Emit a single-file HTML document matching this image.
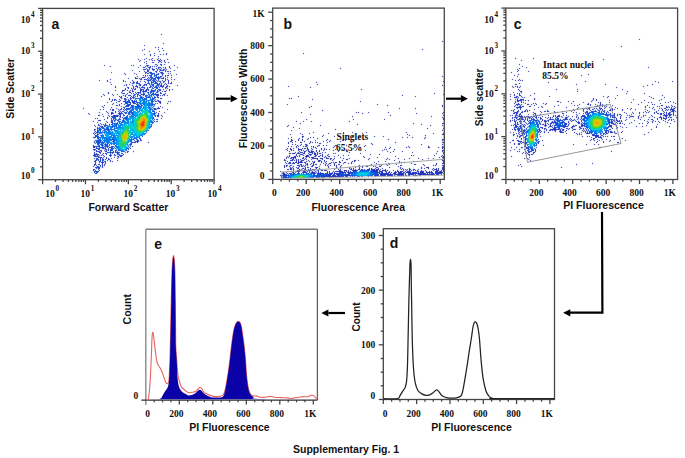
<!DOCTYPE html><html><head><meta charset="utf-8"><style>html,body{margin:0;padding:0;background:#fff;overflow:hidden}svg{display:block}</style></head><body>
<svg width="685" height="458" viewBox="0 0 685 458">
<rect width="685" height="458" fill="#fff"/>
<defs><filter id="bl" filterUnits="userSpaceOnUse" x="0" y="0" width="685" height="458"><feConvolveMatrix order="3" kernelMatrix="0 1 0 1 12 1 0 1 0" divisor="16" edgeMode="none"/></filter></defs>
<g filter="url(#bl)"><path fill="#1c2ab1" d="M161 34h1v1h-1zM163 43h1v1h-1zM144 45h1v1h-1zM155 47h1v1h-1zM158 47h1v1h-1zM162 48h1v1h-1zM144 49h1v1h-1zM158 49h1v1h-1zM142 50h1v1h-1zM163 50h1v1h-1zM149 51h1v1h-1zM159 51h1v1h-1zM154 53h1v1h-1zM166 53h1v1h-1zM144 54h1v1h-1zM150 54h1v1h-1zM160 54h1v1h-1zM163 54h1v1h-1zM166 54h1v1h-1zM150 55h1v1h-1zM154 55h1v1h-1zM158 56h1v1h-1zM146 58h1v1h-1zM152 58h1v1h-1zM158 58h1v1h-1zM138 59h1v1h-1zM144 59h1v1h-1zM149 59h1v1h-1zM151 59h1v1h-1zM157 59h1v1h-1zM160 59h1v1h-1zM167 59h1v1h-1zM140 60h1v1h-1zM152 60h1v1h-1zM154 60h1v1h-1zM161 60h1v1h-1zM164 60h1v1h-1zM139 61h1v1h-1zM146 61h1v1h-1zM164 61h1v1h-1zM144 62h1v1h-1zM158 62h1v1h-1zM161 62h1v1h-1zM165 62h1v1h-1zM168 62h1v1h-1zM146 63h1v1h-1zM164 64h1v1h-1zM104 65h1v1h-1zM131 65h1v1h-1zM133 65h1v1h-1zM140 65h1v1h-1zM157 65h1v1h-1zM174 65h1v1h-1zM110 66h1v1h-1zM145 66h1v1h-1zM150 66h1v1h-1zM152 66h1v1h-1zM154 66h1v1h-1zM156 66h1v1h-1zM169 66h1v1h-1zM138 67h1v1h-1zM143 67h1v1h-1zM144 67h1v1h-1zM169 67h1v1h-1zM177 67h1v1h-1zM146 68h1v1h-1zM152 68h1v1h-1zM156 68h1v1h-1zM170 68h1v1h-1zM143 69h1v1h-1zM154 69h1v1h-1zM166 69h1v1h-1zM132 70h1v1h-1zM174 70h1v1h-1zM139 71h1v1h-1zM144 71h1v1h-1zM165 71h1v1h-1zM167 71h1v1h-1zM168 71h1v1h-1zM170 71h1v1h-1zM111 72h1v1h-1zM124 73h1v1h-1zM134 73h1v1h-1zM168 73h1v1h-1zM170 73h1v1h-1zM125 74h1v1h-1zM136 74h1v1h-1zM176 74h1v1h-1zM143 75h1v1h-1zM145 75h1v1h-1zM147 75h1v1h-1zM165 75h1v1h-1zM167 75h1v1h-1zM168 75h1v1h-1zM171 75h1v1h-1zM137 76h1v1h-1zM165 76h1v1h-1zM135 77h1v1h-1zM142 77h1v1h-1zM167 77h1v1h-1zM171 77h1v1h-1zM128 78h1v1h-1zM135 78h1v1h-1zM137 78h1v1h-1zM139 78h1v1h-1zM110 79h1v1h-1zM140 79h1v1h-1zM141 79h1v1h-1zM167 79h1v1h-1zM171 79h1v1h-1zM174 79h1v1h-1zM99 80h1v1h-1zM107 80h1v1h-1zM123 80h1v1h-1zM132 80h1v1h-1zM162 80h1v1h-1zM168 80h1v1h-1zM107 81h1v1h-1zM123 81h1v1h-1zM125 81h1v1h-1zM137 81h1v1h-1zM140 81h1v1h-1zM144 81h1v1h-1zM168 81h1v1h-1zM110 82h1v1h-1zM130 82h1v1h-1zM163 82h1v1h-1zM168 82h1v1h-1zM171 82h1v1h-1zM165 83h1v1h-1zM168 83h1v1h-1zM170 83h1v1h-1zM171 83h1v1h-1zM111 84h1v1h-1zM126 84h1v1h-1zM129 84h1v1h-1zM164 84h1v1h-1zM124 85h1v1h-1zM126 85h1v1h-1zM177 85h1v1h-1zM115 86h1v1h-1zM169 86h1v1h-1zM115 87h1v1h-1zM127 87h1v1h-1zM128 87h1v1h-1zM139 87h1v1h-1zM147 87h1v1h-1zM125 88h1v1h-1zM128 88h1v1h-1zM131 88h1v1h-1zM167 88h1v1h-1zM125 89h1v1h-1zM135 89h1v1h-1zM163 89h1v1h-1zM169 89h1v1h-1zM172 89h1v1h-1zM115 90h1v1h-1zM124 90h1v1h-1zM127 90h1v1h-1zM130 90h1v1h-1zM166 90h1v1h-1zM169 90h1v1h-1zM129 91h1v1h-1zM162 91h1v1h-1zM164 91h1v1h-1zM165 91h1v1h-1zM108 92h1v1h-1zM135 92h1v1h-1zM160 92h1v1h-1zM108 93h1v1h-1zM127 93h1v1h-1zM161 93h1v1h-1zM165 93h1v1h-1zM103 94h1v1h-1zM112 94h1v1h-1zM117 94h1v1h-1zM126 94h1v1h-1zM104 95h1v1h-1zM113 95h1v1h-1zM123 95h1v1h-1zM125 95h1v1h-1zM128 95h1v1h-1zM160 95h1v1h-1zM162 95h1v1h-1zM167 95h1v1h-1zM101 96h1v1h-1zM119 96h1v1h-1zM127 97h1v1h-1zM158 97h1v1h-1zM109 98h1v1h-1zM160 98h1v1h-1zM161 98h1v1h-1zM109 99h1v1h-1zM115 99h1v1h-1zM119 99h1v1h-1zM114 100h1v1h-1zM116 100h1v1h-1zM120 100h1v1h-1zM111 101h1v1h-1zM118 101h1v1h-1zM119 101h1v1h-1zM123 101h1v1h-1zM168 101h1v1h-1zM170 101h1v1h-1zM107 102h1v1h-1zM116 102h1v1h-1zM113 103h1v1h-1zM121 103h1v1h-1zM155 103h1v1h-1zM157 103h1v1h-1zM160 103h1v1h-1zM167 103h1v1h-1zM112 104h1v1h-1zM119 104h1v1h-1zM124 104h1v1h-1zM104 105h1v1h-1zM116 105h1v1h-1zM117 105h1v1h-1zM119 105h1v1h-1zM102 106h1v1h-1zM121 106h1v1h-1zM160 106h1v1h-1zM103 107h1v1h-1zM111 107h1v1h-1zM158 107h1v1h-1zM162 107h1v1h-1zM83 108h1v1h-1zM116 108h1v1h-1zM159 108h1v1h-1zM100 109h1v1h-1zM103 109h1v1h-1zM110 109h1v1h-1zM118 109h1v1h-1zM167 109h1v1h-1zM106 111h1v1h-1zM118 111h1v1h-1zM159 111h1v1h-1zM99 112h1v1h-1zM107 112h1v1h-1zM115 112h1v1h-1zM156 112h1v1h-1zM164 112h1v1h-1zM88 113h1v1h-1zM108 113h1v1h-1zM158 113h1v1h-1zM89 114h1v1h-1zM102 114h1v1h-1zM98 115h1v1h-1zM99 115h1v1h-1zM108 115h1v1h-1zM161 115h1v1h-1zM103 116h1v1h-1zM109 116h1v1h-1zM162 116h1v1h-1zM107 117h1v1h-1zM95 118h1v1h-1zM97 118h1v1h-1zM107 118h1v1h-1zM161 118h1v1h-1zM104 119h1v1h-1zM98 120h1v1h-1zM99 120h1v1h-1zM100 120h1v1h-1zM93 121h1v1h-1zM106 121h1v1h-1zM156 121h1v1h-1zM157 121h1v1h-1zM97 122h1v1h-1zM100 123h1v1h-1zM101 124h1v1h-1zM103 124h1v1h-1zM94 125h1v1h-1zM95 126h1v1h-1zM94 129h1v1h-1zM93 133h1v1h-1zM93 137h1v1h-1zM141 140h1v1h-1zM148 142h1v1h-1zM93 145h1v1h-1zM132 146h1v1h-1zM130 148h1v1h-1zM133 151h1v1h-1zM94 152h1v1h-1zM106 154h1v1h-1zM123 154h1v1h-1zM106 157h1v1h-1zM114 157h1v1h-1zM94 158h1v1h-1zM106 158h1v1h-1zM108 158h1v1h-1zM111 158h1v1h-1zM117 158h1v1h-1zM107 160h1v1h-1zM110 160h1v1h-1zM117 160h1v1h-1zM110 161h1v1h-1zM112 161h1v1h-1zM104 165h1v1h-1zM93 166h1v1h-1zM99 170h1v1h-1z"/>
<path fill="#1a30c3" d="M158 60h1v1h-1zM159 60h1v1h-1zM159 61h1v1h-1zM160 61h1v1h-1zM152 62h1v1h-1zM153 62h1v1h-1zM155 64h1v1h-1zM156 64h1v1h-1zM160 64h1v1h-1zM161 64h1v1h-1zM146 65h1v1h-1zM147 65h1v1h-1zM148 65h1v1h-1zM161 65h1v1h-1zM147 66h1v1h-1zM148 67h1v1h-1zM149 67h1v1h-1zM150 67h1v1h-1zM158 67h1v1h-1zM159 67h1v1h-1zM160 67h1v1h-1zM163 67h1v1h-1zM165 67h1v1h-1zM149 68h1v1h-1zM158 68h1v1h-1zM161 68h1v1h-1zM165 68h1v1h-1zM144 69h1v1h-1zM145 69h1v1h-1zM147 69h1v1h-1zM149 69h1v1h-1zM152 69h1v1h-1zM153 69h1v1h-1zM157 69h1v1h-1zM163 69h1v1h-1zM164 69h1v1h-1zM147 70h1v1h-1zM148 70h1v1h-1zM153 70h1v1h-1zM157 70h1v1h-1zM160 70h1v1h-1zM161 70h1v1h-1zM162 70h1v1h-1zM163 70h1v1h-1zM165 70h1v1h-1zM147 71h1v1h-1zM148 71h1v1h-1zM155 71h1v1h-1zM156 71h1v1h-1zM159 71h1v1h-1zM145 72h1v1h-1zM146 72h1v1h-1zM149 72h1v1h-1zM150 72h1v1h-1zM151 72h1v1h-1zM156 72h1v1h-1zM160 72h1v1h-1zM161 72h1v1h-1zM162 72h1v1h-1zM145 73h1v1h-1zM147 73h1v1h-1zM148 73h1v1h-1zM158 73h1v1h-1zM161 73h1v1h-1zM163 73h1v1h-1zM156 74h1v1h-1zM157 74h1v1h-1zM158 74h1v1h-1zM162 74h1v1h-1zM149 75h1v1h-1zM162 75h1v1h-1zM145 76h1v1h-1zM154 76h1v1h-1zM160 76h1v1h-1zM161 76h1v1h-1zM143 77h1v1h-1zM144 77h1v1h-1zM148 77h1v1h-1zM150 77h1v1h-1zM152 77h1v1h-1zM163 77h1v1h-1zM136 78h1v1h-1zM141 78h1v1h-1zM147 78h1v1h-1zM149 78h1v1h-1zM161 78h1v1h-1zM162 78h1v1h-1zM163 78h1v1h-1zM165 78h1v1h-1zM144 79h1v1h-1zM145 79h1v1h-1zM146 79h1v1h-1zM148 79h1v1h-1zM150 79h1v1h-1zM151 79h1v1h-1zM158 79h1v1h-1zM165 79h1v1h-1zM147 80h1v1h-1zM149 80h1v1h-1zM150 80h1v1h-1zM156 80h1v1h-1zM158 80h1v1h-1zM165 80h1v1h-1zM133 81h1v1h-1zM151 81h1v1h-1zM157 81h1v1h-1zM159 81h1v1h-1zM160 81h1v1h-1zM163 81h1v1h-1zM164 81h1v1h-1zM133 82h1v1h-1zM134 82h1v1h-1zM136 82h1v1h-1zM137 82h1v1h-1zM145 82h1v1h-1zM151 82h1v1h-1zM156 82h1v1h-1zM160 82h1v1h-1zM132 83h1v1h-1zM133 83h1v1h-1zM136 83h1v1h-1zM137 83h1v1h-1zM154 83h1v1h-1zM155 83h1v1h-1zM157 83h1v1h-1zM159 83h1v1h-1zM161 83h1v1h-1zM140 84h1v1h-1zM144 84h1v1h-1zM145 84h1v1h-1zM146 84h1v1h-1zM153 84h1v1h-1zM159 84h1v1h-1zM161 84h1v1h-1zM166 84h1v1h-1zM132 85h1v1h-1zM136 85h1v1h-1zM139 85h1v1h-1zM140 85h1v1h-1zM143 85h1v1h-1zM144 85h1v1h-1zM146 85h1v1h-1zM153 85h1v1h-1zM160 85h1v1h-1zM161 85h1v1h-1zM163 85h1v1h-1zM167 85h1v1h-1zM133 86h1v1h-1zM135 86h1v1h-1zM136 86h1v1h-1zM137 86h1v1h-1zM142 86h1v1h-1zM150 86h1v1h-1zM158 86h1v1h-1zM160 86h1v1h-1zM161 86h1v1h-1zM162 86h1v1h-1zM163 86h1v1h-1zM166 86h1v1h-1zM167 86h1v1h-1zM133 87h1v1h-1zM137 87h1v1h-1zM141 87h1v1h-1zM143 87h1v1h-1zM144 87h1v1h-1zM149 87h1v1h-1zM150 87h1v1h-1zM157 87h1v1h-1zM159 87h1v1h-1zM162 87h1v1h-1zM165 87h1v1h-1zM166 87h1v1h-1zM133 88h1v1h-1zM135 88h1v1h-1zM140 88h1v1h-1zM144 88h1v1h-1zM147 88h1v1h-1zM157 88h1v1h-1zM165 88h1v1h-1zM132 89h1v1h-1zM134 89h1v1h-1zM140 89h1v1h-1zM142 89h1v1h-1zM143 89h1v1h-1zM146 89h1v1h-1zM147 89h1v1h-1zM148 89h1v1h-1zM151 89h1v1h-1zM158 89h1v1h-1zM159 89h1v1h-1zM160 89h1v1h-1zM122 90h1v1h-1zM123 90h1v1h-1zM132 90h1v1h-1zM140 90h1v1h-1zM143 90h1v1h-1zM145 90h1v1h-1zM146 90h1v1h-1zM148 90h1v1h-1zM151 90h1v1h-1zM157 90h1v1h-1zM159 90h1v1h-1zM160 90h1v1h-1zM122 91h1v1h-1zM132 91h1v1h-1zM133 91h1v1h-1zM140 91h1v1h-1zM142 91h1v1h-1zM144 91h1v1h-1zM145 91h1v1h-1zM146 91h1v1h-1zM150 91h1v1h-1zM157 91h1v1h-1zM158 91h1v1h-1zM121 92h1v1h-1zM129 92h1v1h-1zM130 92h1v1h-1zM137 92h1v1h-1zM138 92h1v1h-1zM140 92h1v1h-1zM147 92h1v1h-1zM148 92h1v1h-1zM157 92h1v1h-1zM122 93h1v1h-1zM123 93h1v1h-1zM124 93h1v1h-1zM131 93h1v1h-1zM133 93h1v1h-1zM136 93h1v1h-1zM140 93h1v1h-1zM144 93h1v1h-1zM155 93h1v1h-1zM160 93h1v1h-1zM141 94h1v1h-1zM142 94h1v1h-1zM155 94h1v1h-1zM156 94h1v1h-1zM157 94h1v1h-1zM158 94h1v1h-1zM163 94h1v1h-1zM164 94h1v1h-1zM129 95h1v1h-1zM130 95h1v1h-1zM137 95h1v1h-1zM139 95h1v1h-1zM140 95h1v1h-1zM143 95h1v1h-1zM156 95h1v1h-1zM157 95h1v1h-1zM158 95h1v1h-1zM164 95h1v1h-1zM121 96h1v1h-1zM125 96h1v1h-1zM131 96h1v1h-1zM137 96h1v1h-1zM157 96h1v1h-1zM120 97h1v1h-1zM121 97h1v1h-1zM130 97h1v1h-1zM132 97h1v1h-1zM133 97h1v1h-1zM152 97h1v1h-1zM155 97h1v1h-1zM157 97h1v1h-1zM121 98h1v1h-1zM124 98h1v1h-1zM130 98h1v1h-1zM131 98h1v1h-1zM133 98h1v1h-1zM112 99h1v1h-1zM114 99h1v1h-1zM124 99h1v1h-1zM126 99h1v1h-1zM128 99h1v1h-1zM130 99h1v1h-1zM155 99h1v1h-1zM112 100h1v1h-1zM125 100h1v1h-1zM131 100h1v1h-1zM132 100h1v1h-1zM134 100h1v1h-1zM154 100h1v1h-1zM157 100h1v1h-1zM158 100h1v1h-1zM124 101h1v1h-1zM132 101h1v1h-1zM133 101h1v1h-1zM153 101h1v1h-1zM155 101h1v1h-1zM156 101h1v1h-1zM158 101h1v1h-1zM159 101h1v1h-1zM160 101h1v1h-1zM130 102h1v1h-1zM132 102h1v1h-1zM133 102h1v1h-1zM159 102h1v1h-1zM160 102h1v1h-1zM125 103h1v1h-1zM130 103h1v1h-1zM133 103h1v1h-1zM134 103h1v1h-1zM135 103h1v1h-1zM129 104h1v1h-1zM130 104h1v1h-1zM154 104h1v1h-1zM129 105h1v1h-1zM131 105h1v1h-1zM154 105h1v1h-1zM125 106h1v1h-1zM128 106h1v1h-1zM123 107h1v1h-1zM124 107h1v1h-1zM121 108h1v1h-1zM154 108h1v1h-1zM155 108h1v1h-1zM157 108h1v1h-1zM158 108h1v1h-1zM112 109h1v1h-1zM113 109h1v1h-1zM120 109h1v1h-1zM121 109h1v1h-1zM123 109h1v1h-1zM129 109h1v1h-1zM154 109h1v1h-1zM155 109h1v1h-1zM156 109h1v1h-1zM112 110h1v1h-1zM113 110h1v1h-1zM119 110h1v1h-1zM124 110h1v1h-1zM115 111h1v1h-1zM120 111h1v1h-1zM122 111h1v1h-1zM123 111h1v1h-1zM127 111h1v1h-1zM129 111h1v1h-1zM154 111h1v1h-1zM111 112h1v1h-1zM112 112h1v1h-1zM119 112h1v1h-1zM121 112h1v1h-1zM124 112h1v1h-1zM111 113h1v1h-1zM112 113h1v1h-1zM113 113h1v1h-1zM118 113h1v1h-1zM119 113h1v1h-1zM120 113h1v1h-1zM121 113h1v1h-1zM122 113h1v1h-1zM155 113h1v1h-1zM111 114h1v1h-1zM119 114h1v1h-1zM120 114h1v1h-1zM123 114h1v1h-1zM158 114h1v1h-1zM113 115h1v1h-1zM114 115h1v1h-1zM115 115h1v1h-1zM116 115h1v1h-1zM117 115h1v1h-1zM118 115h1v1h-1zM120 115h1v1h-1zM123 115h1v1h-1zM124 115h1v1h-1zM155 115h1v1h-1zM157 115h1v1h-1zM158 115h1v1h-1zM111 116h1v1h-1zM112 116h1v1h-1zM116 116h1v1h-1zM117 116h1v1h-1zM120 116h1v1h-1zM155 116h1v1h-1zM157 116h1v1h-1zM158 116h1v1h-1zM112 117h1v1h-1zM120 117h1v1h-1zM122 117h1v1h-1zM111 118h1v1h-1zM119 118h1v1h-1zM113 119h1v1h-1zM120 119h1v1h-1zM154 119h1v1h-1zM156 119h1v1h-1zM157 119h1v1h-1zM114 120h1v1h-1zM111 121h1v1h-1zM114 121h1v1h-1zM154 121h1v1h-1zM107 122h1v1h-1zM111 122h1v1h-1zM112 122h1v1h-1zM105 123h1v1h-1zM98 124h1v1h-1zM105 124h1v1h-1zM109 124h1v1h-1zM111 124h1v1h-1zM98 125h1v1h-1zM99 125h1v1h-1zM104 125h1v1h-1zM100 126h1v1h-1zM101 126h1v1h-1zM102 126h1v1h-1zM104 126h1v1h-1zM151 126h1v1h-1zM97 127h1v1h-1zM99 127h1v1h-1zM103 127h1v1h-1zM95 129h1v1h-1zM94 130h1v1h-1zM95 131h1v1h-1zM94 132h1v1h-1zM96 132h1v1h-1zM95 133h1v1h-1zM97 133h1v1h-1zM94 134h1v1h-1zM97 134h1v1h-1zM98 134h1v1h-1zM95 135h1v1h-1zM95 136h1v1h-1zM94 137h1v1h-1zM95 137h1v1h-1zM140 138h1v1h-1zM133 139h1v1h-1zM137 139h1v1h-1zM140 139h1v1h-1zM134 140h1v1h-1zM137 140h1v1h-1zM138 140h1v1h-1zM140 140h1v1h-1zM94 141h1v1h-1zM135 141h1v1h-1zM136 141h1v1h-1zM137 141h1v1h-1zM138 141h1v1h-1zM94 142h1v1h-1zM132 142h1v1h-1zM133 142h1v1h-1zM134 142h1v1h-1zM135 142h1v1h-1zM137 142h1v1h-1zM95 143h1v1h-1zM109 145h1v1h-1zM93 146h1v1h-1zM94 146h1v1h-1zM95 146h1v1h-1zM102 146h1v1h-1zM93 147h1v1h-1zM94 147h1v1h-1zM100 147h1v1h-1zM101 147h1v1h-1zM102 147h1v1h-1zM103 147h1v1h-1zM109 147h1v1h-1zM110 147h1v1h-1zM129 147h1v1h-1zM96 148h1v1h-1zM102 148h1v1h-1zM103 148h1v1h-1zM104 148h1v1h-1zM108 148h1v1h-1zM113 148h1v1h-1zM115 148h1v1h-1zM93 149h1v1h-1zM94 149h1v1h-1zM95 149h1v1h-1zM98 149h1v1h-1zM99 149h1v1h-1zM105 149h1v1h-1zM106 149h1v1h-1zM108 149h1v1h-1zM128 149h1v1h-1zM94 150h1v1h-1zM96 150h1v1h-1zM100 150h1v1h-1zM101 150h1v1h-1zM104 150h1v1h-1zM106 150h1v1h-1zM108 150h1v1h-1zM115 150h1v1h-1zM96 151h1v1h-1zM97 151h1v1h-1zM98 151h1v1h-1zM99 151h1v1h-1zM101 151h1v1h-1zM105 151h1v1h-1zM106 151h1v1h-1zM113 151h1v1h-1zM115 151h1v1h-1zM127 151h1v1h-1zM128 151h1v1h-1zM99 152h1v1h-1zM100 152h1v1h-1zM107 152h1v1h-1zM108 152h1v1h-1zM112 152h1v1h-1zM113 152h1v1h-1zM115 152h1v1h-1zM116 152h1v1h-1zM119 152h1v1h-1zM125 152h1v1h-1zM127 152h1v1h-1zM94 153h1v1h-1zM96 153h1v1h-1zM100 153h1v1h-1zM103 153h1v1h-1zM105 153h1v1h-1zM106 153h1v1h-1zM112 153h1v1h-1zM117 153h1v1h-1zM121 153h1v1h-1zM122 153h1v1h-1zM94 154h1v1h-1zM96 154h1v1h-1zM97 154h1v1h-1zM98 154h1v1h-1zM102 154h1v1h-1zM110 154h1v1h-1zM114 154h1v1h-1zM117 154h1v1h-1zM93 155h1v1h-1zM97 155h1v1h-1zM99 155h1v1h-1zM101 155h1v1h-1zM103 155h1v1h-1zM109 155h1v1h-1zM110 155h1v1h-1zM111 155h1v1h-1zM114 155h1v1h-1zM115 155h1v1h-1zM121 155h1v1h-1zM122 155h1v1h-1zM94 156h1v1h-1zM96 156h1v1h-1zM97 156h1v1h-1zM98 156h1v1h-1zM104 156h1v1h-1zM110 156h1v1h-1zM117 156h1v1h-1zM118 156h1v1h-1zM120 156h1v1h-1zM121 156h1v1h-1zM98 157h1v1h-1zM99 157h1v1h-1zM100 157h1v1h-1zM101 157h1v1h-1zM103 157h1v1h-1zM118 157h1v1h-1zM96 158h1v1h-1zM97 158h1v1h-1zM100 158h1v1h-1zM102 158h1v1h-1zM98 159h1v1h-1zM100 159h1v1h-1zM102 159h1v1h-1zM103 159h1v1h-1zM105 159h1v1h-1zM108 159h1v1h-1zM109 159h1v1h-1zM95 160h1v1h-1zM98 160h1v1h-1zM100 160h1v1h-1zM94 161h1v1h-1zM95 161h1v1h-1zM99 161h1v1h-1zM100 161h1v1h-1zM95 162h1v1h-1zM99 162h1v1h-1zM101 162h1v1h-1zM102 162h1v1h-1zM103 162h1v1h-1zM105 162h1v1h-1zM95 163h1v1h-1zM102 163h1v1h-1zM105 163h1v1h-1zM94 164h1v1h-1zM95 164h1v1h-1zM98 164h1v1h-1zM99 164h1v1h-1zM102 164h1v1h-1zM104 164h1v1h-1zM94 165h1v1h-1zM96 165h1v1h-1zM100 165h1v1h-1zM102 165h1v1h-1zM100 166h1v1h-1zM102 166h1v1h-1zM95 167h1v1h-1zM96 167h1v1h-1zM99 167h1v1h-1zM102 167h1v1h-1zM96 168h1v1h-1zM98 168h1v1h-1zM99 168h1v1h-1zM93 169h1v1h-1zM94 169h1v1h-1zM98 169h1v1h-1zM93 170h1v1h-1zM95 170h1v1h-1zM97 171h1v1h-1zM98 171h1v1h-1zM94 172h1v1h-1zM95 173h1v1h-1z"/>
<path fill="#1052d8" d="M159 69h1v1h-1zM160 69h1v1h-1zM150 73h1v1h-1zM151 73h1v1h-1zM152 73h1v1h-1zM153 73h1v1h-1zM154 73h1v1h-1zM162 73h1v1h-1zM151 74h1v1h-1zM152 74h1v1h-1zM154 74h1v1h-1zM150 75h1v1h-1zM151 75h1v1h-1zM154 75h1v1h-1zM155 75h1v1h-1zM156 75h1v1h-1zM150 76h1v1h-1zM151 76h1v1h-1zM156 76h1v1h-1zM158 76h1v1h-1zM151 77h1v1h-1zM155 77h1v1h-1zM156 77h1v1h-1zM157 77h1v1h-1zM158 77h1v1h-1zM159 77h1v1h-1zM160 77h1v1h-1zM151 78h1v1h-1zM152 78h1v1h-1zM153 78h1v1h-1zM154 78h1v1h-1zM155 78h1v1h-1zM157 78h1v1h-1zM158 78h1v1h-1zM159 78h1v1h-1zM153 79h1v1h-1zM154 79h1v1h-1zM155 79h1v1h-1zM148 80h1v1h-1zM152 80h1v1h-1zM153 80h1v1h-1zM154 80h1v1h-1zM148 81h1v1h-1zM153 81h1v1h-1zM154 81h1v1h-1zM155 81h1v1h-1zM148 82h1v1h-1zM152 82h1v1h-1zM153 82h1v1h-1zM155 82h1v1h-1zM138 83h1v1h-1zM139 83h1v1h-1zM147 83h1v1h-1zM148 83h1v1h-1zM149 83h1v1h-1zM151 83h1v1h-1zM156 83h1v1h-1zM139 84h1v1h-1zM149 84h1v1h-1zM151 84h1v1h-1zM152 84h1v1h-1zM157 84h1v1h-1zM158 84h1v1h-1zM150 85h1v1h-1zM152 85h1v1h-1zM156 85h1v1h-1zM157 85h1v1h-1zM158 85h1v1h-1zM151 86h1v1h-1zM153 86h1v1h-1zM155 86h1v1h-1zM156 86h1v1h-1zM142 87h1v1h-1zM152 87h1v1h-1zM154 87h1v1h-1zM155 87h1v1h-1zM156 87h1v1h-1zM152 88h1v1h-1zM153 88h1v1h-1zM156 88h1v1h-1zM141 89h1v1h-1zM155 89h1v1h-1zM141 90h1v1h-1zM152 90h1v1h-1zM153 90h1v1h-1zM154 90h1v1h-1zM155 90h1v1h-1zM143 91h1v1h-1zM151 91h1v1h-1zM152 91h1v1h-1zM153 91h1v1h-1zM154 91h1v1h-1zM139 92h1v1h-1zM143 92h1v1h-1zM150 92h1v1h-1zM151 92h1v1h-1zM153 92h1v1h-1zM156 92h1v1h-1zM138 93h1v1h-1zM143 93h1v1h-1zM148 93h1v1h-1zM150 93h1v1h-1zM152 93h1v1h-1zM153 93h1v1h-1zM134 94h1v1h-1zM135 94h1v1h-1zM137 94h1v1h-1zM138 94h1v1h-1zM143 94h1v1h-1zM144 94h1v1h-1zM148 94h1v1h-1zM151 94h1v1h-1zM152 94h1v1h-1zM153 94h1v1h-1zM154 94h1v1h-1zM133 95h1v1h-1zM134 95h1v1h-1zM145 95h1v1h-1zM146 95h1v1h-1zM147 95h1v1h-1zM151 95h1v1h-1zM153 95h1v1h-1zM133 96h1v1h-1zM135 96h1v1h-1zM140 96h1v1h-1zM141 96h1v1h-1zM145 96h1v1h-1zM146 96h1v1h-1zM148 96h1v1h-1zM149 96h1v1h-1zM151 96h1v1h-1zM154 96h1v1h-1zM134 97h1v1h-1zM140 97h1v1h-1zM141 97h1v1h-1zM142 97h1v1h-1zM143 97h1v1h-1zM146 97h1v1h-1zM147 97h1v1h-1zM148 97h1v1h-1zM149 97h1v1h-1zM150 97h1v1h-1zM154 97h1v1h-1zM125 98h1v1h-1zM135 98h1v1h-1zM136 98h1v1h-1zM137 98h1v1h-1zM138 98h1v1h-1zM141 98h1v1h-1zM142 98h1v1h-1zM144 98h1v1h-1zM145 98h1v1h-1zM146 98h1v1h-1zM150 98h1v1h-1zM152 98h1v1h-1zM153 98h1v1h-1zM154 98h1v1h-1zM125 99h1v1h-1zM135 99h1v1h-1zM143 99h1v1h-1zM144 99h1v1h-1zM145 99h1v1h-1zM146 99h1v1h-1zM152 99h1v1h-1zM153 99h1v1h-1zM128 100h1v1h-1zM129 100h1v1h-1zM136 100h1v1h-1zM152 100h1v1h-1zM125 101h1v1h-1zM126 101h1v1h-1zM127 101h1v1h-1zM128 101h1v1h-1zM129 101h1v1h-1zM134 101h1v1h-1zM135 101h1v1h-1zM136 101h1v1h-1zM151 101h1v1h-1zM152 101h1v1h-1zM125 102h1v1h-1zM126 102h1v1h-1zM127 102h1v1h-1zM128 102h1v1h-1zM129 102h1v1h-1zM134 102h1v1h-1zM136 102h1v1h-1zM137 102h1v1h-1zM138 102h1v1h-1zM139 102h1v1h-1zM149 102h1v1h-1zM151 102h1v1h-1zM152 102h1v1h-1zM126 103h1v1h-1zM127 103h1v1h-1zM137 103h1v1h-1zM139 103h1v1h-1zM152 103h1v1h-1zM127 104h1v1h-1zM128 104h1v1h-1zM136 104h1v1h-1zM137 104h1v1h-1zM138 104h1v1h-1zM140 104h1v1h-1zM143 104h1v1h-1zM152 104h1v1h-1zM153 104h1v1h-1zM126 105h1v1h-1zM127 105h1v1h-1zM128 105h1v1h-1zM132 105h1v1h-1zM133 105h1v1h-1zM137 105h1v1h-1zM138 105h1v1h-1zM139 105h1v1h-1zM141 105h1v1h-1zM142 105h1v1h-1zM152 105h1v1h-1zM126 106h1v1h-1zM127 106h1v1h-1zM131 106h1v1h-1zM132 106h1v1h-1zM135 106h1v1h-1zM136 106h1v1h-1zM137 106h1v1h-1zM138 106h1v1h-1zM139 106h1v1h-1zM140 106h1v1h-1zM141 106h1v1h-1zM151 106h1v1h-1zM153 106h1v1h-1zM130 107h1v1h-1zM131 107h1v1h-1zM132 107h1v1h-1zM136 107h1v1h-1zM137 107h1v1h-1zM141 107h1v1h-1zM150 107h1v1h-1zM152 107h1v1h-1zM124 108h1v1h-1zM126 108h1v1h-1zM127 108h1v1h-1zM128 108h1v1h-1zM129 108h1v1h-1zM130 108h1v1h-1zM132 108h1v1h-1zM153 108h1v1h-1zM125 109h1v1h-1zM126 109h1v1h-1zM127 109h1v1h-1zM128 109h1v1h-1zM131 109h1v1h-1zM126 110h1v1h-1zM130 110h1v1h-1zM131 110h1v1h-1zM153 110h1v1h-1zM130 111h1v1h-1zM131 111h1v1h-1zM152 111h1v1h-1zM153 111h1v1h-1zM125 112h1v1h-1zM126 112h1v1h-1zM128 112h1v1h-1zM129 112h1v1h-1zM130 112h1v1h-1zM131 112h1v1h-1zM132 112h1v1h-1zM154 112h1v1h-1zM125 113h1v1h-1zM126 113h1v1h-1zM128 113h1v1h-1zM129 113h1v1h-1zM131 113h1v1h-1zM132 113h1v1h-1zM153 113h1v1h-1zM154 113h1v1h-1zM128 114h1v1h-1zM129 114h1v1h-1zM130 114h1v1h-1zM132 114h1v1h-1zM154 114h1v1h-1zM127 115h1v1h-1zM131 115h1v1h-1zM154 115h1v1h-1zM113 116h1v1h-1zM114 116h1v1h-1zM115 116h1v1h-1zM119 116h1v1h-1zM126 116h1v1h-1zM127 116h1v1h-1zM113 117h1v1h-1zM114 117h1v1h-1zM115 117h1v1h-1zM124 117h1v1h-1zM125 117h1v1h-1zM126 117h1v1h-1zM127 117h1v1h-1zM153 117h1v1h-1zM113 118h1v1h-1zM114 118h1v1h-1zM115 118h1v1h-1zM123 118h1v1h-1zM124 118h1v1h-1zM125 118h1v1h-1zM126 118h1v1h-1zM153 118h1v1h-1zM111 119h1v1h-1zM115 119h1v1h-1zM116 119h1v1h-1zM118 119h1v1h-1zM119 119h1v1h-1zM123 119h1v1h-1zM125 119h1v1h-1zM126 119h1v1h-1zM152 119h1v1h-1zM111 120h1v1h-1zM112 120h1v1h-1zM115 120h1v1h-1zM117 120h1v1h-1zM118 120h1v1h-1zM122 120h1v1h-1zM123 120h1v1h-1zM153 120h1v1h-1zM112 121h1v1h-1zM118 121h1v1h-1zM119 121h1v1h-1zM120 121h1v1h-1zM122 121h1v1h-1zM117 122h1v1h-1zM119 122h1v1h-1zM121 122h1v1h-1zM122 122h1v1h-1zM152 122h1v1h-1zM153 122h1v1h-1zM112 123h1v1h-1zM113 123h1v1h-1zM114 123h1v1h-1zM115 123h1v1h-1zM116 123h1v1h-1zM117 123h1v1h-1zM119 123h1v1h-1zM152 123h1v1h-1zM112 124h1v1h-1zM116 124h1v1h-1zM151 124h1v1h-1zM105 125h1v1h-1zM106 125h1v1h-1zM107 125h1v1h-1zM109 125h1v1h-1zM112 125h1v1h-1zM116 125h1v1h-1zM151 125h1v1h-1zM105 126h1v1h-1zM112 126h1v1h-1zM113 126h1v1h-1zM116 126h1v1h-1zM101 127h1v1h-1zM102 127h1v1h-1zM106 127h1v1h-1zM107 127h1v1h-1zM112 127h1v1h-1zM114 127h1v1h-1zM116 127h1v1h-1zM150 127h1v1h-1zM97 128h1v1h-1zM98 128h1v1h-1zM99 128h1v1h-1zM100 128h1v1h-1zM102 128h1v1h-1zM103 128h1v1h-1zM104 128h1v1h-1zM106 128h1v1h-1zM107 128h1v1h-1zM108 128h1v1h-1zM114 128h1v1h-1zM115 128h1v1h-1zM97 129h1v1h-1zM99 129h1v1h-1zM100 129h1v1h-1zM101 129h1v1h-1zM104 129h1v1h-1zM105 129h1v1h-1zM106 129h1v1h-1zM107 129h1v1h-1zM108 129h1v1h-1zM112 129h1v1h-1zM113 129h1v1h-1zM114 129h1v1h-1zM97 130h1v1h-1zM98 130h1v1h-1zM99 130h1v1h-1zM100 130h1v1h-1zM103 130h1v1h-1zM107 130h1v1h-1zM108 130h1v1h-1zM111 130h1v1h-1zM148 130h1v1h-1zM97 131h1v1h-1zM98 131h1v1h-1zM100 131h1v1h-1zM102 131h1v1h-1zM106 131h1v1h-1zM97 132h1v1h-1zM98 132h1v1h-1zM99 132h1v1h-1zM146 132h1v1h-1zM99 133h1v1h-1zM101 133h1v1h-1zM104 133h1v1h-1zM145 133h1v1h-1zM102 134h1v1h-1zM144 134h1v1h-1zM96 135h1v1h-1zM97 135h1v1h-1zM100 135h1v1h-1zM101 135h1v1h-1zM103 135h1v1h-1zM96 136h1v1h-1zM97 136h1v1h-1zM98 136h1v1h-1zM142 136h1v1h-1zM97 137h1v1h-1zM98 137h1v1h-1zM99 137h1v1h-1zM97 138h1v1h-1zM98 138h1v1h-1zM100 138h1v1h-1zM112 138h1v1h-1zM133 138h1v1h-1zM134 138h1v1h-1zM135 138h1v1h-1zM136 138h1v1h-1zM139 138h1v1h-1zM98 139h1v1h-1zM99 139h1v1h-1zM100 139h1v1h-1zM111 139h1v1h-1zM112 139h1v1h-1zM113 139h1v1h-1zM131 139h1v1h-1zM132 139h1v1h-1zM136 139h1v1h-1zM95 140h1v1h-1zM96 140h1v1h-1zM97 140h1v1h-1zM98 140h1v1h-1zM99 140h1v1h-1zM100 140h1v1h-1zM101 140h1v1h-1zM103 140h1v1h-1zM111 140h1v1h-1zM113 140h1v1h-1zM114 140h1v1h-1zM131 140h1v1h-1zM96 141h1v1h-1zM97 141h1v1h-1zM98 141h1v1h-1zM99 141h1v1h-1zM100 141h1v1h-1zM102 141h1v1h-1zM104 141h1v1h-1zM112 141h1v1h-1zM113 141h1v1h-1zM114 141h1v1h-1zM130 141h1v1h-1zM131 141h1v1h-1zM96 142h1v1h-1zM97 142h1v1h-1zM98 142h1v1h-1zM99 142h1v1h-1zM100 142h1v1h-1zM101 142h1v1h-1zM102 142h1v1h-1zM103 142h1v1h-1zM104 142h1v1h-1zM131 142h1v1h-1zM97 143h1v1h-1zM98 143h1v1h-1zM99 143h1v1h-1zM103 143h1v1h-1zM105 143h1v1h-1zM107 143h1v1h-1zM108 143h1v1h-1zM130 143h1v1h-1zM131 143h1v1h-1zM97 144h1v1h-1zM98 144h1v1h-1zM100 144h1v1h-1zM101 144h1v1h-1zM102 144h1v1h-1zM104 144h1v1h-1zM105 144h1v1h-1zM106 144h1v1h-1zM107 144h1v1h-1zM109 144h1v1h-1zM111 144h1v1h-1zM114 144h1v1h-1zM129 144h1v1h-1zM130 144h1v1h-1zM131 144h1v1h-1zM98 145h1v1h-1zM99 145h1v1h-1zM101 145h1v1h-1zM102 145h1v1h-1zM103 145h1v1h-1zM105 145h1v1h-1zM106 145h1v1h-1zM107 145h1v1h-1zM115 145h1v1h-1zM130 145h1v1h-1zM96 146h1v1h-1zM97 146h1v1h-1zM98 146h1v1h-1zM99 146h1v1h-1zM104 146h1v1h-1zM105 146h1v1h-1zM106 146h1v1h-1zM107 146h1v1h-1zM108 146h1v1h-1zM111 146h1v1h-1zM112 146h1v1h-1zM113 146h1v1h-1zM115 146h1v1h-1zM128 146h1v1h-1zM130 146h1v1h-1zM96 147h1v1h-1zM99 147h1v1h-1zM105 147h1v1h-1zM107 147h1v1h-1zM111 147h1v1h-1zM112 147h1v1h-1zM114 147h1v1h-1zM116 147h1v1h-1zM97 148h1v1h-1zM98 148h1v1h-1zM99 148h1v1h-1zM105 148h1v1h-1zM111 148h1v1h-1zM112 148h1v1h-1zM117 148h1v1h-1zM127 148h1v1h-1zM128 148h1v1h-1zM110 149h1v1h-1zM111 149h1v1h-1zM112 149h1v1h-1zM116 149h1v1h-1zM110 150h1v1h-1zM111 150h1v1h-1zM112 150h1v1h-1zM116 150h1v1h-1zM118 150h1v1h-1zM126 150h1v1h-1zM110 151h1v1h-1zM117 151h1v1h-1zM121 151h1v1h-1zM122 151h1v1h-1zM123 151h1v1h-1zM124 151h1v1h-1zM109 152h1v1h-1zM110 152h1v1h-1zM111 152h1v1h-1zM117 152h1v1h-1zM118 152h1v1h-1zM110 153h1v1h-1zM118 153h1v1h-1zM95 154h1v1h-1zM118 154h1v1h-1zM119 154h1v1h-1zM94 155h1v1h-1zM95 155h1v1h-1zM119 155h1v1h-1zM120 155h1v1h-1zM95 156h1v1h-1zM96 159h1v1h-1zM97 159h1v1h-1zM96 160h1v1h-1zM102 160h1v1h-1zM103 160h1v1h-1zM102 161h1v1h-1zM104 161h1v1h-1zM105 161h1v1h-1zM97 166h1v1h-1zM98 166h1v1h-1zM97 167h1v1h-1zM98 167h1v1h-1zM94 171h1v1h-1zM95 171h1v1h-1zM96 171h1v1h-1zM96 172h1v1h-1zM97 172h1v1h-1zM96 173h1v1h-1z"/>
<path fill="#0380ef" d="M149 94h1v1h-1zM149 95h1v1h-1zM150 95h1v1h-1zM139 98h1v1h-1zM140 98h1v1h-1zM139 99h1v1h-1zM140 99h1v1h-1zM142 99h1v1h-1zM150 99h1v1h-1zM151 99h1v1h-1zM139 100h1v1h-1zM141 100h1v1h-1zM142 100h1v1h-1zM143 100h1v1h-1zM144 100h1v1h-1zM146 100h1v1h-1zM147 100h1v1h-1zM148 100h1v1h-1zM149 100h1v1h-1zM150 100h1v1h-1zM151 100h1v1h-1zM140 101h1v1h-1zM143 101h1v1h-1zM144 101h1v1h-1zM145 101h1v1h-1zM146 101h1v1h-1zM148 101h1v1h-1zM140 102h1v1h-1zM142 102h1v1h-1zM143 102h1v1h-1zM144 102h1v1h-1zM145 102h1v1h-1zM146 102h1v1h-1zM148 102h1v1h-1zM140 103h1v1h-1zM141 103h1v1h-1zM142 103h1v1h-1zM143 103h1v1h-1zM144 103h1v1h-1zM147 103h1v1h-1zM148 103h1v1h-1zM149 103h1v1h-1zM150 103h1v1h-1zM151 103h1v1h-1zM141 104h1v1h-1zM144 104h1v1h-1zM147 104h1v1h-1zM148 104h1v1h-1zM149 104h1v1h-1zM150 104h1v1h-1zM151 104h1v1h-1zM144 105h1v1h-1zM147 105h1v1h-1zM148 105h1v1h-1zM149 105h1v1h-1zM150 105h1v1h-1zM151 105h1v1h-1zM133 106h1v1h-1zM134 106h1v1h-1zM143 106h1v1h-1zM148 106h1v1h-1zM149 106h1v1h-1zM133 107h1v1h-1zM135 107h1v1h-1zM138 107h1v1h-1zM139 107h1v1h-1zM140 107h1v1h-1zM143 107h1v1h-1zM147 107h1v1h-1zM148 107h1v1h-1zM149 107h1v1h-1zM133 108h1v1h-1zM134 108h1v1h-1zM135 108h1v1h-1zM136 108h1v1h-1zM137 108h1v1h-1zM138 108h1v1h-1zM139 108h1v1h-1zM140 108h1v1h-1zM142 108h1v1h-1zM143 108h1v1h-1zM148 108h1v1h-1zM149 108h1v1h-1zM150 108h1v1h-1zM151 108h1v1h-1zM132 109h1v1h-1zM133 109h1v1h-1zM135 109h1v1h-1zM136 109h1v1h-1zM137 109h1v1h-1zM139 109h1v1h-1zM149 109h1v1h-1zM150 109h1v1h-1zM151 109h1v1h-1zM152 109h1v1h-1zM132 110h1v1h-1zM133 110h1v1h-1zM136 110h1v1h-1zM137 110h1v1h-1zM139 110h1v1h-1zM150 110h1v1h-1zM152 110h1v1h-1zM133 111h1v1h-1zM139 111h1v1h-1zM150 111h1v1h-1zM133 112h1v1h-1zM138 112h1v1h-1zM140 112h1v1h-1zM151 112h1v1h-1zM133 113h1v1h-1zM152 113h1v1h-1zM133 114h1v1h-1zM152 114h1v1h-1zM153 114h1v1h-1zM132 115h1v1h-1zM133 115h1v1h-1zM134 115h1v1h-1zM135 115h1v1h-1zM152 115h1v1h-1zM129 116h1v1h-1zM130 116h1v1h-1zM131 116h1v1h-1zM132 116h1v1h-1zM133 116h1v1h-1zM135 116h1v1h-1zM152 116h1v1h-1zM132 117h1v1h-1zM133 117h1v1h-1zM152 117h1v1h-1zM127 118h1v1h-1zM128 118h1v1h-1zM152 118h1v1h-1zM127 119h1v1h-1zM128 119h1v1h-1zM132 119h1v1h-1zM124 120h1v1h-1zM126 120h1v1h-1zM127 120h1v1h-1zM128 120h1v1h-1zM132 120h1v1h-1zM151 120h1v1h-1zM123 121h1v1h-1zM124 121h1v1h-1zM125 121h1v1h-1zM127 121h1v1h-1zM128 121h1v1h-1zM132 121h1v1h-1zM150 121h1v1h-1zM151 121h1v1h-1zM152 121h1v1h-1zM123 122h1v1h-1zM124 122h1v1h-1zM125 122h1v1h-1zM126 122h1v1h-1zM127 122h1v1h-1zM128 122h1v1h-1zM150 122h1v1h-1zM151 122h1v1h-1zM120 123h1v1h-1zM121 123h1v1h-1zM124 123h1v1h-1zM127 123h1v1h-1zM128 123h1v1h-1zM149 123h1v1h-1zM114 124h1v1h-1zM115 124h1v1h-1zM117 124h1v1h-1zM118 124h1v1h-1zM120 124h1v1h-1zM121 124h1v1h-1zM122 124h1v1h-1zM150 124h1v1h-1zM113 125h1v1h-1zM114 125h1v1h-1zM115 125h1v1h-1zM118 125h1v1h-1zM119 125h1v1h-1zM120 125h1v1h-1zM121 125h1v1h-1zM107 126h1v1h-1zM108 126h1v1h-1zM109 126h1v1h-1zM110 126h1v1h-1zM111 126h1v1h-1zM114 126h1v1h-1zM115 126h1v1h-1zM118 126h1v1h-1zM119 126h1v1h-1zM120 126h1v1h-1zM150 126h1v1h-1zM108 127h1v1h-1zM110 127h1v1h-1zM111 127h1v1h-1zM117 127h1v1h-1zM118 127h1v1h-1zM119 127h1v1h-1zM120 127h1v1h-1zM121 127h1v1h-1zM149 127h1v1h-1zM110 128h1v1h-1zM111 128h1v1h-1zM116 128h1v1h-1zM117 128h1v1h-1zM149 128h1v1h-1zM109 129h1v1h-1zM110 129h1v1h-1zM111 129h1v1h-1zM104 130h1v1h-1zM105 130h1v1h-1zM109 130h1v1h-1zM114 130h1v1h-1zM115 130h1v1h-1zM116 130h1v1h-1zM147 130h1v1h-1zM104 131h1v1h-1zM105 131h1v1h-1zM108 131h1v1h-1zM109 131h1v1h-1zM110 131h1v1h-1zM112 131h1v1h-1zM146 131h1v1h-1zM100 132h1v1h-1zM101 132h1v1h-1zM102 132h1v1h-1zM103 132h1v1h-1zM104 132h1v1h-1zM105 132h1v1h-1zM106 132h1v1h-1zM107 132h1v1h-1zM108 132h1v1h-1zM109 132h1v1h-1zM110 132h1v1h-1zM111 132h1v1h-1zM112 132h1v1h-1zM100 133h1v1h-1zM106 133h1v1h-1zM107 133h1v1h-1zM108 133h1v1h-1zM109 133h1v1h-1zM110 133h1v1h-1zM117 133h1v1h-1zM118 133h1v1h-1zM132 133h1v1h-1zM143 133h1v1h-1zM144 133h1v1h-1zM105 134h1v1h-1zM109 134h1v1h-1zM110 134h1v1h-1zM111 134h1v1h-1zM114 134h1v1h-1zM118 134h1v1h-1zM131 134h1v1h-1zM132 134h1v1h-1zM143 134h1v1h-1zM102 135h1v1h-1zM105 135h1v1h-1zM111 135h1v1h-1zM112 135h1v1h-1zM113 135h1v1h-1zM114 135h1v1h-1zM115 135h1v1h-1zM116 135h1v1h-1zM117 135h1v1h-1zM140 135h1v1h-1zM141 135h1v1h-1zM142 135h1v1h-1zM101 136h1v1h-1zM102 136h1v1h-1zM103 136h1v1h-1zM109 136h1v1h-1zM110 136h1v1h-1zM111 136h1v1h-1zM113 136h1v1h-1zM114 136h1v1h-1zM115 136h1v1h-1zM131 136h1v1h-1zM132 136h1v1h-1zM133 136h1v1h-1zM134 136h1v1h-1zM136 136h1v1h-1zM139 136h1v1h-1zM100 137h1v1h-1zM101 137h1v1h-1zM102 137h1v1h-1zM103 137h1v1h-1zM104 137h1v1h-1zM105 137h1v1h-1zM106 137h1v1h-1zM107 137h1v1h-1zM109 137h1v1h-1zM110 137h1v1h-1zM111 137h1v1h-1zM112 137h1v1h-1zM113 137h1v1h-1zM114 137h1v1h-1zM115 137h1v1h-1zM131 137h1v1h-1zM132 137h1v1h-1zM134 137h1v1h-1zM135 137h1v1h-1zM136 137h1v1h-1zM137 137h1v1h-1zM139 137h1v1h-1zM102 138h1v1h-1zM103 138h1v1h-1zM104 138h1v1h-1zM105 138h1v1h-1zM106 138h1v1h-1zM107 138h1v1h-1zM108 138h1v1h-1zM109 138h1v1h-1zM110 138h1v1h-1zM113 138h1v1h-1zM114 138h1v1h-1zM115 138h1v1h-1zM131 138h1v1h-1zM102 139h1v1h-1zM104 139h1v1h-1zM105 139h1v1h-1zM106 139h1v1h-1zM107 139h1v1h-1zM108 139h1v1h-1zM109 139h1v1h-1zM110 139h1v1h-1zM114 139h1v1h-1zM115 139h1v1h-1zM116 139h1v1h-1zM130 139h1v1h-1zM104 140h1v1h-1zM105 140h1v1h-1zM106 140h1v1h-1zM107 140h1v1h-1zM108 140h1v1h-1zM109 140h1v1h-1zM110 140h1v1h-1zM115 140h1v1h-1zM116 140h1v1h-1zM130 140h1v1h-1zM105 141h1v1h-1zM106 141h1v1h-1zM107 141h1v1h-1zM108 141h1v1h-1zM109 141h1v1h-1zM116 141h1v1h-1zM129 141h1v1h-1zM106 142h1v1h-1zM107 142h1v1h-1zM108 142h1v1h-1zM109 142h1v1h-1zM110 142h1v1h-1zM111 142h1v1h-1zM113 142h1v1h-1zM114 142h1v1h-1zM115 142h1v1h-1zM128 142h1v1h-1zM101 143h1v1h-1zM102 143h1v1h-1zM110 143h1v1h-1zM111 143h1v1h-1zM112 143h1v1h-1zM113 143h1v1h-1zM114 143h1v1h-1zM115 143h1v1h-1zM116 143h1v1h-1zM113 144h1v1h-1zM116 144h1v1h-1zM117 144h1v1h-1zM127 144h1v1h-1zM116 145h1v1h-1zM127 145h1v1h-1zM128 145h1v1h-1zM116 146h1v1h-1zM117 146h1v1h-1zM118 146h1v1h-1zM117 147h1v1h-1zM118 147h1v1h-1zM127 147h1v1h-1zM118 148h1v1h-1zM126 148h1v1h-1zM118 149h1v1h-1zM119 149h1v1h-1zM126 149h1v1h-1zM119 150h1v1h-1zM120 150h1v1h-1zM121 150h1v1h-1zM122 150h1v1h-1zM123 150h1v1h-1zM125 150h1v1h-1z"/>
<path fill="#00abea" d="M140 100h1v1h-1zM141 101h1v1h-1zM145 103h1v1h-1zM146 103h1v1h-1zM145 104h1v1h-1zM146 104h1v1h-1zM145 105h1v1h-1zM146 105h1v1h-1zM144 106h1v1h-1zM145 106h1v1h-1zM146 106h1v1h-1zM144 107h1v1h-1zM145 107h1v1h-1zM146 107h1v1h-1zM144 108h1v1h-1zM145 108h1v1h-1zM146 108h1v1h-1zM140 109h1v1h-1zM141 109h1v1h-1zM142 109h1v1h-1zM144 109h1v1h-1zM145 109h1v1h-1zM146 109h1v1h-1zM147 109h1v1h-1zM140 110h1v1h-1zM141 110h1v1h-1zM148 110h1v1h-1zM149 110h1v1h-1zM134 111h1v1h-1zM135 111h1v1h-1zM137 111h1v1h-1zM138 111h1v1h-1zM141 111h1v1h-1zM148 111h1v1h-1zM149 111h1v1h-1zM134 112h1v1h-1zM135 112h1v1h-1zM136 112h1v1h-1zM137 112h1v1h-1zM149 112h1v1h-1zM150 112h1v1h-1zM134 113h1v1h-1zM135 113h1v1h-1zM136 113h1v1h-1zM137 113h1v1h-1zM139 113h1v1h-1zM140 113h1v1h-1zM149 113h1v1h-1zM150 113h1v1h-1zM151 113h1v1h-1zM134 114h1v1h-1zM135 114h1v1h-1zM136 114h1v1h-1zM137 114h1v1h-1zM138 114h1v1h-1zM150 114h1v1h-1zM151 114h1v1h-1zM136 115h1v1h-1zM150 115h1v1h-1zM151 115h1v1h-1zM136 116h1v1h-1zM150 116h1v1h-1zM151 116h1v1h-1zM129 117h1v1h-1zM130 117h1v1h-1zM131 117h1v1h-1zM134 117h1v1h-1zM135 117h1v1h-1zM150 117h1v1h-1zM151 117h1v1h-1zM129 118h1v1h-1zM130 118h1v1h-1zM131 118h1v1h-1zM132 118h1v1h-1zM133 118h1v1h-1zM150 118h1v1h-1zM151 118h1v1h-1zM129 119h1v1h-1zM130 119h1v1h-1zM133 119h1v1h-1zM150 119h1v1h-1zM130 120h1v1h-1zM133 120h1v1h-1zM150 120h1v1h-1zM130 121h1v1h-1zM131 121h1v1h-1zM133 121h1v1h-1zM149 121h1v1h-1zM129 122h1v1h-1zM130 122h1v1h-1zM131 122h1v1h-1zM132 122h1v1h-1zM133 122h1v1h-1zM149 122h1v1h-1zM125 123h1v1h-1zM126 123h1v1h-1zM130 123h1v1h-1zM132 123h1v1h-1zM133 123h1v1h-1zM123 124h1v1h-1zM124 124h1v1h-1zM125 124h1v1h-1zM126 124h1v1h-1zM128 124h1v1h-1zM129 124h1v1h-1zM130 124h1v1h-1zM133 124h1v1h-1zM134 124h1v1h-1zM149 124h1v1h-1zM122 125h1v1h-1zM133 125h1v1h-1zM134 125h1v1h-1zM149 125h1v1h-1zM122 126h1v1h-1zM148 126h1v1h-1zM149 126h1v1h-1zM122 127h1v1h-1zM123 127h1v1h-1zM148 127h1v1h-1zM118 128h1v1h-1zM119 128h1v1h-1zM120 128h1v1h-1zM121 128h1v1h-1zM122 128h1v1h-1zM123 128h1v1h-1zM148 128h1v1h-1zM117 129h1v1h-1zM118 129h1v1h-1zM119 129h1v1h-1zM120 129h1v1h-1zM121 129h1v1h-1zM122 129h1v1h-1zM123 129h1v1h-1zM130 129h1v1h-1zM131 129h1v1h-1zM132 129h1v1h-1zM133 129h1v1h-1zM147 129h1v1h-1zM117 130h1v1h-1zM118 130h1v1h-1zM120 130h1v1h-1zM122 130h1v1h-1zM130 130h1v1h-1zM131 130h1v1h-1zM132 130h1v1h-1zM133 130h1v1h-1zM146 130h1v1h-1zM114 131h1v1h-1zM115 131h1v1h-1zM116 131h1v1h-1zM117 131h1v1h-1zM118 131h1v1h-1zM119 131h1v1h-1zM120 131h1v1h-1zM121 131h1v1h-1zM130 131h1v1h-1zM132 131h1v1h-1zM133 131h1v1h-1zM144 131h1v1h-1zM145 131h1v1h-1zM113 132h1v1h-1zM115 132h1v1h-1zM116 132h1v1h-1zM117 132h1v1h-1zM118 132h1v1h-1zM119 132h1v1h-1zM131 132h1v1h-1zM132 132h1v1h-1zM133 132h1v1h-1zM143 132h1v1h-1zM111 133h1v1h-1zM112 133h1v1h-1zM113 133h1v1h-1zM114 133h1v1h-1zM115 133h1v1h-1zM116 133h1v1h-1zM119 133h1v1h-1zM131 133h1v1h-1zM134 133h1v1h-1zM135 133h1v1h-1zM142 133h1v1h-1zM106 134h1v1h-1zM107 134h1v1h-1zM108 134h1v1h-1zM112 134h1v1h-1zM113 134h1v1h-1zM116 134h1v1h-1zM119 134h1v1h-1zM133 134h1v1h-1zM134 134h1v1h-1zM135 134h1v1h-1zM136 134h1v1h-1zM140 134h1v1h-1zM141 134h1v1h-1zM142 134h1v1h-1zM106 135h1v1h-1zM107 135h1v1h-1zM108 135h1v1h-1zM118 135h1v1h-1zM130 135h1v1h-1zM133 135h1v1h-1zM134 135h1v1h-1zM135 135h1v1h-1zM136 135h1v1h-1zM139 135h1v1h-1zM106 136h1v1h-1zM107 136h1v1h-1zM108 136h1v1h-1zM117 136h1v1h-1zM118 136h1v1h-1zM130 136h1v1h-1zM137 136h1v1h-1zM138 136h1v1h-1zM108 137h1v1h-1zM116 137h1v1h-1zM117 137h1v1h-1zM118 137h1v1h-1zM130 137h1v1h-1zM138 137h1v1h-1zM116 138h1v1h-1zM117 138h1v1h-1zM118 138h1v1h-1zM129 138h1v1h-1zM117 139h1v1h-1zM118 139h1v1h-1zM129 139h1v1h-1zM117 140h1v1h-1zM118 140h1v1h-1zM128 140h1v1h-1zM129 140h1v1h-1zM117 141h1v1h-1zM118 141h1v1h-1zM119 141h1v1h-1zM128 141h1v1h-1zM116 142h1v1h-1zM117 142h1v1h-1zM118 142h1v1h-1zM127 142h1v1h-1zM117 143h1v1h-1zM118 143h1v1h-1zM127 143h1v1h-1zM118 144h1v1h-1zM126 144h1v1h-1zM118 145h1v1h-1zM119 146h1v1h-1zM126 146h1v1h-1zM119 147h1v1h-1zM126 147h1v1h-1zM119 148h1v1h-1zM120 148h1v1h-1zM125 148h1v1h-1zM120 149h1v1h-1zM121 149h1v1h-1zM122 149h1v1h-1zM123 149h1v1h-1zM124 149h1v1h-1zM125 149h1v1h-1z"/>
<path fill="#01d2d7" d="M142 110h1v1h-1zM143 110h1v1h-1zM144 110h1v1h-1zM145 110h1v1h-1zM146 110h1v1h-1zM147 110h1v1h-1zM142 111h1v1h-1zM143 111h1v1h-1zM144 111h1v1h-1zM145 111h1v1h-1zM147 111h1v1h-1zM142 112h1v1h-1zM143 112h1v1h-1zM144 112h1v1h-1zM147 112h1v1h-1zM148 112h1v1h-1zM141 113h1v1h-1zM142 113h1v1h-1zM147 113h1v1h-1zM139 114h1v1h-1zM140 114h1v1h-1zM148 114h1v1h-1zM137 115h1v1h-1zM138 115h1v1h-1zM148 115h1v1h-1zM149 115h1v1h-1zM137 116h1v1h-1zM148 116h1v1h-1zM149 116h1v1h-1zM137 117h1v1h-1zM148 117h1v1h-1zM149 117h1v1h-1zM134 118h1v1h-1zM135 118h1v1h-1zM136 118h1v1h-1zM137 118h1v1h-1zM149 118h1v1h-1zM134 119h1v1h-1zM135 119h1v1h-1zM149 119h1v1h-1zM134 120h1v1h-1zM149 120h1v1h-1zM134 121h1v1h-1zM134 122h1v1h-1zM148 122h1v1h-1zM131 123h1v1h-1zM134 123h1v1h-1zM135 123h1v1h-1zM148 123h1v1h-1zM131 124h1v1h-1zM132 124h1v1h-1zM135 124h1v1h-1zM148 124h1v1h-1zM123 125h1v1h-1zM124 125h1v1h-1zM125 125h1v1h-1zM126 125h1v1h-1zM127 125h1v1h-1zM128 125h1v1h-1zM129 125h1v1h-1zM130 125h1v1h-1zM131 125h1v1h-1zM132 125h1v1h-1zM135 125h1v1h-1zM147 125h1v1h-1zM148 125h1v1h-1zM123 126h1v1h-1zM124 126h1v1h-1zM127 126h1v1h-1zM128 126h1v1h-1zM129 126h1v1h-1zM131 126h1v1h-1zM132 126h1v1h-1zM133 126h1v1h-1zM134 126h1v1h-1zM147 126h1v1h-1zM124 127h1v1h-1zM130 127h1v1h-1zM131 127h1v1h-1zM132 127h1v1h-1zM133 127h1v1h-1zM134 127h1v1h-1zM147 127h1v1h-1zM124 128h1v1h-1zM129 128h1v1h-1zM130 128h1v1h-1zM131 128h1v1h-1zM132 128h1v1h-1zM133 128h1v1h-1zM134 128h1v1h-1zM147 128h1v1h-1zM124 129h1v1h-1zM134 129h1v1h-1zM135 129h1v1h-1zM146 129h1v1h-1zM123 130h1v1h-1zM129 130h1v1h-1zM134 130h1v1h-1zM135 130h1v1h-1zM136 130h1v1h-1zM145 130h1v1h-1zM122 131h1v1h-1zM129 131h1v1h-1zM134 131h1v1h-1zM135 131h1v1h-1zM136 131h1v1h-1zM137 131h1v1h-1zM143 131h1v1h-1zM120 132h1v1h-1zM121 132h1v1h-1zM122 132h1v1h-1zM130 132h1v1h-1zM134 132h1v1h-1zM135 132h1v1h-1zM136 132h1v1h-1zM137 132h1v1h-1zM138 132h1v1h-1zM139 132h1v1h-1zM141 132h1v1h-1zM142 132h1v1h-1zM120 133h1v1h-1zM130 133h1v1h-1zM136 133h1v1h-1zM137 133h1v1h-1zM138 133h1v1h-1zM139 133h1v1h-1zM140 133h1v1h-1zM141 133h1v1h-1zM130 134h1v1h-1zM137 134h1v1h-1zM138 134h1v1h-1zM139 134h1v1h-1zM119 135h1v1h-1zM129 135h1v1h-1zM137 135h1v1h-1zM138 135h1v1h-1zM119 136h1v1h-1zM129 136h1v1h-1zM119 137h1v1h-1zM129 137h1v1h-1zM119 138h1v1h-1zM119 139h1v1h-1zM120 139h1v1h-1zM128 139h1v1h-1zM119 140h1v1h-1zM120 140h1v1h-1zM127 140h1v1h-1zM120 141h1v1h-1zM127 141h1v1h-1zM119 142h1v1h-1zM119 143h1v1h-1zM126 143h1v1h-1zM119 144h1v1h-1zM119 145h1v1h-1zM125 145h1v1h-1zM124 146h1v1h-1zM125 146h1v1h-1zM120 147h1v1h-1zM121 147h1v1h-1zM123 147h1v1h-1zM124 147h1v1h-1zM125 147h1v1h-1zM121 148h1v1h-1zM122 148h1v1h-1zM124 148h1v1h-1z"/>
<path fill="#19cf7d" d="M146 111h1v1h-1zM145 112h1v1h-1zM146 112h1v1h-1zM144 113h1v1h-1zM145 113h1v1h-1zM146 113h1v1h-1zM141 114h1v1h-1zM142 114h1v1h-1zM146 114h1v1h-1zM147 114h1v1h-1zM139 115h1v1h-1zM140 115h1v1h-1zM147 115h1v1h-1zM138 116h1v1h-1zM139 116h1v1h-1zM147 116h1v1h-1zM138 117h1v1h-1zM139 117h1v1h-1zM147 117h1v1h-1zM138 118h1v1h-1zM148 118h1v1h-1zM136 119h1v1h-1zM137 119h1v1h-1zM148 119h1v1h-1zM135 120h1v1h-1zM148 120h1v1h-1zM135 121h1v1h-1zM148 121h1v1h-1zM135 122h1v1h-1zM136 123h1v1h-1zM147 123h1v1h-1zM136 124h1v1h-1zM147 124h1v1h-1zM136 125h1v1h-1zM125 126h1v1h-1zM126 126h1v1h-1zM130 126h1v1h-1zM135 126h1v1h-1zM136 126h1v1h-1zM125 127h1v1h-1zM126 127h1v1h-1zM127 127h1v1h-1zM128 127h1v1h-1zM129 127h1v1h-1zM135 127h1v1h-1zM146 127h1v1h-1zM125 128h1v1h-1zM126 128h1v1h-1zM127 128h1v1h-1zM128 128h1v1h-1zM135 128h1v1h-1zM136 128h1v1h-1zM146 128h1v1h-1zM125 129h1v1h-1zM127 129h1v1h-1zM128 129h1v1h-1zM136 129h1v1h-1zM124 130h1v1h-1zM128 130h1v1h-1zM137 130h1v1h-1zM144 130h1v1h-1zM123 131h1v1h-1zM128 131h1v1h-1zM138 131h1v1h-1zM139 131h1v1h-1zM142 131h1v1h-1zM123 132h1v1h-1zM129 132h1v1h-1zM140 132h1v1h-1zM121 133h1v1h-1zM122 133h1v1h-1zM129 133h1v1h-1zM120 134h1v1h-1zM120 135h1v1h-1zM120 136h1v1h-1zM120 137h1v1h-1zM120 138h1v1h-1zM128 138h1v1h-1zM121 139h1v1h-1zM127 139h1v1h-1zM121 140h1v1h-1zM121 141h1v1h-1zM126 141h1v1h-1zM120 142h1v1h-1zM126 142h1v1h-1zM120 143h1v1h-1zM121 143h1v1h-1zM123 143h1v1h-1zM120 144h1v1h-1zM121 144h1v1h-1zM122 144h1v1h-1zM123 144h1v1h-1zM124 144h1v1h-1zM125 144h1v1h-1zM120 145h1v1h-1zM121 145h1v1h-1zM122 145h1v1h-1zM123 145h1v1h-1zM124 145h1v1h-1zM120 146h1v1h-1zM121 146h1v1h-1zM122 146h1v1h-1zM123 146h1v1h-1zM122 147h1v1h-1z"/>
<path fill="#45d138" d="M143 114h1v1h-1zM144 114h1v1h-1zM145 114h1v1h-1zM141 115h1v1h-1zM142 115h1v1h-1zM145 115h1v1h-1zM146 115h1v1h-1zM140 116h1v1h-1zM141 116h1v1h-1zM146 116h1v1h-1zM140 117h1v1h-1zM146 117h1v1h-1zM139 118h1v1h-1zM147 118h1v1h-1zM138 119h1v1h-1zM139 119h1v1h-1zM136 120h1v1h-1zM137 120h1v1h-1zM138 120h1v1h-1zM136 121h1v1h-1zM147 121h1v1h-1zM136 122h1v1h-1zM137 122h1v1h-1zM147 122h1v1h-1zM137 123h1v1h-1zM137 124h1v1h-1zM146 124h1v1h-1zM137 125h1v1h-1zM138 125h1v1h-1zM146 125h1v1h-1zM137 126h1v1h-1zM138 126h1v1h-1zM146 126h1v1h-1zM136 127h1v1h-1zM137 127h1v1h-1zM137 128h1v1h-1zM145 128h1v1h-1zM126 129h1v1h-1zM137 129h1v1h-1zM145 129h1v1h-1zM125 130h1v1h-1zM126 130h1v1h-1zM127 130h1v1h-1zM138 130h1v1h-1zM139 130h1v1h-1zM143 130h1v1h-1zM124 131h1v1h-1zM127 131h1v1h-1zM140 131h1v1h-1zM141 131h1v1h-1zM128 132h1v1h-1zM123 133h1v1h-1zM128 133h1v1h-1zM121 134h1v1h-1zM122 134h1v1h-1zM128 134h1v1h-1zM121 135h1v1h-1zM128 135h1v1h-1zM121 136h1v1h-1zM128 136h1v1h-1zM121 137h1v1h-1zM128 137h1v1h-1zM121 138h1v1h-1zM127 138h1v1h-1zM122 140h1v1h-1zM122 141h1v1h-1zM125 141h1v1h-1zM121 142h1v1h-1zM122 142h1v1h-1zM123 142h1v1h-1zM124 142h1v1h-1zM125 142h1v1h-1zM122 143h1v1h-1zM124 143h1v1h-1zM125 143h1v1h-1z"/>
<path fill="#92db15" d="M143 115h1v1h-1zM144 115h1v1h-1zM142 116h1v1h-1zM143 116h1v1h-1zM144 116h1v1h-1zM145 116h1v1h-1zM141 117h1v1h-1zM145 117h1v1h-1zM140 118h1v1h-1zM146 118h1v1h-1zM140 119h1v1h-1zM147 119h1v1h-1zM139 120h1v1h-1zM147 120h1v1h-1zM137 121h1v1h-1zM138 121h1v1h-1zM138 122h1v1h-1zM146 122h1v1h-1zM138 123h1v1h-1zM146 123h1v1h-1zM138 124h1v1h-1zM139 126h1v1h-1zM138 127h1v1h-1zM145 127h1v1h-1zM138 128h1v1h-1zM138 129h1v1h-1zM143 129h1v1h-1zM144 129h1v1h-1zM140 130h1v1h-1zM141 130h1v1h-1zM142 130h1v1h-1zM125 131h1v1h-1zM126 131h1v1h-1zM124 132h1v1h-1zM125 132h1v1h-1zM126 132h1v1h-1zM127 132h1v1h-1zM124 133h1v1h-1zM125 133h1v1h-1zM127 133h1v1h-1zM123 134h1v1h-1zM127 134h1v1h-1zM122 135h1v1h-1zM122 137h1v1h-1zM127 137h1v1h-1zM122 138h1v1h-1zM122 139h1v1h-1zM126 139h1v1h-1zM123 140h1v1h-1zM124 140h1v1h-1zM125 140h1v1h-1zM123 141h1v1h-1zM124 141h1v1h-1z"/>
<path fill="#ced100" d="M142 117h1v1h-1zM143 117h1v1h-1zM144 117h1v1h-1zM141 118h1v1h-1zM145 118h1v1h-1zM141 119h1v1h-1zM146 119h1v1h-1zM140 120h1v1h-1zM146 120h1v1h-1zM139 121h1v1h-1zM146 121h1v1h-1zM139 122h1v1h-1zM145 124h1v1h-1zM139 125h1v1h-1zM145 125h1v1h-1zM145 126h1v1h-1zM139 127h1v1h-1zM139 128h1v1h-1zM143 128h1v1h-1zM144 128h1v1h-1zM139 129h1v1h-1zM142 129h1v1h-1zM126 133h1v1h-1zM124 134h1v1h-1zM125 134h1v1h-1zM126 134h1v1h-1zM123 135h1v1h-1zM126 135h1v1h-1zM127 135h1v1h-1zM122 136h1v1h-1zM126 136h1v1h-1zM127 136h1v1h-1zM126 137h1v1h-1zM123 138h1v1h-1zM126 138h1v1h-1zM123 139h1v1h-1zM124 139h1v1h-1zM125 139h1v1h-1z"/>
<path fill="#f5aa00" d="M142 118h1v1h-1zM143 118h1v1h-1zM144 118h1v1h-1zM142 119h1v1h-1zM145 119h1v1h-1zM141 120h1v1h-1zM142 120h1v1h-1zM145 120h1v1h-1zM140 121h1v1h-1zM141 121h1v1h-1zM145 121h1v1h-1zM140 122h1v1h-1zM145 122h1v1h-1zM139 123h1v1h-1zM145 123h1v1h-1zM139 124h1v1h-1zM140 126h1v1h-1zM144 126h1v1h-1zM140 127h1v1h-1zM143 127h1v1h-1zM144 127h1v1h-1zM140 128h1v1h-1zM142 128h1v1h-1zM140 129h1v1h-1zM141 129h1v1h-1zM124 135h1v1h-1zM125 135h1v1h-1zM123 136h1v1h-1zM124 136h1v1h-1zM125 136h1v1h-1zM123 137h1v1h-1zM124 137h1v1h-1zM125 137h1v1h-1zM124 138h1v1h-1zM125 138h1v1h-1z"/>
<path fill="#f87505" d="M143 119h1v1h-1zM144 119h1v1h-1zM143 120h1v1h-1zM144 120h1v1h-1zM142 121h1v1h-1zM144 121h1v1h-1zM141 122h1v1h-1zM144 122h1v1h-1zM140 123h1v1h-1zM144 123h1v1h-1zM140 124h1v1h-1zM144 124h1v1h-1zM140 125h1v1h-1zM144 125h1v1h-1zM141 126h1v1h-1zM142 126h1v1h-1zM143 126h1v1h-1zM141 127h1v1h-1zM142 127h1v1h-1zM141 128h1v1h-1z"/>
<path fill="#ef3b0c" d="M143 121h1v1h-1zM142 122h1v1h-1zM143 122h1v1h-1zM141 123h1v1h-1zM142 123h1v1h-1zM143 123h1v1h-1zM141 124h1v1h-1zM142 124h1v1h-1zM143 124h1v1h-1zM141 125h1v1h-1zM142 125h1v1h-1zM143 125h1v1h-1z"/>
<path fill="#1f239f" d="M442 41h1v1h-1zM422 49h1v1h-1zM303 53h1v1h-1zM340 68h1v1h-1zM442 76h1v1h-1zM443 81h1v1h-1zM316 82h1v1h-1zM317 84h1v1h-1zM442 85h1v1h-1zM288 86h1v1h-1zM310 87h1v1h-1zM361 89h1v1h-1zM434 93h1v1h-1zM443 94h1v1h-1zM402 95h1v1h-1zM298 96h1v1h-1zM415 96h1v1h-1zM289 98h1v1h-1zM291 98h1v1h-1zM312 99h1v1h-1zM360 101h1v1h-1zM287 104h1v1h-1zM377 104h1v1h-1zM387 105h1v1h-1zM442 105h1v1h-1zM311 106h1v1h-1zM442 106h1v1h-1zM309 107h1v1h-1zM399 108h1v1h-1zM415 108h1v1h-1zM322 110h1v1h-1zM301 112h1v1h-1zM356 112h1v1h-1zM358 112h1v1h-1zM368 112h1v1h-1zM388 112h1v1h-1zM443 112h1v1h-1zM362 113h1v1h-1zM416 113h1v1h-1zM442 113h1v1h-1zM310 114h1v1h-1zM390 115h1v1h-1zM443 115h1v1h-1zM352 116h1v1h-1zM431 116h1v1h-1zM442 117h1v1h-1zM443 118h1v1h-1zM306 119h1v1h-1zM353 119h1v1h-1zM384 119h1v1h-1zM443 119h1v1h-1zM296 121h1v1h-1zM303 121h1v1h-1zM311 121h1v1h-1zM349 121h1v1h-1zM300 123h1v1h-1zM413 123h1v1h-1zM442 123h1v1h-1zM443 123h1v1h-1zM357 124h1v1h-1zM421 124h1v1h-1zM288 125h1v1h-1zM320 125h1v1h-1zM430 125h1v1h-1zM442 125h1v1h-1zM287 126h1v1h-1zM293 127h1v1h-1zM299 128h1v1h-1zM427 128h1v1h-1zM443 128h1v1h-1zM335 129h1v1h-1zM291 130h1v1h-1zM442 130h1v1h-1zM313 132h1v1h-1zM343 132h1v1h-1zM352 132h1v1h-1zM366 132h1v1h-1zM406 132h1v1h-1zM300 133h1v1h-1zM309 133h1v1h-1zM328 133h1v1h-1zM362 133h1v1h-1zM433 133h1v1h-1zM443 133h1v1h-1zM290 134h1v1h-1zM302 134h1v1h-1zM407 134h1v1h-1zM442 134h1v1h-1zM443 134h1v1h-1zM323 135h1v1h-1zM409 135h1v1h-1zM425 135h1v1h-1zM302 136h1v1h-1zM303 136h1v1h-1zM322 136h1v1h-1zM334 136h1v1h-1zM352 136h1v1h-1zM359 136h1v1h-1zM374 136h1v1h-1zM383 136h1v1h-1zM291 137h1v1h-1zM302 137h1v1h-1zM310 137h1v1h-1zM313 137h1v1h-1zM402 137h1v1h-1zM407 137h1v1h-1zM412 137h1v1h-1zM425 137h1v1h-1zM288 138h1v1h-1zM299 138h1v1h-1zM308 138h1v1h-1zM317 138h1v1h-1zM424 138h1v1h-1zM298 139h1v1h-1zM302 139h1v1h-1zM307 139h1v1h-1zM327 139h1v1h-1zM349 139h1v1h-1zM363 139h1v1h-1zM388 139h1v1h-1zM442 139h1v1h-1zM443 139h1v1h-1zM298 140h1v1h-1zM302 140h1v1h-1zM315 140h1v1h-1zM326 140h1v1h-1zM330 140h1v1h-1zM342 140h1v1h-1zM343 140h1v1h-1zM345 140h1v1h-1zM295 141h1v1h-1zM304 141h1v1h-1zM310 141h1v1h-1zM323 141h1v1h-1zM329 141h1v1h-1zM340 141h1v1h-1zM288 142h1v1h-1zM300 142h1v1h-1zM301 142h1v1h-1zM310 142h1v1h-1zM312 142h1v1h-1zM315 142h1v1h-1zM317 142h1v1h-1zM327 142h1v1h-1zM351 142h1v1h-1zM395 142h1v1h-1zM288 143h1v1h-1zM309 143h1v1h-1zM319 143h1v1h-1zM320 143h1v1h-1zM371 143h1v1h-1zM292 144h1v1h-1zM295 144h1v1h-1zM301 144h1v1h-1zM372 144h1v1h-1zM421 144h1v1h-1zM442 144h1v1h-1zM297 145h1v1h-1zM300 145h1v1h-1zM318 145h1v1h-1zM319 145h1v1h-1zM323 145h1v1h-1zM326 145h1v1h-1zM335 145h1v1h-1zM336 145h1v1h-1zM346 145h1v1h-1zM365 145h1v1h-1zM288 146h1v1h-1zM291 146h1v1h-1zM296 146h1v1h-1zM298 146h1v1h-1zM303 146h1v1h-1zM311 146h1v1h-1zM313 146h1v1h-1zM317 146h1v1h-1zM334 146h1v1h-1zM348 146h1v1h-1zM364 146h1v1h-1zM408 146h1v1h-1zM428 146h1v1h-1zM442 146h1v1h-1zM296 147h1v1h-1zM313 147h1v1h-1zM315 147h1v1h-1zM333 147h1v1h-1zM359 147h1v1h-1zM360 147h1v1h-1zM385 147h1v1h-1zM390 147h1v1h-1zM406 147h1v1h-1zM409 147h1v1h-1zM428 147h1v1h-1zM429 147h1v1h-1zM438 147h1v1h-1zM442 147h1v1h-1zM443 147h1v1h-1zM287 148h1v1h-1zM290 148h1v1h-1zM293 148h1v1h-1zM302 148h1v1h-1zM304 148h1v1h-1zM311 148h1v1h-1zM316 148h1v1h-1zM321 148h1v1h-1zM324 148h1v1h-1zM353 148h1v1h-1zM389 148h1v1h-1zM442 148h1v1h-1zM286 149h1v1h-1zM312 149h1v1h-1zM321 149h1v1h-1zM324 149h1v1h-1zM326 149h1v1h-1zM329 149h1v1h-1zM335 149h1v1h-1zM342 149h1v1h-1zM358 149h1v1h-1zM384 149h1v1h-1zM386 149h1v1h-1zM394 149h1v1h-1zM287 150h1v1h-1zM293 150h1v1h-1zM316 150h1v1h-1zM319 150h1v1h-1zM323 150h1v1h-1zM333 150h1v1h-1zM365 150h1v1h-1zM382 150h1v1h-1zM289 151h1v1h-1zM319 151h1v1h-1zM338 151h1v1h-1zM346 151h1v1h-1zM347 151h1v1h-1zM387 151h1v1h-1zM393 151h1v1h-1zM402 151h1v1h-1zM437 151h1v1h-1zM295 152h1v1h-1zM322 152h1v1h-1zM325 152h1v1h-1zM349 152h1v1h-1zM390 152h1v1h-1zM412 152h1v1h-1zM289 153h1v1h-1zM290 153h1v1h-1zM292 153h1v1h-1zM293 153h1v1h-1zM294 153h1v1h-1zM319 153h1v1h-1zM320 153h1v1h-1zM333 153h1v1h-1zM335 153h1v1h-1zM360 153h1v1h-1zM436 153h1v1h-1zM322 154h1v1h-1zM328 154h1v1h-1zM370 154h1v1h-1zM379 154h1v1h-1zM289 155h1v1h-1zM320 155h1v1h-1zM322 155h1v1h-1zM327 155h1v1h-1zM338 155h1v1h-1zM343 155h1v1h-1zM348 155h1v1h-1zM411 155h1v1h-1zM413 155h1v1h-1zM434 155h1v1h-1zM287 156h1v1h-1zM299 156h1v1h-1zM319 156h1v1h-1zM322 156h1v1h-1zM325 156h1v1h-1zM334 156h1v1h-1zM363 156h1v1h-1zM395 156h1v1h-1zM286 157h1v1h-1zM288 157h1v1h-1zM309 157h1v1h-1zM324 157h1v1h-1zM340 157h1v1h-1zM364 157h1v1h-1zM377 157h1v1h-1zM439 157h1v1h-1zM286 158h1v1h-1zM320 158h1v1h-1zM331 158h1v1h-1zM334 158h1v1h-1zM343 158h1v1h-1zM349 158h1v1h-1zM369 158h1v1h-1zM387 158h1v1h-1zM398 158h1v1h-1zM409 158h1v1h-1zM418 158h1v1h-1zM428 158h1v1h-1zM433 158h1v1h-1zM284 159h1v1h-1zM306 159h1v1h-1zM330 159h1v1h-1zM333 159h1v1h-1zM346 159h1v1h-1zM347 159h1v1h-1zM368 159h1v1h-1zM386 159h1v1h-1zM389 159h1v1h-1zM404 159h1v1h-1zM422 159h1v1h-1zM284 160h1v1h-1zM285 160h1v1h-1zM308 160h1v1h-1zM332 160h1v1h-1zM342 160h1v1h-1zM354 160h1v1h-1zM355 160h1v1h-1zM358 160h1v1h-1zM394 160h1v1h-1zM287 161h1v1h-1zM306 161h1v1h-1zM309 161h1v1h-1zM312 161h1v1h-1zM314 161h1v1h-1zM318 161h1v1h-1zM326 161h1v1h-1zM339 161h1v1h-1zM352 161h1v1h-1zM354 161h1v1h-1zM378 161h1v1h-1zM385 161h1v1h-1zM399 161h1v1h-1zM413 161h1v1h-1zM285 162h1v1h-1zM321 162h1v1h-1zM331 162h1v1h-1zM333 162h1v1h-1zM335 162h1v1h-1zM336 162h1v1h-1zM339 162h1v1h-1zM340 162h1v1h-1zM344 162h1v1h-1zM345 162h1v1h-1zM351 162h1v1h-1zM374 162h1v1h-1zM399 162h1v1h-1zM401 162h1v1h-1zM404 162h1v1h-1zM286 163h1v1h-1zM323 163h1v1h-1zM326 163h1v1h-1zM329 163h1v1h-1zM330 163h1v1h-1zM334 163h1v1h-1zM343 163h1v1h-1zM348 163h1v1h-1zM351 163h1v1h-1zM376 163h1v1h-1zM388 163h1v1h-1zM411 163h1v1h-1zM436 163h1v1h-1zM310 164h1v1h-1zM315 164h1v1h-1zM316 164h1v1h-1zM320 164h1v1h-1zM325 164h1v1h-1zM328 164h1v1h-1zM334 164h1v1h-1zM338 164h1v1h-1zM339 164h1v1h-1zM371 164h1v1h-1zM379 164h1v1h-1zM386 164h1v1h-1zM389 164h1v1h-1zM396 164h1v1h-1zM414 164h1v1h-1zM415 164h1v1h-1zM423 164h1v1h-1zM436 164h1v1h-1zM284 165h1v1h-1zM286 165h1v1h-1zM287 165h1v1h-1zM325 165h1v1h-1zM327 165h1v1h-1zM330 165h1v1h-1zM334 165h1v1h-1zM336 165h1v1h-1zM341 165h1v1h-1zM359 165h1v1h-1zM370 165h1v1h-1zM381 165h1v1h-1zM387 165h1v1h-1zM400 165h1v1h-1zM401 165h1v1h-1zM424 165h1v1h-1zM433 165h1v1h-1zM435 165h1v1h-1zM284 166h1v1h-1zM286 166h1v1h-1zM293 166h1v1h-1zM319 166h1v1h-1zM328 166h1v1h-1zM336 166h1v1h-1zM358 166h1v1h-1zM362 166h1v1h-1zM366 166h1v1h-1zM367 166h1v1h-1zM373 166h1v1h-1zM375 166h1v1h-1zM379 166h1v1h-1zM380 166h1v1h-1zM398 166h1v1h-1zM284 167h1v1h-1zM308 167h1v1h-1zM315 167h1v1h-1zM316 167h1v1h-1zM317 167h1v1h-1zM328 167h1v1h-1zM336 167h1v1h-1zM349 167h1v1h-1zM355 167h1v1h-1zM362 167h1v1h-1zM389 167h1v1h-1zM421 167h1v1h-1zM426 167h1v1h-1zM427 167h1v1h-1zM428 167h1v1h-1zM319 168h1v1h-1zM349 168h1v1h-1zM382 168h1v1h-1zM421 168h1v1h-1zM424 168h1v1h-1zM428 168h1v1h-1zM433 168h1v1h-1zM438 168h1v1h-1zM287 169h1v1h-1zM288 169h1v1h-1zM320 169h1v1h-1zM334 169h1v1h-1zM413 169h1v1h-1zM414 169h1v1h-1zM432 169h1v1h-1zM322 170h1v1h-1zM324 170h1v1h-1zM393 170h1v1h-1zM280 171h1v1h-1z"/>
<path fill="#1c2ab1" d="M291 139h1v1h-1zM291 140h1v1h-1zM292 140h1v1h-1zM442 140h1v1h-1zM290 141h1v1h-1zM291 141h1v1h-1zM292 142h1v1h-1zM442 142h1v1h-1zM443 142h1v1h-1zM305 144h1v1h-1zM306 144h1v1h-1zM306 145h1v1h-1zM307 145h1v1h-1zM305 146h1v1h-1zM306 146h1v1h-1zM307 147h1v1h-1zM298 148h1v1h-1zM305 148h1v1h-1zM307 148h1v1h-1zM290 149h1v1h-1zM291 149h1v1h-1zM298 149h1v1h-1zM299 149h1v1h-1zM300 149h1v1h-1zM301 149h1v1h-1zM307 149h1v1h-1zM308 149h1v1h-1zM291 150h1v1h-1zM298 150h1v1h-1zM301 150h1v1h-1zM303 150h1v1h-1zM306 150h1v1h-1zM308 150h1v1h-1zM311 150h1v1h-1zM442 150h1v1h-1zM443 150h1v1h-1zM299 151h1v1h-1zM304 151h1v1h-1zM305 151h1v1h-1zM308 151h1v1h-1zM309 151h1v1h-1zM311 151h1v1h-1zM312 151h1v1h-1zM313 151h1v1h-1zM316 151h1v1h-1zM442 151h1v1h-1zM298 152h1v1h-1zM300 152h1v1h-1zM301 152h1v1h-1zM302 152h1v1h-1zM304 152h1v1h-1zM309 152h1v1h-1zM310 152h1v1h-1zM311 152h1v1h-1zM312 152h1v1h-1zM314 152h1v1h-1zM317 152h1v1h-1zM443 152h1v1h-1zM297 153h1v1h-1zM298 153h1v1h-1zM299 153h1v1h-1zM303 153h1v1h-1zM304 153h1v1h-1zM308 153h1v1h-1zM312 153h1v1h-1zM314 153h1v1h-1zM315 153h1v1h-1zM317 153h1v1h-1zM443 153h1v1h-1zM296 154h1v1h-1zM300 154h1v1h-1zM301 154h1v1h-1zM302 154h1v1h-1zM309 154h1v1h-1zM310 154h1v1h-1zM311 154h1v1h-1zM314 154h1v1h-1zM315 154h1v1h-1zM317 154h1v1h-1zM296 155h1v1h-1zM299 155h1v1h-1zM303 155h1v1h-1zM306 155h1v1h-1zM307 155h1v1h-1zM308 155h1v1h-1zM310 155h1v1h-1zM315 155h1v1h-1zM316 155h1v1h-1zM442 155h1v1h-1zM289 156h1v1h-1zM294 156h1v1h-1zM295 156h1v1h-1zM297 156h1v1h-1zM305 156h1v1h-1zM306 156h1v1h-1zM307 156h1v1h-1zM308 156h1v1h-1zM314 156h1v1h-1zM315 156h1v1h-1zM318 156h1v1h-1zM328 156h1v1h-1zM329 156h1v1h-1zM441 156h1v1h-1zM443 156h1v1h-1zM291 157h1v1h-1zM292 157h1v1h-1zM293 157h1v1h-1zM294 157h1v1h-1zM295 157h1v1h-1zM303 157h1v1h-1zM306 157h1v1h-1zM311 157h1v1h-1zM312 157h1v1h-1zM313 157h1v1h-1zM326 157h1v1h-1zM442 157h1v1h-1zM443 157h1v1h-1zM290 158h1v1h-1zM291 158h1v1h-1zM293 158h1v1h-1zM295 158h1v1h-1zM302 158h1v1h-1zM303 158h1v1h-1zM305 158h1v1h-1zM312 158h1v1h-1zM313 158h1v1h-1zM314 158h1v1h-1zM315 158h1v1h-1zM316 158h1v1h-1zM317 158h1v1h-1zM321 158h1v1h-1zM322 158h1v1h-1zM326 158h1v1h-1zM327 158h1v1h-1zM328 158h1v1h-1zM330 158h1v1h-1zM443 158h1v1h-1zM292 159h1v1h-1zM293 159h1v1h-1zM296 159h1v1h-1zM298 159h1v1h-1zM300 159h1v1h-1zM304 159h1v1h-1zM311 159h1v1h-1zM317 159h1v1h-1zM322 159h1v1h-1zM442 159h1v1h-1zM290 160h1v1h-1zM291 160h1v1h-1zM292 160h1v1h-1zM294 160h1v1h-1zM296 160h1v1h-1zM298 160h1v1h-1zM301 160h1v1h-1zM302 160h1v1h-1zM303 160h1v1h-1zM318 160h1v1h-1zM319 160h1v1h-1zM320 160h1v1h-1zM324 160h1v1h-1zM442 160h1v1h-1zM443 160h1v1h-1zM296 161h1v1h-1zM298 161h1v1h-1zM300 161h1v1h-1zM301 161h1v1h-1zM319 161h1v1h-1zM321 161h1v1h-1zM324 161h1v1h-1zM443 161h1v1h-1zM289 162h1v1h-1zM290 162h1v1h-1zM293 162h1v1h-1zM295 162h1v1h-1zM296 162h1v1h-1zM298 162h1v1h-1zM299 162h1v1h-1zM300 162h1v1h-1zM301 162h1v1h-1zM302 162h1v1h-1zM304 162h1v1h-1zM305 162h1v1h-1zM313 162h1v1h-1zM314 162h1v1h-1zM325 162h1v1h-1zM443 162h1v1h-1zM288 163h1v1h-1zM289 163h1v1h-1zM290 163h1v1h-1zM292 163h1v1h-1zM293 163h1v1h-1zM294 163h1v1h-1zM297 163h1v1h-1zM298 163h1v1h-1zM305 163h1v1h-1zM307 163h1v1h-1zM311 163h1v1h-1zM313 163h1v1h-1zM442 163h1v1h-1zM443 163h1v1h-1zM300 164h1v1h-1zM301 164h1v1h-1zM306 164h1v1h-1zM307 164h1v1h-1zM313 164h1v1h-1zM290 165h1v1h-1zM291 165h1v1h-1zM297 165h1v1h-1zM298 165h1v1h-1zM299 165h1v1h-1zM301 165h1v1h-1zM303 165h1v1h-1zM305 165h1v1h-1zM307 165h1v1h-1zM312 165h1v1h-1zM313 165h1v1h-1zM442 165h1v1h-1zM443 165h1v1h-1zM289 166h1v1h-1zM299 166h1v1h-1zM301 166h1v1h-1zM302 166h1v1h-1zM304 166h1v1h-1zM311 166h1v1h-1zM312 166h1v1h-1zM340 166h1v1h-1zM443 166h1v1h-1zM290 167h1v1h-1zM292 167h1v1h-1zM296 167h1v1h-1zM298 167h1v1h-1zM305 167h1v1h-1zM307 167h1v1h-1zM340 167h1v1h-1zM359 167h1v1h-1zM376 167h1v1h-1zM377 167h1v1h-1zM400 167h1v1h-1zM442 167h1v1h-1zM443 167h1v1h-1zM290 168h1v1h-1zM291 168h1v1h-1zM293 168h1v1h-1zM297 168h1v1h-1zM298 168h1v1h-1zM302 168h1v1h-1zM303 168h1v1h-1zM305 168h1v1h-1zM310 168h1v1h-1zM316 168h1v1h-1zM351 168h1v1h-1zM353 168h1v1h-1zM359 168h1v1h-1zM369 168h1v1h-1zM371 168h1v1h-1zM375 168h1v1h-1zM378 168h1v1h-1zM400 168h1v1h-1zM402 168h1v1h-1zM409 168h1v1h-1zM436 168h1v1h-1zM442 168h1v1h-1zM443 168h1v1h-1zM290 169h1v1h-1zM291 169h1v1h-1zM293 169h1v1h-1zM299 169h1v1h-1zM301 169h1v1h-1zM304 169h1v1h-1zM305 169h1v1h-1zM308 169h1v1h-1zM310 169h1v1h-1zM312 169h1v1h-1zM313 169h1v1h-1zM315 169h1v1h-1zM338 169h1v1h-1zM340 169h1v1h-1zM350 169h1v1h-1zM351 169h1v1h-1zM353 169h1v1h-1zM355 169h1v1h-1zM358 169h1v1h-1zM359 169h1v1h-1zM364 169h1v1h-1zM371 169h1v1h-1zM372 169h1v1h-1zM373 169h1v1h-1zM374 169h1v1h-1zM376 169h1v1h-1zM377 169h1v1h-1zM378 169h1v1h-1zM380 169h1v1h-1zM385 169h1v1h-1zM401 169h1v1h-1zM403 169h1v1h-1zM405 169h1v1h-1zM407 169h1v1h-1zM409 169h1v1h-1zM410 169h1v1h-1zM418 169h1v1h-1zM434 169h1v1h-1zM435 169h1v1h-1zM436 169h1v1h-1zM438 169h1v1h-1zM443 169h1v1h-1zM293 170h1v1h-1zM297 170h1v1h-1zM298 170h1v1h-1zM299 170h1v1h-1zM300 170h1v1h-1zM302 170h1v1h-1zM306 170h1v1h-1zM308 170h1v1h-1zM309 170h1v1h-1zM310 170h1v1h-1zM311 170h1v1h-1zM314 170h1v1h-1zM317 170h1v1h-1zM318 170h1v1h-1zM321 170h1v1h-1zM325 170h1v1h-1zM326 170h1v1h-1zM339 170h1v1h-1zM340 170h1v1h-1zM344 170h1v1h-1zM345 170h1v1h-1zM346 170h1v1h-1zM348 170h1v1h-1zM352 170h1v1h-1zM377 170h1v1h-1zM379 170h1v1h-1zM382 170h1v1h-1zM383 170h1v1h-1zM384 170h1v1h-1zM385 170h1v1h-1zM387 170h1v1h-1zM397 170h1v1h-1zM403 170h1v1h-1zM406 170h1v1h-1zM409 170h1v1h-1zM411 170h1v1h-1zM413 170h1v1h-1zM415 170h1v1h-1zM417 170h1v1h-1zM421 170h1v1h-1zM425 170h1v1h-1zM433 170h1v1h-1zM436 170h1v1h-1zM437 170h1v1h-1zM438 170h1v1h-1zM291 171h1v1h-1zM296 171h1v1h-1zM297 171h1v1h-1zM298 171h1v1h-1zM299 171h1v1h-1zM303 171h1v1h-1zM304 171h1v1h-1zM305 171h1v1h-1zM307 171h1v1h-1zM309 171h1v1h-1zM312 171h1v1h-1zM315 171h1v1h-1zM318 171h1v1h-1zM327 171h1v1h-1zM329 171h1v1h-1zM333 171h1v1h-1zM335 171h1v1h-1zM336 171h1v1h-1zM337 171h1v1h-1zM346 171h1v1h-1zM348 171h1v1h-1zM379 171h1v1h-1zM380 171h1v1h-1zM381 171h1v1h-1zM382 171h1v1h-1zM385 171h1v1h-1zM386 171h1v1h-1zM389 171h1v1h-1zM395 171h1v1h-1zM397 171h1v1h-1zM398 171h1v1h-1zM400 171h1v1h-1zM401 171h1v1h-1zM402 171h1v1h-1zM405 171h1v1h-1zM407 171h1v1h-1zM417 171h1v1h-1zM418 171h1v1h-1zM420 171h1v1h-1zM421 171h1v1h-1zM422 171h1v1h-1zM423 171h1v1h-1zM426 171h1v1h-1zM429 171h1v1h-1zM431 171h1v1h-1zM435 171h1v1h-1zM443 171h1v1h-1zM283 172h1v1h-1zM286 172h1v1h-1zM292 172h1v1h-1zM293 172h1v1h-1zM295 172h1v1h-1zM314 172h1v1h-1zM316 172h1v1h-1zM320 172h1v1h-1zM327 172h1v1h-1zM329 172h1v1h-1zM332 172h1v1h-1zM334 172h1v1h-1zM347 172h1v1h-1zM389 172h1v1h-1zM391 172h1v1h-1zM394 172h1v1h-1zM395 172h1v1h-1zM396 172h1v1h-1zM403 172h1v1h-1zM404 172h1v1h-1zM406 172h1v1h-1zM407 172h1v1h-1zM418 172h1v1h-1zM426 172h1v1h-1zM427 172h1v1h-1zM428 172h1v1h-1zM429 172h1v1h-1zM432 172h1v1h-1zM442 172h1v1h-1zM282 173h1v1h-1zM283 173h1v1h-1zM284 173h1v1h-1zM287 173h1v1h-1zM289 173h1v1h-1zM390 173h1v1h-1zM393 173h1v1h-1zM394 173h1v1h-1zM395 173h1v1h-1zM405 173h1v1h-1zM425 173h1v1h-1zM441 173h1v1h-1zM443 173h1v1h-1zM391 174h1v1h-1zM392 174h1v1h-1zM394 174h1v1h-1zM395 174h1v1h-1zM396 174h1v1h-1zM397 174h1v1h-1zM403 174h1v1h-1zM405 174h1v1h-1zM423 174h1v1h-1zM424 174h1v1h-1zM425 174h1v1h-1zM426 174h1v1h-1zM427 174h1v1h-1zM428 174h1v1h-1zM429 174h1v1h-1zM433 174h1v1h-1zM434 174h1v1h-1zM436 174h1v1h-1zM438 174h1v1h-1zM441 174h1v1h-1zM280 175h1v1h-1zM378 175h1v1h-1zM380 175h1v1h-1zM389 175h1v1h-1zM390 175h1v1h-1zM391 175h1v1h-1zM392 175h1v1h-1zM394 175h1v1h-1zM397 175h1v1h-1zM398 175h1v1h-1zM399 175h1v1h-1zM400 175h1v1h-1zM401 175h1v1h-1zM402 175h1v1h-1zM403 175h1v1h-1zM405 175h1v1h-1zM406 175h1v1h-1zM408 175h1v1h-1zM409 175h1v1h-1zM413 175h1v1h-1zM414 175h1v1h-1zM415 175h1v1h-1zM416 175h1v1h-1zM417 175h1v1h-1zM419 175h1v1h-1zM420 175h1v1h-1zM329 177h1v1h-1zM331 177h1v1h-1z"/>
<path fill="#1a30c3" d="M361 169h1v1h-1zM362 169h1v1h-1zM367 169h1v1h-1zM368 169h1v1h-1zM369 169h1v1h-1zM442 169h1v1h-1zM353 170h1v1h-1zM354 170h1v1h-1zM355 170h1v1h-1zM356 170h1v1h-1zM357 170h1v1h-1zM360 170h1v1h-1zM369 170h1v1h-1zM371 170h1v1h-1zM372 170h1v1h-1zM373 170h1v1h-1zM374 170h1v1h-1zM375 170h1v1h-1zM376 170h1v1h-1zM441 170h1v1h-1zM443 170h1v1h-1zM338 171h1v1h-1zM339 171h1v1h-1zM340 171h1v1h-1zM341 171h1v1h-1zM342 171h1v1h-1zM344 171h1v1h-1zM350 171h1v1h-1zM353 171h1v1h-1zM354 171h1v1h-1zM373 171h1v1h-1zM374 171h1v1h-1zM375 171h1v1h-1zM376 171h1v1h-1zM377 171h1v1h-1zM408 171h1v1h-1zM409 171h1v1h-1zM410 171h1v1h-1zM436 171h1v1h-1zM437 171h1v1h-1zM439 171h1v1h-1zM440 171h1v1h-1zM441 171h1v1h-1zM298 172h1v1h-1zM302 172h1v1h-1zM303 172h1v1h-1zM304 172h1v1h-1zM305 172h1v1h-1zM306 172h1v1h-1zM309 172h1v1h-1zM311 172h1v1h-1zM312 172h1v1h-1zM313 172h1v1h-1zM318 172h1v1h-1zM339 172h1v1h-1zM340 172h1v1h-1zM341 172h1v1h-1zM342 172h1v1h-1zM343 172h1v1h-1zM344 172h1v1h-1zM345 172h1v1h-1zM348 172h1v1h-1zM349 172h1v1h-1zM350 172h1v1h-1zM377 172h1v1h-1zM378 172h1v1h-1zM379 172h1v1h-1zM381 172h1v1h-1zM382 172h1v1h-1zM386 172h1v1h-1zM388 172h1v1h-1zM398 172h1v1h-1zM399 172h1v1h-1zM400 172h1v1h-1zM401 172h1v1h-1zM408 172h1v1h-1zM409 172h1v1h-1zM410 172h1v1h-1zM412 172h1v1h-1zM413 172h1v1h-1zM414 172h1v1h-1zM415 172h1v1h-1zM416 172h1v1h-1zM420 172h1v1h-1zM421 172h1v1h-1zM422 172h1v1h-1zM423 172h1v1h-1zM430 172h1v1h-1zM431 172h1v1h-1zM435 172h1v1h-1zM436 172h1v1h-1zM437 172h1v1h-1zM438 172h1v1h-1zM439 172h1v1h-1zM440 172h1v1h-1zM441 172h1v1h-1zM290 173h1v1h-1zM291 173h1v1h-1zM293 173h1v1h-1zM294 173h1v1h-1zM312 173h1v1h-1zM313 173h1v1h-1zM314 173h1v1h-1zM315 173h1v1h-1zM317 173h1v1h-1zM318 173h1v1h-1zM319 173h1v1h-1zM320 173h1v1h-1zM321 173h1v1h-1zM322 173h1v1h-1zM323 173h1v1h-1zM325 173h1v1h-1zM326 173h1v1h-1zM327 173h1v1h-1zM329 173h1v1h-1zM330 173h1v1h-1zM331 173h1v1h-1zM332 173h1v1h-1zM334 173h1v1h-1zM335 173h1v1h-1zM336 173h1v1h-1zM337 173h1v1h-1zM338 173h1v1h-1zM345 173h1v1h-1zM348 173h1v1h-1zM349 173h1v1h-1zM377 173h1v1h-1zM379 173h1v1h-1zM380 173h1v1h-1zM381 173h1v1h-1zM382 173h1v1h-1zM383 173h1v1h-1zM384 173h1v1h-1zM385 173h1v1h-1zM386 173h1v1h-1zM387 173h1v1h-1zM388 173h1v1h-1zM398 173h1v1h-1zM399 173h1v1h-1zM400 173h1v1h-1zM401 173h1v1h-1zM402 173h1v1h-1zM403 173h1v1h-1zM408 173h1v1h-1zM409 173h1v1h-1zM410 173h1v1h-1zM411 173h1v1h-1zM412 173h1v1h-1zM413 173h1v1h-1zM414 173h1v1h-1zM415 173h1v1h-1zM416 173h1v1h-1zM417 173h1v1h-1zM418 173h1v1h-1zM419 173h1v1h-1zM420 173h1v1h-1zM421 173h1v1h-1zM422 173h1v1h-1zM423 173h1v1h-1zM424 173h1v1h-1zM427 173h1v1h-1zM429 173h1v1h-1zM431 173h1v1h-1zM432 173h1v1h-1zM433 173h1v1h-1zM435 173h1v1h-1zM436 173h1v1h-1zM437 173h1v1h-1zM438 173h1v1h-1zM439 173h1v1h-1zM440 173h1v1h-1zM283 174h1v1h-1zM284 174h1v1h-1zM285 174h1v1h-1zM286 174h1v1h-1zM288 174h1v1h-1zM317 174h1v1h-1zM323 174h1v1h-1zM328 174h1v1h-1zM329 174h1v1h-1zM330 174h1v1h-1zM331 174h1v1h-1zM333 174h1v1h-1zM334 174h1v1h-1zM336 174h1v1h-1zM337 174h1v1h-1zM338 174h1v1h-1zM346 174h1v1h-1zM347 174h1v1h-1zM348 174h1v1h-1zM377 174h1v1h-1zM378 174h1v1h-1zM380 174h1v1h-1zM381 174h1v1h-1zM382 174h1v1h-1zM383 174h1v1h-1zM384 174h1v1h-1zM385 174h1v1h-1zM386 174h1v1h-1zM387 174h1v1h-1zM388 174h1v1h-1zM389 174h1v1h-1zM390 174h1v1h-1zM398 174h1v1h-1zM399 174h1v1h-1zM400 174h1v1h-1zM401 174h1v1h-1zM402 174h1v1h-1zM408 174h1v1h-1zM409 174h1v1h-1zM410 174h1v1h-1zM411 174h1v1h-1zM412 174h1v1h-1zM413 174h1v1h-1zM415 174h1v1h-1zM418 174h1v1h-1zM419 174h1v1h-1zM420 174h1v1h-1zM421 174h1v1h-1zM422 174h1v1h-1zM430 174h1v1h-1zM431 174h1v1h-1zM432 174h1v1h-1zM437 174h1v1h-1zM281 175h1v1h-1zM282 175h1v1h-1zM283 175h1v1h-1zM284 175h1v1h-1zM286 175h1v1h-1zM287 175h1v1h-1zM328 175h1v1h-1zM329 175h1v1h-1zM330 175h1v1h-1zM332 175h1v1h-1zM337 175h1v1h-1zM338 175h1v1h-1zM345 175h1v1h-1zM346 175h1v1h-1zM347 175h1v1h-1zM348 175h1v1h-1zM349 175h1v1h-1zM350 175h1v1h-1zM375 175h1v1h-1zM376 175h1v1h-1zM377 175h1v1h-1zM381 175h1v1h-1zM382 175h1v1h-1zM383 175h1v1h-1zM384 175h1v1h-1zM385 175h1v1h-1zM387 175h1v1h-1zM388 175h1v1h-1zM281 176h1v1h-1zM323 176h1v1h-1zM324 176h1v1h-1zM325 176h1v1h-1zM326 176h1v1h-1zM327 176h1v1h-1zM328 176h1v1h-1zM329 176h1v1h-1zM330 176h1v1h-1zM331 176h1v1h-1zM332 176h1v1h-1zM333 176h1v1h-1zM334 176h1v1h-1zM335 176h1v1h-1zM336 176h1v1h-1zM337 176h1v1h-1zM338 176h1v1h-1zM339 176h1v1h-1zM340 176h1v1h-1zM341 176h1v1h-1zM342 176h1v1h-1zM343 176h1v1h-1zM345 176h1v1h-1zM346 176h1v1h-1zM347 176h1v1h-1zM350 176h1v1h-1zM352 176h1v1h-1zM354 176h1v1h-1zM375 176h1v1h-1zM281 177h1v1h-1zM282 177h1v1h-1zM283 177h1v1h-1zM316 177h1v1h-1zM317 177h1v1h-1zM318 177h1v1h-1zM319 177h1v1h-1zM321 177h1v1h-1zM322 177h1v1h-1zM323 177h1v1h-1zM324 177h1v1h-1zM283 178h1v1h-1zM285 178h1v1h-1zM286 178h1v1h-1z"/>
<path fill="#1052d8" d="M361 170h1v1h-1zM362 170h1v1h-1zM363 170h1v1h-1zM364 170h1v1h-1zM365 170h1v1h-1zM366 170h1v1h-1zM367 170h1v1h-1zM368 170h1v1h-1zM355 171h1v1h-1zM356 171h1v1h-1zM359 171h1v1h-1zM370 171h1v1h-1zM371 171h1v1h-1zM372 171h1v1h-1zM351 172h1v1h-1zM352 172h1v1h-1zM353 172h1v1h-1zM354 172h1v1h-1zM355 172h1v1h-1zM371 172h1v1h-1zM372 172h1v1h-1zM373 172h1v1h-1zM374 172h1v1h-1zM375 172h1v1h-1zM376 172h1v1h-1zM297 173h1v1h-1zM298 173h1v1h-1zM299 173h1v1h-1zM301 173h1v1h-1zM303 173h1v1h-1zM306 173h1v1h-1zM307 173h1v1h-1zM308 173h1v1h-1zM310 173h1v1h-1zM311 173h1v1h-1zM339 173h1v1h-1zM340 173h1v1h-1zM341 173h1v1h-1zM342 173h1v1h-1zM343 173h1v1h-1zM350 173h1v1h-1zM351 173h1v1h-1zM352 173h1v1h-1zM374 173h1v1h-1zM375 173h1v1h-1zM376 173h1v1h-1zM290 174h1v1h-1zM291 174h1v1h-1zM292 174h1v1h-1zM293 174h1v1h-1zM294 174h1v1h-1zM313 174h1v1h-1zM314 174h1v1h-1zM318 174h1v1h-1zM319 174h1v1h-1zM320 174h1v1h-1zM321 174h1v1h-1zM322 174h1v1h-1zM324 174h1v1h-1zM325 174h1v1h-1zM326 174h1v1h-1zM327 174h1v1h-1zM339 174h1v1h-1zM340 174h1v1h-1zM341 174h1v1h-1zM342 174h1v1h-1zM343 174h1v1h-1zM344 174h1v1h-1zM345 174h1v1h-1zM349 174h1v1h-1zM351 174h1v1h-1zM372 174h1v1h-1zM373 174h1v1h-1zM374 174h1v1h-1zM375 174h1v1h-1zM376 174h1v1h-1zM285 175h1v1h-1zM288 175h1v1h-1zM289 175h1v1h-1zM313 175h1v1h-1zM314 175h1v1h-1zM315 175h1v1h-1zM316 175h1v1h-1zM317 175h1v1h-1zM318 175h1v1h-1zM319 175h1v1h-1zM320 175h1v1h-1zM321 175h1v1h-1zM322 175h1v1h-1zM323 175h1v1h-1zM324 175h1v1h-1zM325 175h1v1h-1zM326 175h1v1h-1zM327 175h1v1h-1zM333 175h1v1h-1zM334 175h1v1h-1zM335 175h1v1h-1zM339 175h1v1h-1zM340 175h1v1h-1zM341 175h1v1h-1zM342 175h1v1h-1zM343 175h1v1h-1zM344 175h1v1h-1zM351 175h1v1h-1zM352 175h1v1h-1zM353 175h1v1h-1zM354 175h1v1h-1zM355 175h1v1h-1zM370 175h1v1h-1zM371 175h1v1h-1zM372 175h1v1h-1zM374 175h1v1h-1zM283 176h1v1h-1zM284 176h1v1h-1zM285 176h1v1h-1zM286 176h1v1h-1zM288 176h1v1h-1zM313 176h1v1h-1zM314 176h1v1h-1zM315 176h1v1h-1zM316 176h1v1h-1zM317 176h1v1h-1zM318 176h1v1h-1zM319 176h1v1h-1zM320 176h1v1h-1zM321 176h1v1h-1zM322 176h1v1h-1zM357 176h1v1h-1zM358 176h1v1h-1zM359 176h1v1h-1zM368 176h1v1h-1zM284 177h1v1h-1zM285 177h1v1h-1zM286 177h1v1h-1zM287 177h1v1h-1zM288 177h1v1h-1zM311 177h1v1h-1zM312 177h1v1h-1zM313 177h1v1h-1zM290 178h1v1h-1z"/>
<path fill="#0380ef" d="M360 171h1v1h-1zM361 171h1v1h-1zM362 171h1v1h-1zM363 171h1v1h-1zM364 171h1v1h-1zM365 171h1v1h-1zM366 171h1v1h-1zM367 171h1v1h-1zM368 171h1v1h-1zM356 172h1v1h-1zM357 172h1v1h-1zM358 172h1v1h-1zM369 172h1v1h-1zM370 172h1v1h-1zM353 173h1v1h-1zM354 173h1v1h-1zM355 173h1v1h-1zM356 173h1v1h-1zM370 173h1v1h-1zM371 173h1v1h-1zM372 173h1v1h-1zM373 173h1v1h-1zM295 174h1v1h-1zM296 174h1v1h-1zM297 174h1v1h-1zM298 174h1v1h-1zM303 174h1v1h-1zM304 174h1v1h-1zM305 174h1v1h-1zM306 174h1v1h-1zM307 174h1v1h-1zM308 174h1v1h-1zM309 174h1v1h-1zM310 174h1v1h-1zM311 174h1v1h-1zM352 174h1v1h-1zM353 174h1v1h-1zM354 174h1v1h-1zM355 174h1v1h-1zM370 174h1v1h-1zM371 174h1v1h-1zM290 175h1v1h-1zM291 175h1v1h-1zM292 175h1v1h-1zM293 175h1v1h-1zM311 175h1v1h-1zM312 175h1v1h-1zM356 175h1v1h-1zM357 175h1v1h-1zM367 175h1v1h-1zM368 175h1v1h-1zM369 175h1v1h-1zM289 176h1v1h-1zM290 176h1v1h-1zM310 176h1v1h-1zM311 176h1v1h-1zM312 176h1v1h-1zM361 176h1v1h-1zM362 176h1v1h-1zM289 177h1v1h-1zM290 177h1v1h-1zM291 177h1v1h-1zM309 177h1v1h-1zM310 177h1v1h-1z"/>
<path fill="#00abea" d="M359 172h1v1h-1zM360 172h1v1h-1zM361 172h1v1h-1zM362 172h1v1h-1zM363 172h1v1h-1zM364 172h1v1h-1zM365 172h1v1h-1zM366 172h1v1h-1zM367 172h1v1h-1zM368 172h1v1h-1zM357 173h1v1h-1zM358 173h1v1h-1zM368 173h1v1h-1zM369 173h1v1h-1zM299 174h1v1h-1zM300 174h1v1h-1zM301 174h1v1h-1zM302 174h1v1h-1zM356 174h1v1h-1zM357 174h1v1h-1zM367 174h1v1h-1zM368 174h1v1h-1zM369 174h1v1h-1zM294 175h1v1h-1zM295 175h1v1h-1zM308 175h1v1h-1zM309 175h1v1h-1zM310 175h1v1h-1zM358 175h1v1h-1zM359 175h1v1h-1zM360 175h1v1h-1zM361 175h1v1h-1zM362 175h1v1h-1zM363 175h1v1h-1zM364 175h1v1h-1zM365 175h1v1h-1zM366 175h1v1h-1zM291 176h1v1h-1zM292 176h1v1h-1zM293 176h1v1h-1zM308 176h1v1h-1zM309 176h1v1h-1zM292 177h1v1h-1zM293 177h1v1h-1zM307 177h1v1h-1zM308 177h1v1h-1z"/>
<path fill="#01d2d7" d="M359 173h1v1h-1zM360 173h1v1h-1zM361 173h1v1h-1zM362 173h1v1h-1zM363 173h1v1h-1zM364 173h1v1h-1zM365 173h1v1h-1zM366 173h1v1h-1zM367 173h1v1h-1zM358 174h1v1h-1zM359 174h1v1h-1zM360 174h1v1h-1zM361 174h1v1h-1zM362 174h1v1h-1zM363 174h1v1h-1zM364 174h1v1h-1zM365 174h1v1h-1zM366 174h1v1h-1zM296 175h1v1h-1zM297 175h1v1h-1zM298 175h1v1h-1zM303 175h1v1h-1zM304 175h1v1h-1zM305 175h1v1h-1zM306 175h1v1h-1zM307 175h1v1h-1zM294 176h1v1h-1zM295 176h1v1h-1zM306 176h1v1h-1zM307 176h1v1h-1zM294 177h1v1h-1zM295 177h1v1h-1zM305 177h1v1h-1zM306 177h1v1h-1z"/>
<path fill="#19cf7d" d="M299 175h1v1h-1zM300 175h1v1h-1zM301 175h1v1h-1zM302 175h1v1h-1zM296 176h1v1h-1zM297 176h1v1h-1zM304 176h1v1h-1zM305 176h1v1h-1zM296 177h1v1h-1zM297 177h1v1h-1zM303 177h1v1h-1zM304 177h1v1h-1z"/>
<path fill="#45d138" d="M298 176h1v1h-1zM299 176h1v1h-1zM302 176h1v1h-1zM303 176h1v1h-1zM298 177h1v1h-1zM299 177h1v1h-1zM300 177h1v1h-1zM301 177h1v1h-1zM302 177h1v1h-1z"/>
<path fill="#92db15" d="M300 176h1v1h-1zM301 176h1v1h-1z"/>
<path fill="#1f239f" d="M639 39h1v1h-1zM621 46h1v1h-1zM515 58h1v1h-1zM533 58h1v1h-1zM603 59h1v1h-1zM521 60h1v1h-1zM519 64h1v1h-1zM522 66h1v1h-1zM526 67h1v1h-1zM648 67h1v1h-1zM519 68h1v1h-1zM584 68h1v1h-1zM528 71h1v1h-1zM511 72h1v1h-1zM518 74h1v1h-1zM588 74h1v1h-1zM514 75h1v1h-1zM581 75h1v1h-1zM517 76h1v1h-1zM554 78h1v1h-1zM512 79h1v1h-1zM515 80h1v1h-1zM522 80h1v1h-1zM585 81h1v1h-1zM655 81h1v1h-1zM672 81h1v1h-1zM548 82h1v1h-1zM658 82h1v1h-1zM519 83h1v1h-1zM576 84h1v1h-1zM605 84h1v1h-1zM652 84h1v1h-1zM647 85h1v1h-1zM512 86h1v1h-1zM520 86h1v1h-1zM643 86h1v1h-1zM513 87h1v1h-1zM616 87h1v1h-1zM556 89h1v1h-1zM577 89h1v1h-1zM622 89h1v1h-1zM577 91h1v1h-1zM627 91h1v1h-1zM513 92h1v1h-1zM534 93h1v1h-1zM626 93h1v1h-1zM644 93h1v1h-1zM510 94h1v1h-1zM530 95h1v1h-1zM617 95h1v1h-1zM662 95h1v1h-1zM510 96h1v1h-1zM549 96h1v1h-1zM603 96h1v1h-1zM608 96h1v1h-1zM649 96h1v1h-1zM607 97h1v1h-1zM651 97h1v1h-1zM664 97h1v1h-1zM534 98h1v1h-1zM615 98h1v1h-1zM653 98h1v1h-1zM510 99h1v1h-1zM534 99h1v1h-1zM596 99h1v1h-1zM633 99h1v1h-1zM661 99h1v1h-1zM528 100h1v1h-1zM609 100h1v1h-1zM644 100h1v1h-1zM659 100h1v1h-1zM557 101h1v1h-1zM558 101h1v1h-1zM568 101h1v1h-1zM573 101h1v1h-1zM591 101h1v1h-1zM670 101h1v1h-1zM560 102h1v1h-1zM583 102h1v1h-1zM609 102h1v1h-1zM631 102h1v1h-1zM641 102h1v1h-1zM648 102h1v1h-1zM651 102h1v1h-1zM665 102h1v1h-1zM668 102h1v1h-1zM673 102h1v1h-1zM525 103h1v1h-1zM543 103h1v1h-1zM546 103h1v1h-1zM571 103h1v1h-1zM660 103h1v1h-1zM675 103h1v1h-1zM531 104h1v1h-1zM536 104h1v1h-1zM545 104h1v1h-1zM579 104h1v1h-1zM606 104h1v1h-1zM638 104h1v1h-1zM652 104h1v1h-1zM654 104h1v1h-1zM558 105h1v1h-1zM574 105h1v1h-1zM577 105h1v1h-1zM612 105h1v1h-1zM647 105h1v1h-1zM541 106h1v1h-1zM554 106h1v1h-1zM657 106h1v1h-1zM538 107h1v1h-1zM542 107h1v1h-1zM566 107h1v1h-1zM609 107h1v1h-1zM615 107h1v1h-1zM649 107h1v1h-1zM617 108h1v1h-1zM627 108h1v1h-1zM631 108h1v1h-1zM534 109h1v1h-1zM573 109h1v1h-1zM622 109h1v1h-1zM630 109h1v1h-1zM635 109h1v1h-1zM654 109h1v1h-1zM511 110h1v1h-1zM529 110h1v1h-1zM622 110h1v1h-1zM540 111h1v1h-1zM562 111h1v1h-1zM571 111h1v1h-1zM566 112h1v1h-1zM573 112h1v1h-1zM576 112h1v1h-1zM624 112h1v1h-1zM639 112h1v1h-1zM643 112h1v1h-1zM579 113h1v1h-1zM626 113h1v1h-1zM548 115h1v1h-1zM645 115h1v1h-1zM651 115h1v1h-1zM572 116h1v1h-1zM649 117h1v1h-1zM654 117h1v1h-1zM676 117h1v1h-1zM640 119h1v1h-1zM648 119h1v1h-1zM634 120h1v1h-1zM644 120h1v1h-1zM655 121h1v1h-1zM674 121h1v1h-1zM631 122h1v1h-1zM659 122h1v1h-1zM667 122h1v1h-1zM629 123h1v1h-1zM639 123h1v1h-1zM642 123h1v1h-1zM670 123h1v1h-1zM624 124h1v1h-1zM657 124h1v1h-1zM511 125h1v1h-1zM646 125h1v1h-1zM620 126h1v1h-1zM636 126h1v1h-1zM642 126h1v1h-1zM656 126h1v1h-1zM669 126h1v1h-1zM622 127h1v1h-1zM626 127h1v1h-1zM656 127h1v1h-1zM651 129h1v1h-1zM622 131h1v1h-1zM510 132h1v1h-1zM548 132h1v1h-1zM574 132h1v1h-1zM621 132h1v1h-1zM648 132h1v1h-1zM566 133h1v1h-1zM644 134h1v1h-1zM582 136h1v1h-1zM611 136h1v1h-1zM619 138h1v1h-1zM622 138h1v1h-1zM606 139h1v1h-1zM614 139h1v1h-1zM512 140h1v1h-1zM513 140h1v1h-1zM542 140h1v1h-1zM590 140h1v1h-1zM610 140h1v1h-1zM625 140h1v1h-1zM609 141h1v1h-1zM510 142h1v1h-1zM603 142h1v1h-1zM617 142h1v1h-1zM618 142h1v1h-1zM514 143h1v1h-1zM514 144h1v1h-1zM573 144h1v1h-1zM586 144h1v1h-1zM594 144h1v1h-1zM598 144h1v1h-1zM543 145h1v1h-1zM511 147h1v1h-1zM516 147h1v1h-1zM599 147h1v1h-1zM600 147h1v1h-1zM514 149h1v1h-1zM519 149h1v1h-1zM510 150h1v1h-1zM517 151h1v1h-1zM519 151h1v1h-1zM611 151h1v1h-1zM522 153h1v1h-1zM511 156h1v1h-1zM524 158h1v1h-1zM530 160h1v1h-1zM592 163h1v1h-1zM520 164h1v1h-1zM576 164h1v1h-1zM518 165h1v1h-1zM521 166h1v1h-1zM561 167h1v1h-1z"/>
<path fill="#1c2ab1" d="M517 69h1v1h-1zM518 70h1v1h-1zM517 71h1v1h-1zM519 79h1v1h-1zM518 80h1v1h-1zM520 80h1v1h-1zM515 84h1v1h-1zM516 84h1v1h-1zM515 86h1v1h-1zM517 86h1v1h-1zM517 87h1v1h-1zM519 87h1v1h-1zM518 89h1v1h-1zM519 90h1v1h-1zM520 91h1v1h-1zM521 91h1v1h-1zM521 92h1v1h-1zM517 93h1v1h-1zM519 93h1v1h-1zM514 94h1v1h-1zM514 95h1v1h-1zM521 96h1v1h-1zM514 97h1v1h-1zM515 97h1v1h-1zM522 97h1v1h-1zM524 97h1v1h-1zM593 98h1v1h-1zM515 99h1v1h-1zM523 99h1v1h-1zM593 99h1v1h-1zM523 100h1v1h-1zM525 100h1v1h-1zM592 100h1v1h-1zM596 100h1v1h-1zM515 101h1v1h-1zM517 101h1v1h-1zM515 102h1v1h-1zM521 102h1v1h-1zM523 102h1v1h-1zM598 102h1v1h-1zM600 102h1v1h-1zM514 103h1v1h-1zM533 103h1v1h-1zM535 103h1v1h-1zM588 103h1v1h-1zM600 103h1v1h-1zM516 104h1v1h-1zM521 104h1v1h-1zM527 104h1v1h-1zM528 104h1v1h-1zM587 104h1v1h-1zM588 104h1v1h-1zM590 104h1v1h-1zM595 104h1v1h-1zM600 104h1v1h-1zM602 104h1v1h-1zM515 105h1v1h-1zM534 105h1v1h-1zM590 105h1v1h-1zM597 105h1v1h-1zM599 105h1v1h-1zM600 105h1v1h-1zM661 105h1v1h-1zM662 105h1v1h-1zM671 105h1v1h-1zM514 106h1v1h-1zM522 106h1v1h-1zM523 106h1v1h-1zM529 106h1v1h-1zM530 106h1v1h-1zM595 106h1v1h-1zM596 106h1v1h-1zM597 106h1v1h-1zM602 106h1v1h-1zM604 106h1v1h-1zM606 106h1v1h-1zM645 106h1v1h-1zM659 106h1v1h-1zM666 106h1v1h-1zM668 106h1v1h-1zM672 106h1v1h-1zM674 106h1v1h-1zM578 107h1v1h-1zM589 107h1v1h-1zM605 107h1v1h-1zM645 107h1v1h-1zM653 107h1v1h-1zM666 107h1v1h-1zM667 107h1v1h-1zM669 107h1v1h-1zM671 107h1v1h-1zM675 107h1v1h-1zM577 108h1v1h-1zM582 108h1v1h-1zM584 108h1v1h-1zM586 108h1v1h-1zM588 108h1v1h-1zM589 108h1v1h-1zM594 108h1v1h-1zM596 108h1v1h-1zM604 108h1v1h-1zM612 108h1v1h-1zM652 108h1v1h-1zM659 108h1v1h-1zM661 108h1v1h-1zM664 108h1v1h-1zM665 108h1v1h-1zM674 108h1v1h-1zM514 109h1v1h-1zM526 109h1v1h-1zM583 109h1v1h-1zM587 109h1v1h-1zM597 109h1v1h-1zM610 109h1v1h-1zM612 109h1v1h-1zM614 109h1v1h-1zM645 109h1v1h-1zM662 109h1v1h-1zM666 109h1v1h-1zM668 109h1v1h-1zM513 110h1v1h-1zM525 110h1v1h-1zM527 110h1v1h-1zM547 110h1v1h-1zM574 110h1v1h-1zM583 110h1v1h-1zM609 110h1v1h-1zM610 110h1v1h-1zM612 110h1v1h-1zM647 110h1v1h-1zM658 110h1v1h-1zM662 110h1v1h-1zM665 110h1v1h-1zM667 110h1v1h-1zM513 111h1v1h-1zM522 111h1v1h-1zM524 111h1v1h-1zM525 111h1v1h-1zM527 111h1v1h-1zM544 111h1v1h-1zM545 111h1v1h-1zM547 111h1v1h-1zM548 111h1v1h-1zM554 111h1v1h-1zM583 111h1v1h-1zM607 111h1v1h-1zM645 111h1v1h-1zM649 111h1v1h-1zM656 111h1v1h-1zM663 111h1v1h-1zM675 111h1v1h-1zM521 112h1v1h-1zM522 112h1v1h-1zM533 112h1v1h-1zM541 112h1v1h-1zM554 112h1v1h-1zM555 112h1v1h-1zM557 112h1v1h-1zM632 112h1v1h-1zM646 112h1v1h-1zM648 112h1v1h-1zM654 112h1v1h-1zM656 112h1v1h-1zM664 112h1v1h-1zM666 112h1v1h-1zM513 113h1v1h-1zM534 113h1v1h-1zM535 113h1v1h-1zM562 113h1v1h-1zM563 113h1v1h-1zM583 113h1v1h-1zM614 113h1v1h-1zM633 113h1v1h-1zM639 113h1v1h-1zM654 113h1v1h-1zM657 113h1v1h-1zM658 113h1v1h-1zM660 113h1v1h-1zM661 113h1v1h-1zM663 113h1v1h-1zM528 114h1v1h-1zM533 114h1v1h-1zM540 114h1v1h-1zM576 114h1v1h-1zM617 114h1v1h-1zM619 114h1v1h-1zM620 114h1v1h-1zM631 114h1v1h-1zM660 114h1v1h-1zM661 114h1v1h-1zM510 115h1v1h-1zM512 115h1v1h-1zM539 115h1v1h-1zM553 115h1v1h-1zM555 115h1v1h-1zM558 115h1v1h-1zM559 115h1v1h-1zM563 115h1v1h-1zM566 115h1v1h-1zM577 115h1v1h-1zM582 115h1v1h-1zM617 115h1v1h-1zM621 115h1v1h-1zM627 115h1v1h-1zM629 115h1v1h-1zM639 115h1v1h-1zM643 115h1v1h-1zM673 115h1v1h-1zM675 115h1v1h-1zM524 116h1v1h-1zM526 116h1v1h-1zM527 116h1v1h-1zM542 116h1v1h-1zM553 116h1v1h-1zM561 116h1v1h-1zM568 116h1v1h-1zM576 116h1v1h-1zM581 116h1v1h-1zM620 116h1v1h-1zM630 116h1v1h-1zM631 116h1v1h-1zM632 116h1v1h-1zM633 116h1v1h-1zM638 116h1v1h-1zM643 116h1v1h-1zM652 116h1v1h-1zM660 116h1v1h-1zM512 117h1v1h-1zM514 117h1v1h-1zM525 117h1v1h-1zM538 117h1v1h-1zM540 117h1v1h-1zM545 117h1v1h-1zM548 117h1v1h-1zM550 117h1v1h-1zM552 117h1v1h-1zM562 117h1v1h-1zM567 117h1v1h-1zM576 117h1v1h-1zM578 117h1v1h-1zM615 117h1v1h-1zM620 117h1v1h-1zM626 117h1v1h-1zM629 117h1v1h-1zM638 117h1v1h-1zM641 117h1v1h-1zM659 117h1v1h-1zM660 117h1v1h-1zM661 117h1v1h-1zM668 117h1v1h-1zM670 117h1v1h-1zM671 117h1v1h-1zM512 118h1v1h-1zM541 118h1v1h-1zM547 118h1v1h-1zM570 118h1v1h-1zM578 118h1v1h-1zM616 118h1v1h-1zM620 118h1v1h-1zM638 118h1v1h-1zM657 118h1v1h-1zM661 118h1v1h-1zM514 119h1v1h-1zM525 119h1v1h-1zM542 119h1v1h-1zM567 119h1v1h-1zM569 119h1v1h-1zM571 119h1v1h-1zM574 119h1v1h-1zM577 119h1v1h-1zM616 119h1v1h-1zM626 119h1v1h-1zM651 119h1v1h-1zM652 119h1v1h-1zM657 119h1v1h-1zM661 119h1v1h-1zM669 119h1v1h-1zM671 119h1v1h-1zM673 119h1v1h-1zM510 120h1v1h-1zM512 120h1v1h-1zM514 120h1v1h-1zM527 120h1v1h-1zM542 120h1v1h-1zM570 120h1v1h-1zM572 120h1v1h-1zM573 120h1v1h-1zM575 120h1v1h-1zM616 120h1v1h-1zM617 120h1v1h-1zM619 120h1v1h-1zM621 120h1v1h-1zM625 120h1v1h-1zM653 120h1v1h-1zM663 120h1v1h-1zM668 120h1v1h-1zM671 120h1v1h-1zM510 121h1v1h-1zM524 121h1v1h-1zM541 121h1v1h-1zM548 121h1v1h-1zM568 121h1v1h-1zM571 121h1v1h-1zM576 121h1v1h-1zM617 121h1v1h-1zM621 121h1v1h-1zM647 121h1v1h-1zM652 121h1v1h-1zM658 121h1v1h-1zM665 121h1v1h-1zM525 122h1v1h-1zM568 122h1v1h-1zM616 122h1v1h-1zM620 122h1v1h-1zM648 122h1v1h-1zM652 122h1v1h-1zM526 123h1v1h-1zM547 123h1v1h-1zM569 123h1v1h-1zM617 123h1v1h-1zM619 123h1v1h-1zM620 123h1v1h-1zM622 123h1v1h-1zM647 123h1v1h-1zM524 124h1v1h-1zM542 124h1v1h-1zM543 124h1v1h-1zM548 124h1v1h-1zM568 124h1v1h-1zM615 124h1v1h-1zM513 125h1v1h-1zM525 125h1v1h-1zM568 125h1v1h-1zM573 125h1v1h-1zM575 125h1v1h-1zM576 125h1v1h-1zM616 125h1v1h-1zM545 126h1v1h-1zM549 126h1v1h-1zM567 126h1v1h-1zM572 126h1v1h-1zM573 126h1v1h-1zM574 126h1v1h-1zM579 126h1v1h-1zM616 126h1v1h-1zM541 127h1v1h-1zM542 127h1v1h-1zM548 127h1v1h-1zM571 127h1v1h-1zM572 127h1v1h-1zM579 127h1v1h-1zM617 127h1v1h-1zM542 128h1v1h-1zM544 128h1v1h-1zM545 128h1v1h-1zM566 128h1v1h-1zM567 128h1v1h-1zM569 128h1v1h-1zM572 128h1v1h-1zM581 128h1v1h-1zM583 128h1v1h-1zM612 128h1v1h-1zM616 128h1v1h-1zM512 129h1v1h-1zM514 129h1v1h-1zM544 129h1v1h-1zM546 129h1v1h-1zM550 129h1v1h-1zM551 129h1v1h-1zM563 129h1v1h-1zM568 129h1v1h-1zM573 129h1v1h-1zM574 129h1v1h-1zM575 129h1v1h-1zM579 129h1v1h-1zM583 129h1v1h-1zM515 130h1v1h-1zM546 130h1v1h-1zM549 130h1v1h-1zM550 130h1v1h-1zM563 130h1v1h-1zM566 130h1v1h-1zM572 130h1v1h-1zM582 130h1v1h-1zM541 131h1v1h-1zM544 131h1v1h-1zM559 131h1v1h-1zM565 131h1v1h-1zM583 131h1v1h-1zM611 131h1v1h-1zM614 131h1v1h-1zM513 132h1v1h-1zM544 132h1v1h-1zM560 132h1v1h-1zM561 132h1v1h-1zM562 132h1v1h-1zM563 132h1v1h-1zM581 132h1v1h-1zM610 132h1v1h-1zM611 132h1v1h-1zM612 132h1v1h-1zM614 132h1v1h-1zM516 133h1v1h-1zM518 133h1v1h-1zM576 133h1v1h-1zM579 133h1v1h-1zM586 133h1v1h-1zM615 133h1v1h-1zM616 133h1v1h-1zM513 134h1v1h-1zM514 134h1v1h-1zM577 134h1v1h-1zM579 134h1v1h-1zM581 134h1v1h-1zM513 135h1v1h-1zM517 135h1v1h-1zM517 136h1v1h-1zM540 136h1v1h-1zM587 136h1v1h-1zM589 136h1v1h-1zM603 136h1v1h-1zM605 136h1v1h-1zM607 136h1v1h-1zM613 136h1v1h-1zM614 136h1v1h-1zM519 137h1v1h-1zM591 137h1v1h-1zM516 138h1v1h-1zM521 138h1v1h-1zM593 138h1v1h-1zM594 138h1v1h-1zM601 138h1v1h-1zM521 139h1v1h-1zM591 139h1v1h-1zM593 139h1v1h-1zM597 139h1v1h-1zM602 139h1v1h-1zM517 140h1v1h-1zM518 140h1v1h-1zM594 140h1v1h-1zM599 140h1v1h-1zM518 141h1v1h-1zM521 141h1v1h-1zM539 141h1v1h-1zM597 141h1v1h-1zM603 141h1v1h-1zM522 142h1v1h-1zM523 142h1v1h-1zM596 142h1v1h-1zM518 143h1v1h-1zM521 143h1v1h-1zM538 143h1v1h-1zM518 144h1v1h-1zM519 144h1v1h-1zM524 146h1v1h-1zM521 147h1v1h-1zM522 147h1v1h-1zM536 147h1v1h-1zM524 149h1v1h-1zM535 149h1v1h-1zM535 150h1v1h-1zM525 151h1v1h-1zM535 151h1v1h-1zM523 152h1v1h-1zM526 152h1v1h-1zM534 152h1v1h-1zM525 153h1v1h-1zM533 153h1v1h-1zM528 154h1v1h-1zM529 154h1v1h-1zM531 154h1v1h-1zM532 154h1v1h-1zM526 155h1v1h-1zM529 155h1v1h-1zM529 157h1v1h-1zM527 158h1v1h-1zM528 159h1v1h-1z"/>
<path fill="#1a30c3" d="M519 94h1v1h-1zM519 95h1v1h-1zM520 95h1v1h-1zM516 96h1v1h-1zM517 96h1v1h-1zM516 97h1v1h-1zM518 97h1v1h-1zM517 98h1v1h-1zM517 99h1v1h-1zM520 99h1v1h-1zM521 99h1v1h-1zM522 99h1v1h-1zM517 100h1v1h-1zM518 100h1v1h-1zM519 100h1v1h-1zM520 100h1v1h-1zM521 100h1v1h-1zM518 101h1v1h-1zM521 101h1v1h-1zM518 103h1v1h-1zM517 104h1v1h-1zM518 104h1v1h-1zM519 104h1v1h-1zM517 105h1v1h-1zM520 105h1v1h-1zM519 106h1v1h-1zM520 106h1v1h-1zM516 107h1v1h-1zM517 107h1v1h-1zM518 107h1v1h-1zM519 107h1v1h-1zM520 107h1v1h-1zM521 107h1v1h-1zM599 107h1v1h-1zM517 108h1v1h-1zM520 108h1v1h-1zM599 108h1v1h-1zM600 108h1v1h-1zM601 108h1v1h-1zM671 108h1v1h-1zM673 108h1v1h-1zM520 109h1v1h-1zM589 109h1v1h-1zM592 109h1v1h-1zM593 109h1v1h-1zM600 109h1v1h-1zM602 109h1v1h-1zM670 109h1v1h-1zM671 109h1v1h-1zM672 109h1v1h-1zM673 109h1v1h-1zM518 110h1v1h-1zM590 110h1v1h-1zM595 110h1v1h-1zM598 110h1v1h-1zM599 110h1v1h-1zM602 110h1v1h-1zM604 110h1v1h-1zM670 110h1v1h-1zM672 110h1v1h-1zM673 110h1v1h-1zM674 110h1v1h-1zM517 111h1v1h-1zM518 111h1v1h-1zM586 111h1v1h-1zM587 111h1v1h-1zM591 111h1v1h-1zM594 111h1v1h-1zM595 111h1v1h-1zM596 111h1v1h-1zM601 111h1v1h-1zM603 111h1v1h-1zM604 111h1v1h-1zM671 111h1v1h-1zM672 111h1v1h-1zM673 111h1v1h-1zM514 112h1v1h-1zM515 112h1v1h-1zM516 112h1v1h-1zM517 112h1v1h-1zM585 112h1v1h-1zM586 112h1v1h-1zM587 112h1v1h-1zM604 112h1v1h-1zM606 112h1v1h-1zM608 112h1v1h-1zM669 112h1v1h-1zM670 112h1v1h-1zM673 112h1v1h-1zM514 113h1v1h-1zM516 113h1v1h-1zM517 113h1v1h-1zM520 113h1v1h-1zM585 113h1v1h-1zM587 113h1v1h-1zM606 113h1v1h-1zM610 113h1v1h-1zM666 113h1v1h-1zM668 113h1v1h-1zM669 113h1v1h-1zM673 113h1v1h-1zM516 114h1v1h-1zM519 114h1v1h-1zM520 114h1v1h-1zM535 114h1v1h-1zM586 114h1v1h-1zM610 114h1v1h-1zM614 114h1v1h-1zM664 114h1v1h-1zM666 114h1v1h-1zM668 114h1v1h-1zM669 114h1v1h-1zM670 114h1v1h-1zM671 114h1v1h-1zM673 114h1v1h-1zM515 115h1v1h-1zM516 115h1v1h-1zM517 115h1v1h-1zM519 115h1v1h-1zM521 115h1v1h-1zM535 115h1v1h-1zM536 115h1v1h-1zM583 115h1v1h-1zM584 115h1v1h-1zM612 115h1v1h-1zM613 115h1v1h-1zM614 115h1v1h-1zM663 115h1v1h-1zM664 115h1v1h-1zM665 115h1v1h-1zM666 115h1v1h-1zM667 115h1v1h-1zM669 115h1v1h-1zM670 115h1v1h-1zM515 116h1v1h-1zM518 116h1v1h-1zM519 116h1v1h-1zM520 116h1v1h-1zM521 116h1v1h-1zM522 116h1v1h-1zM528 116h1v1h-1zM531 116h1v1h-1zM533 116h1v1h-1zM534 116h1v1h-1zM536 116h1v1h-1zM555 116h1v1h-1zM557 116h1v1h-1zM558 116h1v1h-1zM559 116h1v1h-1zM582 116h1v1h-1zM583 116h1v1h-1zM584 116h1v1h-1zM612 116h1v1h-1zM614 116h1v1h-1zM665 116h1v1h-1zM666 116h1v1h-1zM669 116h1v1h-1zM515 117h1v1h-1zM516 117h1v1h-1zM517 117h1v1h-1zM521 117h1v1h-1zM522 117h1v1h-1zM523 117h1v1h-1zM528 117h1v1h-1zM529 117h1v1h-1zM530 117h1v1h-1zM532 117h1v1h-1zM535 117h1v1h-1zM536 117h1v1h-1zM556 117h1v1h-1zM557 117h1v1h-1zM565 117h1v1h-1zM566 117h1v1h-1zM581 117h1v1h-1zM612 117h1v1h-1zM613 117h1v1h-1zM614 117h1v1h-1zM663 117h1v1h-1zM666 117h1v1h-1zM516 118h1v1h-1zM519 118h1v1h-1zM520 118h1v1h-1zM521 118h1v1h-1zM522 118h1v1h-1zM525 118h1v1h-1zM527 118h1v1h-1zM529 118h1v1h-1zM531 118h1v1h-1zM533 118h1v1h-1zM536 118h1v1h-1zM540 118h1v1h-1zM550 118h1v1h-1zM558 118h1v1h-1zM565 118h1v1h-1zM566 118h1v1h-1zM581 118h1v1h-1zM663 118h1v1h-1zM664 118h1v1h-1zM665 118h1v1h-1zM666 118h1v1h-1zM517 119h1v1h-1zM518 119h1v1h-1zM519 119h1v1h-1zM521 119h1v1h-1zM522 119h1v1h-1zM523 119h1v1h-1zM527 119h1v1h-1zM534 119h1v1h-1zM540 119h1v1h-1zM549 119h1v1h-1zM550 119h1v1h-1zM551 119h1v1h-1zM552 119h1v1h-1zM553 119h1v1h-1zM560 119h1v1h-1zM563 119h1v1h-1zM564 119h1v1h-1zM565 119h1v1h-1zM566 119h1v1h-1zM580 119h1v1h-1zM582 119h1v1h-1zM611 119h1v1h-1zM612 119h1v1h-1zM614 119h1v1h-1zM665 119h1v1h-1zM516 120h1v1h-1zM520 120h1v1h-1zM524 120h1v1h-1zM529 120h1v1h-1zM544 120h1v1h-1zM545 120h1v1h-1zM547 120h1v1h-1zM548 120h1v1h-1zM554 120h1v1h-1zM561 120h1v1h-1zM562 120h1v1h-1zM564 120h1v1h-1zM581 120h1v1h-1zM611 120h1v1h-1zM613 120h1v1h-1zM614 120h1v1h-1zM514 121h1v1h-1zM515 121h1v1h-1zM519 121h1v1h-1zM520 121h1v1h-1zM521 121h1v1h-1zM523 121h1v1h-1zM528 121h1v1h-1zM539 121h1v1h-1zM544 121h1v1h-1zM545 121h1v1h-1zM546 121h1v1h-1zM552 121h1v1h-1zM554 121h1v1h-1zM563 121h1v1h-1zM578 121h1v1h-1zM581 121h1v1h-1zM611 121h1v1h-1zM612 121h1v1h-1zM614 121h1v1h-1zM618 121h1v1h-1zM619 121h1v1h-1zM515 122h1v1h-1zM517 122h1v1h-1zM520 122h1v1h-1zM529 122h1v1h-1zM539 122h1v1h-1zM545 122h1v1h-1zM551 122h1v1h-1zM552 122h1v1h-1zM564 122h1v1h-1zM577 122h1v1h-1zM578 122h1v1h-1zM579 122h1v1h-1zM582 122h1v1h-1zM611 122h1v1h-1zM612 122h1v1h-1zM515 123h1v1h-1zM517 123h1v1h-1zM520 123h1v1h-1zM521 123h1v1h-1zM528 123h1v1h-1zM539 123h1v1h-1zM540 123h1v1h-1zM545 123h1v1h-1zM550 123h1v1h-1zM551 123h1v1h-1zM553 123h1v1h-1zM565 123h1v1h-1zM566 123h1v1h-1zM578 123h1v1h-1zM579 123h1v1h-1zM581 123h1v1h-1zM583 123h1v1h-1zM611 123h1v1h-1zM612 123h1v1h-1zM613 123h1v1h-1zM514 124h1v1h-1zM515 124h1v1h-1zM517 124h1v1h-1zM518 124h1v1h-1zM522 124h1v1h-1zM527 124h1v1h-1zM540 124h1v1h-1zM545 124h1v1h-1zM550 124h1v1h-1zM565 124h1v1h-1zM566 124h1v1h-1zM581 124h1v1h-1zM582 124h1v1h-1zM613 124h1v1h-1zM614 124h1v1h-1zM515 125h1v1h-1zM516 125h1v1h-1zM520 125h1v1h-1zM523 125h1v1h-1zM544 125h1v1h-1zM545 125h1v1h-1zM546 125h1v1h-1zM550 125h1v1h-1zM552 125h1v1h-1zM554 125h1v1h-1zM565 125h1v1h-1zM581 125h1v1h-1zM582 125h1v1h-1zM583 125h1v1h-1zM584 125h1v1h-1zM609 125h1v1h-1zM610 125h1v1h-1zM611 125h1v1h-1zM515 126h1v1h-1zM516 126h1v1h-1zM517 126h1v1h-1zM519 126h1v1h-1zM520 126h1v1h-1zM521 126h1v1h-1zM523 126h1v1h-1zM524 126h1v1h-1zM550 126h1v1h-1zM551 126h1v1h-1zM554 126h1v1h-1zM563 126h1v1h-1zM564 126h1v1h-1zM565 126h1v1h-1zM566 126h1v1h-1zM581 126h1v1h-1zM582 126h1v1h-1zM584 126h1v1h-1zM609 126h1v1h-1zM610 126h1v1h-1zM611 126h1v1h-1zM514 127h1v1h-1zM515 127h1v1h-1zM516 127h1v1h-1zM524 127h1v1h-1zM540 127h1v1h-1zM552 127h1v1h-1zM554 127h1v1h-1zM555 127h1v1h-1zM563 127h1v1h-1zM564 127h1v1h-1zM580 127h1v1h-1zM608 127h1v1h-1zM611 127h1v1h-1zM514 128h1v1h-1zM526 128h1v1h-1zM539 128h1v1h-1zM553 128h1v1h-1zM554 128h1v1h-1zM555 128h1v1h-1zM561 128h1v1h-1zM580 128h1v1h-1zM585 128h1v1h-1zM515 129h1v1h-1zM517 129h1v1h-1zM524 129h1v1h-1zM526 129h1v1h-1zM539 129h1v1h-1zM552 129h1v1h-1zM553 129h1v1h-1zM554 129h1v1h-1zM555 129h1v1h-1zM556 129h1v1h-1zM557 129h1v1h-1zM558 129h1v1h-1zM559 129h1v1h-1zM560 129h1v1h-1zM562 129h1v1h-1zM586 129h1v1h-1zM609 129h1v1h-1zM610 129h1v1h-1zM518 130h1v1h-1zM519 130h1v1h-1zM523 130h1v1h-1zM524 130h1v1h-1zM525 130h1v1h-1zM539 130h1v1h-1zM540 130h1v1h-1zM552 130h1v1h-1zM554 130h1v1h-1zM555 130h1v1h-1zM560 130h1v1h-1zM562 130h1v1h-1zM584 130h1v1h-1zM586 130h1v1h-1zM588 130h1v1h-1zM607 130h1v1h-1zM608 130h1v1h-1zM518 131h1v1h-1zM520 131h1v1h-1zM521 131h1v1h-1zM523 131h1v1h-1zM524 131h1v1h-1zM539 131h1v1h-1zM555 131h1v1h-1zM560 131h1v1h-1zM561 131h1v1h-1zM585 131h1v1h-1zM587 131h1v1h-1zM606 131h1v1h-1zM608 131h1v1h-1zM610 131h1v1h-1zM519 132h1v1h-1zM522 132h1v1h-1zM523 132h1v1h-1zM525 132h1v1h-1zM540 132h1v1h-1zM585 132h1v1h-1zM587 132h1v1h-1zM589 132h1v1h-1zM605 132h1v1h-1zM606 132h1v1h-1zM608 132h1v1h-1zM521 133h1v1h-1zM522 133h1v1h-1zM523 133h1v1h-1zM524 133h1v1h-1zM587 133h1v1h-1zM588 133h1v1h-1zM589 133h1v1h-1zM591 133h1v1h-1zM603 133h1v1h-1zM604 133h1v1h-1zM606 133h1v1h-1zM607 133h1v1h-1zM519 134h1v1h-1zM522 134h1v1h-1zM524 134h1v1h-1zM539 134h1v1h-1zM592 134h1v1h-1zM593 134h1v1h-1zM600 134h1v1h-1zM603 134h1v1h-1zM605 134h1v1h-1zM520 135h1v1h-1zM521 135h1v1h-1zM522 135h1v1h-1zM592 135h1v1h-1zM593 135h1v1h-1zM594 135h1v1h-1zM595 135h1v1h-1zM596 135h1v1h-1zM597 135h1v1h-1zM598 135h1v1h-1zM601 135h1v1h-1zM602 135h1v1h-1zM519 136h1v1h-1zM520 136h1v1h-1zM525 136h1v1h-1zM595 136h1v1h-1zM596 136h1v1h-1zM597 136h1v1h-1zM598 136h1v1h-1zM600 136h1v1h-1zM524 137h1v1h-1zM525 137h1v1h-1zM595 137h1v1h-1zM596 137h1v1h-1zM598 137h1v1h-1zM599 137h1v1h-1zM600 137h1v1h-1zM601 137h1v1h-1zM525 138h1v1h-1zM525 139h1v1h-1zM538 139h1v1h-1zM525 140h1v1h-1zM519 141h1v1h-1zM520 141h1v1h-1zM525 141h1v1h-1zM538 141h1v1h-1zM520 142h1v1h-1zM525 142h1v1h-1zM537 142h1v1h-1zM538 142h1v1h-1zM519 143h1v1h-1zM524 143h1v1h-1zM525 143h1v1h-1zM525 144h1v1h-1zM536 144h1v1h-1zM525 145h1v1h-1zM536 145h1v1h-1zM525 146h1v1h-1zM526 147h1v1h-1zM527 147h1v1h-1zM526 148h1v1h-1zM527 148h1v1h-1zM534 148h1v1h-1zM528 149h1v1h-1zM533 149h1v1h-1zM527 150h1v1h-1zM528 150h1v1h-1zM533 150h1v1h-1zM528 151h1v1h-1zM529 151h1v1h-1zM530 151h1v1h-1zM531 151h1v1h-1zM528 152h1v1h-1zM529 152h1v1h-1zM533 152h1v1h-1zM527 153h1v1h-1z"/>
<path fill="#1052d8" d="M592 111h1v1h-1zM593 111h1v1h-1zM599 111h1v1h-1zM589 112h1v1h-1zM590 112h1v1h-1zM591 112h1v1h-1zM592 112h1v1h-1zM593 112h1v1h-1zM597 112h1v1h-1zM598 112h1v1h-1zM599 112h1v1h-1zM601 112h1v1h-1zM588 113h1v1h-1zM589 113h1v1h-1zM601 113h1v1h-1zM602 113h1v1h-1zM603 113h1v1h-1zM587 114h1v1h-1zM588 114h1v1h-1zM603 114h1v1h-1zM604 114h1v1h-1zM605 114h1v1h-1zM606 114h1v1h-1zM607 114h1v1h-1zM608 114h1v1h-1zM609 114h1v1h-1zM587 115h1v1h-1zM588 115h1v1h-1zM605 115h1v1h-1zM606 115h1v1h-1zM607 115h1v1h-1zM608 115h1v1h-1zM610 115h1v1h-1zM611 115h1v1h-1zM585 116h1v1h-1zM587 116h1v1h-1zM610 116h1v1h-1zM520 117h1v1h-1zM584 117h1v1h-1zM585 117h1v1h-1zM586 117h1v1h-1zM610 117h1v1h-1zM555 118h1v1h-1zM557 118h1v1h-1zM583 118h1v1h-1zM584 118h1v1h-1zM585 118h1v1h-1zM608 118h1v1h-1zM531 119h1v1h-1zM532 119h1v1h-1zM533 119h1v1h-1zM537 119h1v1h-1zM555 119h1v1h-1zM556 119h1v1h-1zM557 119h1v1h-1zM558 119h1v1h-1zM583 119h1v1h-1zM584 119h1v1h-1zM608 119h1v1h-1zM609 119h1v1h-1zM610 119h1v1h-1zM530 120h1v1h-1zM531 120h1v1h-1zM533 120h1v1h-1zM534 120h1v1h-1zM535 120h1v1h-1zM536 120h1v1h-1zM537 120h1v1h-1zM538 120h1v1h-1zM556 120h1v1h-1zM557 120h1v1h-1zM558 120h1v1h-1zM559 120h1v1h-1zM560 120h1v1h-1zM583 120h1v1h-1zM584 120h1v1h-1zM608 120h1v1h-1zM609 120h1v1h-1zM530 121h1v1h-1zM532 121h1v1h-1zM533 121h1v1h-1zM535 121h1v1h-1zM536 121h1v1h-1zM538 121h1v1h-1zM555 121h1v1h-1zM557 121h1v1h-1zM558 121h1v1h-1zM559 121h1v1h-1zM562 121h1v1h-1zM584 121h1v1h-1zM585 121h1v1h-1zM608 121h1v1h-1zM609 121h1v1h-1zM530 122h1v1h-1zM534 122h1v1h-1zM536 122h1v1h-1zM537 122h1v1h-1zM553 122h1v1h-1zM554 122h1v1h-1zM555 122h1v1h-1zM556 122h1v1h-1zM557 122h1v1h-1zM560 122h1v1h-1zM561 122h1v1h-1zM562 122h1v1h-1zM563 122h1v1h-1zM584 122h1v1h-1zM608 122h1v1h-1zM609 122h1v1h-1zM610 122h1v1h-1zM529 123h1v1h-1zM530 123h1v1h-1zM536 123h1v1h-1zM537 123h1v1h-1zM555 123h1v1h-1zM556 123h1v1h-1zM557 123h1v1h-1zM560 123h1v1h-1zM561 123h1v1h-1zM562 123h1v1h-1zM564 123h1v1h-1zM584 123h1v1h-1zM585 123h1v1h-1zM608 123h1v1h-1zM609 123h1v1h-1zM537 124h1v1h-1zM538 124h1v1h-1zM555 124h1v1h-1zM556 124h1v1h-1zM557 124h1v1h-1zM560 124h1v1h-1zM562 124h1v1h-1zM564 124h1v1h-1zM584 124h1v1h-1zM585 124h1v1h-1zM607 124h1v1h-1zM609 124h1v1h-1zM529 125h1v1h-1zM537 125h1v1h-1zM538 125h1v1h-1zM555 125h1v1h-1zM556 125h1v1h-1zM557 125h1v1h-1zM558 125h1v1h-1zM559 125h1v1h-1zM560 125h1v1h-1zM561 125h1v1h-1zM562 125h1v1h-1zM563 125h1v1h-1zM564 125h1v1h-1zM528 126h1v1h-1zM538 126h1v1h-1zM557 126h1v1h-1zM558 126h1v1h-1zM559 126h1v1h-1zM560 126h1v1h-1zM561 126h1v1h-1zM562 126h1v1h-1zM585 126h1v1h-1zM586 126h1v1h-1zM608 126h1v1h-1zM518 127h1v1h-1zM520 127h1v1h-1zM521 127h1v1h-1zM527 127h1v1h-1zM538 127h1v1h-1zM556 127h1v1h-1zM557 127h1v1h-1zM558 127h1v1h-1zM559 127h1v1h-1zM586 127h1v1h-1zM587 127h1v1h-1zM607 127h1v1h-1zM517 128h1v1h-1zM518 128h1v1h-1zM519 128h1v1h-1zM520 128h1v1h-1zM521 128h1v1h-1zM558 128h1v1h-1zM559 128h1v1h-1zM587 128h1v1h-1zM606 128h1v1h-1zM607 128h1v1h-1zM518 129h1v1h-1zM519 129h1v1h-1zM521 129h1v1h-1zM522 129h1v1h-1zM538 129h1v1h-1zM588 129h1v1h-1zM606 129h1v1h-1zM521 130h1v1h-1zM527 130h1v1h-1zM604 130h1v1h-1zM605 130h1v1h-1zM606 130h1v1h-1zM526 131h1v1h-1zM527 131h1v1h-1zM538 131h1v1h-1zM589 131h1v1h-1zM590 131h1v1h-1zM602 131h1v1h-1zM605 131h1v1h-1zM526 132h1v1h-1zM538 132h1v1h-1zM590 132h1v1h-1zM591 132h1v1h-1zM592 132h1v1h-1zM602 132h1v1h-1zM526 133h1v1h-1zM594 133h1v1h-1zM595 133h1v1h-1zM596 133h1v1h-1zM597 133h1v1h-1zM600 133h1v1h-1zM601 133h1v1h-1zM526 134h1v1h-1zM594 134h1v1h-1zM596 134h1v1h-1zM526 135h1v1h-1zM537 135h1v1h-1zM526 136h1v1h-1zM537 136h1v1h-1zM537 137h1v1h-1zM536 140h1v1h-1zM537 140h1v1h-1zM536 141h1v1h-1zM526 142h1v1h-1zM526 143h1v1h-1zM536 143h1v1h-1zM527 144h1v1h-1zM527 145h1v1h-1zM535 145h1v1h-1zM528 146h1v1h-1zM534 146h1v1h-1zM528 147h1v1h-1zM532 147h1v1h-1zM528 148h1v1h-1zM530 148h1v1h-1zM531 148h1v1h-1zM532 148h1v1h-1zM529 149h1v1h-1zM531 149h1v1h-1zM532 149h1v1h-1zM531 150h1v1h-1zM532 150h1v1h-1z"/>
<path fill="#0380ef" d="M592 113h1v1h-1zM593 113h1v1h-1zM594 113h1v1h-1zM595 113h1v1h-1zM596 113h1v1h-1zM598 113h1v1h-1zM599 113h1v1h-1zM600 113h1v1h-1zM590 114h1v1h-1zM592 114h1v1h-1zM598 114h1v1h-1zM599 114h1v1h-1zM600 114h1v1h-1zM601 114h1v1h-1zM602 114h1v1h-1zM589 115h1v1h-1zM590 115h1v1h-1zM591 115h1v1h-1zM588 116h1v1h-1zM589 116h1v1h-1zM607 116h1v1h-1zM587 117h1v1h-1zM588 117h1v1h-1zM589 117h1v1h-1zM606 117h1v1h-1zM607 117h1v1h-1zM586 118h1v1h-1zM587 118h1v1h-1zM588 118h1v1h-1zM607 118h1v1h-1zM586 119h1v1h-1zM587 119h1v1h-1zM607 119h1v1h-1zM585 120h1v1h-1zM586 120h1v1h-1zM587 120h1v1h-1zM607 120h1v1h-1zM586 121h1v1h-1zM607 121h1v1h-1zM531 122h1v1h-1zM532 122h1v1h-1zM533 122h1v1h-1zM559 122h1v1h-1zM586 122h1v1h-1zM587 122h1v1h-1zM531 123h1v1h-1zM532 123h1v1h-1zM533 123h1v1h-1zM534 123h1v1h-1zM558 123h1v1h-1zM559 123h1v1h-1zM586 123h1v1h-1zM607 123h1v1h-1zM530 124h1v1h-1zM535 124h1v1h-1zM536 124h1v1h-1zM558 124h1v1h-1zM559 124h1v1h-1zM586 124h1v1h-1zM606 124h1v1h-1zM530 125h1v1h-1zM586 125h1v1h-1zM587 125h1v1h-1zM606 125h1v1h-1zM529 126h1v1h-1zM536 126h1v1h-1zM537 126h1v1h-1zM587 126h1v1h-1zM529 127h1v1h-1zM537 127h1v1h-1zM588 127h1v1h-1zM605 127h1v1h-1zM606 127h1v1h-1zM589 128h1v1h-1zM604 128h1v1h-1zM605 128h1v1h-1zM528 129h1v1h-1zM537 129h1v1h-1zM590 129h1v1h-1zM602 129h1v1h-1zM604 129h1v1h-1zM528 130h1v1h-1zM537 130h1v1h-1zM590 130h1v1h-1zM591 130h1v1h-1zM601 130h1v1h-1zM537 131h1v1h-1zM591 131h1v1h-1zM592 131h1v1h-1zM593 131h1v1h-1zM594 131h1v1h-1zM595 131h1v1h-1zM596 131h1v1h-1zM600 131h1v1h-1zM601 131h1v1h-1zM527 132h1v1h-1zM537 132h1v1h-1zM594 132h1v1h-1zM595 132h1v1h-1zM596 132h1v1h-1zM598 132h1v1h-1zM599 132h1v1h-1zM600 132h1v1h-1zM537 133h1v1h-1zM537 134h1v1h-1zM526 138h1v1h-1zM536 138h1v1h-1zM526 139h1v1h-1zM536 139h1v1h-1zM527 141h1v1h-1zM527 142h1v1h-1zM535 142h1v1h-1zM535 143h1v1h-1zM528 144h1v1h-1zM534 144h1v1h-1zM533 145h1v1h-1zM534 145h1v1h-1zM529 146h1v1h-1zM532 146h1v1h-1zM529 147h1v1h-1zM530 147h1v1h-1zM531 147h1v1h-1z"/>
<path fill="#00abea" d="M593 114h1v1h-1zM594 114h1v1h-1zM595 114h1v1h-1zM596 114h1v1h-1zM597 114h1v1h-1zM592 115h1v1h-1zM593 115h1v1h-1zM598 115h1v1h-1zM599 115h1v1h-1zM600 115h1v1h-1zM590 116h1v1h-1zM591 116h1v1h-1zM602 116h1v1h-1zM603 116h1v1h-1zM590 117h1v1h-1zM604 117h1v1h-1zM605 117h1v1h-1zM589 118h1v1h-1zM606 118h1v1h-1zM588 119h1v1h-1zM589 119h1v1h-1zM606 119h1v1h-1zM588 120h1v1h-1zM588 121h1v1h-1zM606 121h1v1h-1zM588 122h1v1h-1zM606 122h1v1h-1zM587 123h1v1h-1zM588 123h1v1h-1zM605 123h1v1h-1zM606 123h1v1h-1zM531 124h1v1h-1zM532 124h1v1h-1zM533 124h1v1h-1zM534 124h1v1h-1zM587 124h1v1h-1zM588 124h1v1h-1zM605 124h1v1h-1zM531 125h1v1h-1zM532 125h1v1h-1zM533 125h1v1h-1zM534 125h1v1h-1zM535 125h1v1h-1zM588 125h1v1h-1zM530 126h1v1h-1zM531 126h1v1h-1zM535 126h1v1h-1zM588 126h1v1h-1zM589 126h1v1h-1zM604 126h1v1h-1zM605 126h1v1h-1zM530 127h1v1h-1zM589 127h1v1h-1zM590 127h1v1h-1zM603 127h1v1h-1zM604 127h1v1h-1zM529 128h1v1h-1zM536 128h1v1h-1zM590 128h1v1h-1zM603 128h1v1h-1zM529 129h1v1h-1zM536 129h1v1h-1zM591 129h1v1h-1zM600 129h1v1h-1zM601 129h1v1h-1zM529 130h1v1h-1zM536 130h1v1h-1zM592 130h1v1h-1zM593 130h1v1h-1zM594 130h1v1h-1zM595 130h1v1h-1zM596 130h1v1h-1zM597 130h1v1h-1zM598 130h1v1h-1zM599 130h1v1h-1zM600 130h1v1h-1zM528 131h1v1h-1zM536 131h1v1h-1zM597 131h1v1h-1zM598 131h1v1h-1zM599 131h1v1h-1zM528 132h1v1h-1zM528 133h1v1h-1zM536 133h1v1h-1zM536 134h1v1h-1zM527 135h1v1h-1zM536 135h1v1h-1zM536 136h1v1h-1zM527 138h1v1h-1zM527 139h1v1h-1zM535 139h1v1h-1zM527 140h1v1h-1zM535 140h1v1h-1zM528 142h1v1h-1zM534 142h1v1h-1zM534 143h1v1h-1zM529 144h1v1h-1zM533 144h1v1h-1zM530 145h1v1h-1zM531 145h1v1h-1zM530 146h1v1h-1zM531 146h1v1h-1z"/>
<path fill="#01d2d7" d="M594 115h1v1h-1zM595 115h1v1h-1zM596 115h1v1h-1zM597 115h1v1h-1zM592 116h1v1h-1zM593 116h1v1h-1zM598 116h1v1h-1zM599 116h1v1h-1zM600 116h1v1h-1zM601 116h1v1h-1zM591 117h1v1h-1zM592 117h1v1h-1zM602 117h1v1h-1zM603 117h1v1h-1zM590 118h1v1h-1zM591 118h1v1h-1zM603 118h1v1h-1zM604 118h1v1h-1zM605 118h1v1h-1zM590 119h1v1h-1zM604 119h1v1h-1zM605 119h1v1h-1zM589 120h1v1h-1zM590 120h1v1h-1zM604 120h1v1h-1zM605 120h1v1h-1zM589 121h1v1h-1zM604 121h1v1h-1zM605 121h1v1h-1zM589 122h1v1h-1zM604 122h1v1h-1zM605 122h1v1h-1zM589 123h1v1h-1zM604 123h1v1h-1zM589 124h1v1h-1zM604 124h1v1h-1zM589 125h1v1h-1zM590 125h1v1h-1zM603 125h1v1h-1zM604 125h1v1h-1zM532 126h1v1h-1zM533 126h1v1h-1zM534 126h1v1h-1zM590 126h1v1h-1zM602 126h1v1h-1zM603 126h1v1h-1zM531 127h1v1h-1zM532 127h1v1h-1zM533 127h1v1h-1zM534 127h1v1h-1zM535 127h1v1h-1zM591 127h1v1h-1zM601 127h1v1h-1zM602 127h1v1h-1zM530 128h1v1h-1zM531 128h1v1h-1zM535 128h1v1h-1zM591 128h1v1h-1zM592 128h1v1h-1zM600 128h1v1h-1zM601 128h1v1h-1zM530 129h1v1h-1zM592 129h1v1h-1zM593 129h1v1h-1zM594 129h1v1h-1zM595 129h1v1h-1zM596 129h1v1h-1zM597 129h1v1h-1zM598 129h1v1h-1zM599 129h1v1h-1zM529 131h1v1h-1zM529 132h1v1h-1zM528 134h1v1h-1zM528 135h1v1h-1zM535 138h1v1h-1zM528 140h1v1h-1zM528 141h1v1h-1zM533 142h1v1h-1zM529 143h1v1h-1zM532 143h1v1h-1zM533 143h1v1h-1zM530 144h1v1h-1zM531 144h1v1h-1zM532 144h1v1h-1z"/>
<path fill="#19cf7d" d="M594 116h1v1h-1zM595 116h1v1h-1zM596 116h1v1h-1zM597 116h1v1h-1zM593 117h1v1h-1zM594 117h1v1h-1zM599 117h1v1h-1zM600 117h1v1h-1zM601 117h1v1h-1zM592 118h1v1h-1zM602 118h1v1h-1zM591 119h1v1h-1zM603 119h1v1h-1zM591 120h1v1h-1zM603 120h1v1h-1zM590 121h1v1h-1zM591 121h1v1h-1zM603 121h1v1h-1zM590 122h1v1h-1zM603 122h1v1h-1zM590 123h1v1h-1zM603 123h1v1h-1zM590 124h1v1h-1zM603 124h1v1h-1zM591 125h1v1h-1zM602 125h1v1h-1zM591 126h1v1h-1zM601 126h1v1h-1zM592 127h1v1h-1zM593 127h1v1h-1zM600 127h1v1h-1zM532 128h1v1h-1zM533 128h1v1h-1zM534 128h1v1h-1zM593 128h1v1h-1zM594 128h1v1h-1zM595 128h1v1h-1zM596 128h1v1h-1zM597 128h1v1h-1zM598 128h1v1h-1zM599 128h1v1h-1zM531 129h1v1h-1zM535 129h1v1h-1zM530 130h1v1h-1zM535 130h1v1h-1zM530 131h1v1h-1zM535 131h1v1h-1zM535 132h1v1h-1zM529 133h1v1h-1zM535 133h1v1h-1zM528 136h1v1h-1zM528 137h1v1h-1zM535 137h1v1h-1zM528 138h1v1h-1zM528 139h1v1h-1zM529 141h1v1h-1zM533 141h1v1h-1zM529 142h1v1h-1zM532 142h1v1h-1zM530 143h1v1h-1zM531 143h1v1h-1z"/>
<path fill="#45d138" d="M595 117h1v1h-1zM596 117h1v1h-1zM597 117h1v1h-1zM598 117h1v1h-1zM593 118h1v1h-1zM594 118h1v1h-1zM595 118h1v1h-1zM597 118h1v1h-1zM598 118h1v1h-1zM599 118h1v1h-1zM600 118h1v1h-1zM601 118h1v1h-1zM592 119h1v1h-1zM593 119h1v1h-1zM601 119h1v1h-1zM602 119h1v1h-1zM592 120h1v1h-1zM602 120h1v1h-1zM592 121h1v1h-1zM602 121h1v1h-1zM591 122h1v1h-1zM592 122h1v1h-1zM602 122h1v1h-1zM591 123h1v1h-1zM592 123h1v1h-1zM602 123h1v1h-1zM591 124h1v1h-1zM592 124h1v1h-1zM601 124h1v1h-1zM602 124h1v1h-1zM592 125h1v1h-1zM600 125h1v1h-1zM601 125h1v1h-1zM592 126h1v1h-1zM593 126h1v1h-1zM599 126h1v1h-1zM600 126h1v1h-1zM594 127h1v1h-1zM595 127h1v1h-1zM596 127h1v1h-1zM597 127h1v1h-1zM598 127h1v1h-1zM599 127h1v1h-1zM532 129h1v1h-1zM533 129h1v1h-1zM534 129h1v1h-1zM531 130h1v1h-1zM533 130h1v1h-1zM534 130h1v1h-1zM534 131h1v1h-1zM530 132h1v1h-1zM529 134h1v1h-1zM535 134h1v1h-1zM535 135h1v1h-1zM535 136h1v1h-1zM534 139h1v1h-1zM529 140h1v1h-1zM533 140h1v1h-1zM530 141h1v1h-1zM532 141h1v1h-1zM530 142h1v1h-1zM531 142h1v1h-1z"/>
<path fill="#92db15" d="M596 118h1v1h-1zM594 119h1v1h-1zM595 119h1v1h-1zM596 119h1v1h-1zM597 119h1v1h-1zM598 119h1v1h-1zM599 119h1v1h-1zM600 119h1v1h-1zM593 120h1v1h-1zM601 120h1v1h-1zM593 121h1v1h-1zM601 121h1v1h-1zM593 122h1v1h-1zM601 122h1v1h-1zM593 123h1v1h-1zM601 123h1v1h-1zM593 124h1v1h-1zM600 124h1v1h-1zM593 125h1v1h-1zM599 125h1v1h-1zM594 126h1v1h-1zM595 126h1v1h-1zM596 126h1v1h-1zM597 126h1v1h-1zM598 126h1v1h-1zM532 130h1v1h-1zM531 131h1v1h-1zM532 131h1v1h-1zM533 131h1v1h-1zM531 132h1v1h-1zM534 132h1v1h-1zM530 133h1v1h-1zM534 133h1v1h-1zM529 135h1v1h-1zM529 136h1v1h-1zM529 137h1v1h-1zM529 138h1v1h-1zM529 139h1v1h-1zM530 140h1v1h-1zM531 141h1v1h-1z"/>
<path fill="#ced100" d="M594 120h1v1h-1zM595 120h1v1h-1zM596 120h1v1h-1zM597 120h1v1h-1zM598 120h1v1h-1zM599 120h1v1h-1zM600 120h1v1h-1zM594 121h1v1h-1zM599 121h1v1h-1zM600 121h1v1h-1zM594 122h1v1h-1zM600 122h1v1h-1zM594 123h1v1h-1zM600 123h1v1h-1zM594 124h1v1h-1zM599 124h1v1h-1zM594 125h1v1h-1zM595 125h1v1h-1zM596 125h1v1h-1zM597 125h1v1h-1zM598 125h1v1h-1zM532 132h1v1h-1zM533 132h1v1h-1zM531 133h1v1h-1zM530 134h1v1h-1zM534 134h1v1h-1zM534 135h1v1h-1zM534 136h1v1h-1zM534 137h1v1h-1zM530 139h1v1h-1zM533 139h1v1h-1zM531 140h1v1h-1zM532 140h1v1h-1z"/>
<path fill="#f5aa00" d="M595 121h1v1h-1zM596 121h1v1h-1zM597 121h1v1h-1zM598 121h1v1h-1zM595 122h1v1h-1zM596 122h1v1h-1zM597 122h1v1h-1zM598 122h1v1h-1zM599 122h1v1h-1zM595 123h1v1h-1zM596 123h1v1h-1zM597 123h1v1h-1zM598 123h1v1h-1zM599 123h1v1h-1zM595 124h1v1h-1zM596 124h1v1h-1zM597 124h1v1h-1zM598 124h1v1h-1zM532 133h1v1h-1zM533 133h1v1h-1zM531 134h1v1h-1zM530 135h1v1h-1zM530 136h1v1h-1zM530 138h1v1h-1zM533 138h1v1h-1zM531 139h1v1h-1zM532 139h1v1h-1z"/>
<path fill="#f87505" d="M532 134h1v1h-1zM533 134h1v1h-1zM531 135h1v1h-1zM533 135h1v1h-1zM530 137h1v1h-1zM533 137h1v1h-1zM531 138h1v1h-1z"/>
<path fill="#ef3b0c" d="M532 135h1v1h-1zM531 136h1v1h-1zM532 136h1v1h-1zM533 136h1v1h-1zM531 137h1v1h-1zM532 137h1v1h-1zM532 138h1v1h-1z"/></g>
<rect x="42.60" y="8.40" width="171.50" height="171.30" fill="none" stroke="#454545" stroke-width="1.3"/>
<line x1="42.60" y1="179.70" x2="42.60" y2="184.20" stroke="#454545" stroke-width="1.3"/>
<line x1="55.51" y1="179.70" x2="55.51" y2="181.90" stroke="#454545" stroke-width="1.3"/>
<line x1="63.05" y1="179.70" x2="63.05" y2="181.90" stroke="#454545" stroke-width="1.3"/>
<line x1="68.41" y1="179.70" x2="68.41" y2="181.90" stroke="#454545" stroke-width="1.3"/>
<line x1="72.56" y1="179.70" x2="72.56" y2="181.90" stroke="#454545" stroke-width="1.3"/>
<line x1="75.96" y1="179.70" x2="75.96" y2="181.90" stroke="#454545" stroke-width="1.3"/>
<line x1="78.83" y1="179.70" x2="78.83" y2="181.90" stroke="#454545" stroke-width="1.3"/>
<line x1="81.32" y1="179.70" x2="81.32" y2="181.90" stroke="#454545" stroke-width="1.3"/>
<line x1="83.51" y1="179.70" x2="83.51" y2="181.90" stroke="#454545" stroke-width="1.3"/>
<line x1="85.47" y1="179.70" x2="85.47" y2="184.20" stroke="#454545" stroke-width="1.3"/>
<line x1="98.38" y1="179.70" x2="98.38" y2="181.90" stroke="#454545" stroke-width="1.3"/>
<line x1="105.92" y1="179.70" x2="105.92" y2="181.90" stroke="#454545" stroke-width="1.3"/>
<line x1="111.28" y1="179.70" x2="111.28" y2="181.90" stroke="#454545" stroke-width="1.3"/>
<line x1="115.43" y1="179.70" x2="115.43" y2="181.90" stroke="#454545" stroke-width="1.3"/>
<line x1="118.83" y1="179.70" x2="118.83" y2="181.90" stroke="#454545" stroke-width="1.3"/>
<line x1="121.70" y1="179.70" x2="121.70" y2="181.90" stroke="#454545" stroke-width="1.3"/>
<line x1="124.19" y1="179.70" x2="124.19" y2="181.90" stroke="#454545" stroke-width="1.3"/>
<line x1="126.38" y1="179.70" x2="126.38" y2="181.90" stroke="#454545" stroke-width="1.3"/>
<line x1="128.34" y1="179.70" x2="128.34" y2="184.20" stroke="#454545" stroke-width="1.3"/>
<line x1="141.25" y1="179.70" x2="141.25" y2="181.90" stroke="#454545" stroke-width="1.3"/>
<line x1="148.79" y1="179.70" x2="148.79" y2="181.90" stroke="#454545" stroke-width="1.3"/>
<line x1="154.15" y1="179.70" x2="154.15" y2="181.90" stroke="#454545" stroke-width="1.3"/>
<line x1="158.30" y1="179.70" x2="158.30" y2="181.90" stroke="#454545" stroke-width="1.3"/>
<line x1="161.70" y1="179.70" x2="161.70" y2="181.90" stroke="#454545" stroke-width="1.3"/>
<line x1="164.57" y1="179.70" x2="164.57" y2="181.90" stroke="#454545" stroke-width="1.3"/>
<line x1="167.06" y1="179.70" x2="167.06" y2="181.90" stroke="#454545" stroke-width="1.3"/>
<line x1="169.25" y1="179.70" x2="169.25" y2="181.90" stroke="#454545" stroke-width="1.3"/>
<line x1="171.21" y1="179.70" x2="171.21" y2="184.20" stroke="#454545" stroke-width="1.3"/>
<line x1="184.12" y1="179.70" x2="184.12" y2="181.90" stroke="#454545" stroke-width="1.3"/>
<line x1="191.66" y1="179.70" x2="191.66" y2="181.90" stroke="#454545" stroke-width="1.3"/>
<line x1="197.02" y1="179.70" x2="197.02" y2="181.90" stroke="#454545" stroke-width="1.3"/>
<line x1="201.17" y1="179.70" x2="201.17" y2="181.90" stroke="#454545" stroke-width="1.3"/>
<line x1="204.57" y1="179.70" x2="204.57" y2="181.90" stroke="#454545" stroke-width="1.3"/>
<line x1="207.44" y1="179.70" x2="207.44" y2="181.90" stroke="#454545" stroke-width="1.3"/>
<line x1="209.93" y1="179.70" x2="209.93" y2="181.90" stroke="#454545" stroke-width="1.3"/>
<line x1="212.12" y1="179.70" x2="212.12" y2="181.90" stroke="#454545" stroke-width="1.3"/>
<line x1="214.08" y1="179.70" x2="214.08" y2="184.20" stroke="#454545" stroke-width="1.3"/>
<line x1="38.10" y1="179.70" x2="42.60" y2="179.70" stroke="#454545" stroke-width="1.3"/>
<line x1="40.00" y1="166.81" x2="42.60" y2="166.81" stroke="#454545" stroke-width="1.3"/>
<line x1="40.00" y1="159.27" x2="42.60" y2="159.27" stroke="#454545" stroke-width="1.3"/>
<line x1="40.00" y1="153.92" x2="42.60" y2="153.92" stroke="#454545" stroke-width="1.3"/>
<line x1="40.00" y1="149.77" x2="42.60" y2="149.77" stroke="#454545" stroke-width="1.3"/>
<line x1="40.00" y1="146.38" x2="42.60" y2="146.38" stroke="#454545" stroke-width="1.3"/>
<line x1="40.00" y1="143.51" x2="42.60" y2="143.51" stroke="#454545" stroke-width="1.3"/>
<line x1="40.00" y1="141.03" x2="42.60" y2="141.03" stroke="#454545" stroke-width="1.3"/>
<line x1="40.00" y1="138.84" x2="42.60" y2="138.84" stroke="#454545" stroke-width="1.3"/>
<line x1="38.10" y1="136.88" x2="42.60" y2="136.88" stroke="#454545" stroke-width="1.3"/>
<line x1="40.00" y1="123.99" x2="42.60" y2="123.99" stroke="#454545" stroke-width="1.3"/>
<line x1="40.00" y1="116.45" x2="42.60" y2="116.45" stroke="#454545" stroke-width="1.3"/>
<line x1="40.00" y1="111.10" x2="42.60" y2="111.10" stroke="#454545" stroke-width="1.3"/>
<line x1="40.00" y1="106.95" x2="42.60" y2="106.95" stroke="#454545" stroke-width="1.3"/>
<line x1="40.00" y1="103.56" x2="42.60" y2="103.56" stroke="#454545" stroke-width="1.3"/>
<line x1="40.00" y1="100.69" x2="42.60" y2="100.69" stroke="#454545" stroke-width="1.3"/>
<line x1="40.00" y1="98.21" x2="42.60" y2="98.21" stroke="#454545" stroke-width="1.3"/>
<line x1="40.00" y1="96.02" x2="42.60" y2="96.02" stroke="#454545" stroke-width="1.3"/>
<line x1="38.10" y1="94.06" x2="42.60" y2="94.06" stroke="#454545" stroke-width="1.3"/>
<line x1="40.00" y1="81.17" x2="42.60" y2="81.17" stroke="#454545" stroke-width="1.3"/>
<line x1="40.00" y1="73.63" x2="42.60" y2="73.63" stroke="#454545" stroke-width="1.3"/>
<line x1="40.00" y1="68.28" x2="42.60" y2="68.28" stroke="#454545" stroke-width="1.3"/>
<line x1="40.00" y1="64.13" x2="42.60" y2="64.13" stroke="#454545" stroke-width="1.3"/>
<line x1="40.00" y1="60.74" x2="42.60" y2="60.74" stroke="#454545" stroke-width="1.3"/>
<line x1="40.00" y1="57.87" x2="42.60" y2="57.87" stroke="#454545" stroke-width="1.3"/>
<line x1="40.00" y1="55.39" x2="42.60" y2="55.39" stroke="#454545" stroke-width="1.3"/>
<line x1="40.00" y1="53.20" x2="42.60" y2="53.20" stroke="#454545" stroke-width="1.3"/>
<line x1="38.10" y1="51.24" x2="42.60" y2="51.24" stroke="#454545" stroke-width="1.3"/>
<line x1="40.00" y1="38.35" x2="42.60" y2="38.35" stroke="#454545" stroke-width="1.3"/>
<line x1="40.00" y1="30.81" x2="42.60" y2="30.81" stroke="#454545" stroke-width="1.3"/>
<line x1="40.00" y1="25.46" x2="42.60" y2="25.46" stroke="#454545" stroke-width="1.3"/>
<line x1="40.00" y1="21.31" x2="42.60" y2="21.31" stroke="#454545" stroke-width="1.3"/>
<line x1="40.00" y1="17.92" x2="42.60" y2="17.92" stroke="#454545" stroke-width="1.3"/>
<line x1="40.00" y1="15.05" x2="42.60" y2="15.05" stroke="#454545" stroke-width="1.3"/>
<line x1="40.00" y1="12.57" x2="42.60" y2="12.57" stroke="#454545" stroke-width="1.3"/>
<line x1="40.00" y1="10.38" x2="42.60" y2="10.38" stroke="#454545" stroke-width="1.3"/>
<line x1="38.10" y1="8.42" x2="42.60" y2="8.42" stroke="#454545" stroke-width="1.3"/>
<rect x="272.70" y="8.10" width="171.60" height="171.30" fill="none" stroke="#454545" stroke-width="1.3"/>
<line x1="272.70" y1="179.40" x2="272.70" y2="183.90" stroke="#454545" stroke-width="1.3"/>
<line x1="281.07" y1="179.40" x2="281.07" y2="181.60" stroke="#454545" stroke-width="1.3"/>
<line x1="289.45" y1="179.40" x2="289.45" y2="181.60" stroke="#454545" stroke-width="1.3"/>
<line x1="297.82" y1="179.40" x2="297.82" y2="181.60" stroke="#454545" stroke-width="1.3"/>
<line x1="306.20" y1="179.40" x2="306.20" y2="183.90" stroke="#454545" stroke-width="1.3"/>
<line x1="314.57" y1="179.40" x2="314.57" y2="181.60" stroke="#454545" stroke-width="1.3"/>
<line x1="322.95" y1="179.40" x2="322.95" y2="181.60" stroke="#454545" stroke-width="1.3"/>
<line x1="331.32" y1="179.40" x2="331.32" y2="181.60" stroke="#454545" stroke-width="1.3"/>
<line x1="339.70" y1="179.40" x2="339.70" y2="183.90" stroke="#454545" stroke-width="1.3"/>
<line x1="348.07" y1="179.40" x2="348.07" y2="181.60" stroke="#454545" stroke-width="1.3"/>
<line x1="356.45" y1="179.40" x2="356.45" y2="181.60" stroke="#454545" stroke-width="1.3"/>
<line x1="364.82" y1="179.40" x2="364.82" y2="181.60" stroke="#454545" stroke-width="1.3"/>
<line x1="373.20" y1="179.40" x2="373.20" y2="183.90" stroke="#454545" stroke-width="1.3"/>
<line x1="381.57" y1="179.40" x2="381.57" y2="181.60" stroke="#454545" stroke-width="1.3"/>
<line x1="389.95" y1="179.40" x2="389.95" y2="181.60" stroke="#454545" stroke-width="1.3"/>
<line x1="398.32" y1="179.40" x2="398.32" y2="181.60" stroke="#454545" stroke-width="1.3"/>
<line x1="406.70" y1="179.40" x2="406.70" y2="183.90" stroke="#454545" stroke-width="1.3"/>
<line x1="415.07" y1="179.40" x2="415.07" y2="181.60" stroke="#454545" stroke-width="1.3"/>
<line x1="423.45" y1="179.40" x2="423.45" y2="181.60" stroke="#454545" stroke-width="1.3"/>
<line x1="431.82" y1="179.40" x2="431.82" y2="181.60" stroke="#454545" stroke-width="1.3"/>
<line x1="440.20" y1="179.40" x2="440.20" y2="183.90" stroke="#454545" stroke-width="1.3"/>
<line x1="268.20" y1="179.40" x2="272.70" y2="179.40" stroke="#454545" stroke-width="1.3"/>
<line x1="270.10" y1="171.04" x2="272.70" y2="171.04" stroke="#454545" stroke-width="1.3"/>
<line x1="270.10" y1="162.68" x2="272.70" y2="162.68" stroke="#454545" stroke-width="1.3"/>
<line x1="270.10" y1="154.32" x2="272.70" y2="154.32" stroke="#454545" stroke-width="1.3"/>
<line x1="268.20" y1="145.96" x2="272.70" y2="145.96" stroke="#454545" stroke-width="1.3"/>
<line x1="270.10" y1="137.60" x2="272.70" y2="137.60" stroke="#454545" stroke-width="1.3"/>
<line x1="270.10" y1="129.24" x2="272.70" y2="129.24" stroke="#454545" stroke-width="1.3"/>
<line x1="270.10" y1="120.88" x2="272.70" y2="120.88" stroke="#454545" stroke-width="1.3"/>
<line x1="268.20" y1="112.52" x2="272.70" y2="112.52" stroke="#454545" stroke-width="1.3"/>
<line x1="270.10" y1="104.16" x2="272.70" y2="104.16" stroke="#454545" stroke-width="1.3"/>
<line x1="270.10" y1="95.80" x2="272.70" y2="95.80" stroke="#454545" stroke-width="1.3"/>
<line x1="270.10" y1="87.44" x2="272.70" y2="87.44" stroke="#454545" stroke-width="1.3"/>
<line x1="268.20" y1="79.08" x2="272.70" y2="79.08" stroke="#454545" stroke-width="1.3"/>
<line x1="270.10" y1="70.72" x2="272.70" y2="70.72" stroke="#454545" stroke-width="1.3"/>
<line x1="270.10" y1="62.36" x2="272.70" y2="62.36" stroke="#454545" stroke-width="1.3"/>
<line x1="270.10" y1="54.00" x2="272.70" y2="54.00" stroke="#454545" stroke-width="1.3"/>
<line x1="268.20" y1="45.64" x2="272.70" y2="45.64" stroke="#454545" stroke-width="1.3"/>
<line x1="270.10" y1="37.28" x2="272.70" y2="37.28" stroke="#454545" stroke-width="1.3"/>
<line x1="270.10" y1="28.92" x2="272.70" y2="28.92" stroke="#454545" stroke-width="1.3"/>
<line x1="270.10" y1="20.56" x2="272.70" y2="20.56" stroke="#454545" stroke-width="1.3"/>
<line x1="268.20" y1="12.20" x2="272.70" y2="12.20" stroke="#454545" stroke-width="1.3"/>
<rect x="505.90" y="8.10" width="171.70" height="171.40" fill="none" stroke="#454545" stroke-width="1.3"/>
<line x1="505.90" y1="179.50" x2="505.90" y2="184.00" stroke="#454545" stroke-width="1.3"/>
<line x1="514.25" y1="179.50" x2="514.25" y2="181.70" stroke="#454545" stroke-width="1.3"/>
<line x1="522.60" y1="179.50" x2="522.60" y2="181.70" stroke="#454545" stroke-width="1.3"/>
<line x1="530.95" y1="179.50" x2="530.95" y2="181.70" stroke="#454545" stroke-width="1.3"/>
<line x1="539.30" y1="179.50" x2="539.30" y2="184.00" stroke="#454545" stroke-width="1.3"/>
<line x1="547.65" y1="179.50" x2="547.65" y2="181.70" stroke="#454545" stroke-width="1.3"/>
<line x1="556.00" y1="179.50" x2="556.00" y2="181.70" stroke="#454545" stroke-width="1.3"/>
<line x1="564.35" y1="179.50" x2="564.35" y2="181.70" stroke="#454545" stroke-width="1.3"/>
<line x1="572.70" y1="179.50" x2="572.70" y2="184.00" stroke="#454545" stroke-width="1.3"/>
<line x1="581.05" y1="179.50" x2="581.05" y2="181.70" stroke="#454545" stroke-width="1.3"/>
<line x1="589.40" y1="179.50" x2="589.40" y2="181.70" stroke="#454545" stroke-width="1.3"/>
<line x1="597.75" y1="179.50" x2="597.75" y2="181.70" stroke="#454545" stroke-width="1.3"/>
<line x1="606.10" y1="179.50" x2="606.10" y2="184.00" stroke="#454545" stroke-width="1.3"/>
<line x1="614.45" y1="179.50" x2="614.45" y2="181.70" stroke="#454545" stroke-width="1.3"/>
<line x1="622.80" y1="179.50" x2="622.80" y2="181.70" stroke="#454545" stroke-width="1.3"/>
<line x1="631.15" y1="179.50" x2="631.15" y2="181.70" stroke="#454545" stroke-width="1.3"/>
<line x1="639.50" y1="179.50" x2="639.50" y2="184.00" stroke="#454545" stroke-width="1.3"/>
<line x1="647.85" y1="179.50" x2="647.85" y2="181.70" stroke="#454545" stroke-width="1.3"/>
<line x1="656.20" y1="179.50" x2="656.20" y2="181.70" stroke="#454545" stroke-width="1.3"/>
<line x1="664.55" y1="179.50" x2="664.55" y2="181.70" stroke="#454545" stroke-width="1.3"/>
<line x1="672.90" y1="179.50" x2="672.90" y2="184.00" stroke="#454545" stroke-width="1.3"/>
<line x1="501.40" y1="179.50" x2="505.90" y2="179.50" stroke="#454545" stroke-width="1.3"/>
<line x1="503.30" y1="166.60" x2="505.90" y2="166.60" stroke="#454545" stroke-width="1.3"/>
<line x1="503.30" y1="159.06" x2="505.90" y2="159.06" stroke="#454545" stroke-width="1.3"/>
<line x1="503.30" y1="153.70" x2="505.90" y2="153.70" stroke="#454545" stroke-width="1.3"/>
<line x1="503.30" y1="149.55" x2="505.90" y2="149.55" stroke="#454545" stroke-width="1.3"/>
<line x1="503.30" y1="146.16" x2="505.90" y2="146.16" stroke="#454545" stroke-width="1.3"/>
<line x1="503.30" y1="143.29" x2="505.90" y2="143.29" stroke="#454545" stroke-width="1.3"/>
<line x1="503.30" y1="140.80" x2="505.90" y2="140.80" stroke="#454545" stroke-width="1.3"/>
<line x1="503.30" y1="138.61" x2="505.90" y2="138.61" stroke="#454545" stroke-width="1.3"/>
<line x1="501.40" y1="136.65" x2="505.90" y2="136.65" stroke="#454545" stroke-width="1.3"/>
<line x1="503.30" y1="123.75" x2="505.90" y2="123.75" stroke="#454545" stroke-width="1.3"/>
<line x1="503.30" y1="116.21" x2="505.90" y2="116.21" stroke="#454545" stroke-width="1.3"/>
<line x1="503.30" y1="110.85" x2="505.90" y2="110.85" stroke="#454545" stroke-width="1.3"/>
<line x1="503.30" y1="106.70" x2="505.90" y2="106.70" stroke="#454545" stroke-width="1.3"/>
<line x1="503.30" y1="103.31" x2="505.90" y2="103.31" stroke="#454545" stroke-width="1.3"/>
<line x1="503.30" y1="100.44" x2="505.90" y2="100.44" stroke="#454545" stroke-width="1.3"/>
<line x1="503.30" y1="97.95" x2="505.90" y2="97.95" stroke="#454545" stroke-width="1.3"/>
<line x1="503.30" y1="95.76" x2="505.90" y2="95.76" stroke="#454545" stroke-width="1.3"/>
<line x1="501.40" y1="93.80" x2="505.90" y2="93.80" stroke="#454545" stroke-width="1.3"/>
<line x1="503.30" y1="80.90" x2="505.90" y2="80.90" stroke="#454545" stroke-width="1.3"/>
<line x1="503.30" y1="73.36" x2="505.90" y2="73.36" stroke="#454545" stroke-width="1.3"/>
<line x1="503.30" y1="68.00" x2="505.90" y2="68.00" stroke="#454545" stroke-width="1.3"/>
<line x1="503.30" y1="63.85" x2="505.90" y2="63.85" stroke="#454545" stroke-width="1.3"/>
<line x1="503.30" y1="60.46" x2="505.90" y2="60.46" stroke="#454545" stroke-width="1.3"/>
<line x1="503.30" y1="57.59" x2="505.90" y2="57.59" stroke="#454545" stroke-width="1.3"/>
<line x1="503.30" y1="55.10" x2="505.90" y2="55.10" stroke="#454545" stroke-width="1.3"/>
<line x1="503.30" y1="52.91" x2="505.90" y2="52.91" stroke="#454545" stroke-width="1.3"/>
<line x1="501.40" y1="50.95" x2="505.90" y2="50.95" stroke="#454545" stroke-width="1.3"/>
<line x1="503.30" y1="38.05" x2="505.90" y2="38.05" stroke="#454545" stroke-width="1.3"/>
<line x1="503.30" y1="30.51" x2="505.90" y2="30.51" stroke="#454545" stroke-width="1.3"/>
<line x1="503.30" y1="25.15" x2="505.90" y2="25.15" stroke="#454545" stroke-width="1.3"/>
<line x1="503.30" y1="21.00" x2="505.90" y2="21.00" stroke="#454545" stroke-width="1.3"/>
<line x1="503.30" y1="17.61" x2="505.90" y2="17.61" stroke="#454545" stroke-width="1.3"/>
<line x1="503.30" y1="14.74" x2="505.90" y2="14.74" stroke="#454545" stroke-width="1.3"/>
<line x1="503.30" y1="12.25" x2="505.90" y2="12.25" stroke="#454545" stroke-width="1.3"/>
<line x1="503.30" y1="10.06" x2="505.90" y2="10.06" stroke="#454545" stroke-width="1.3"/>
<line x1="501.40" y1="8.10" x2="505.90" y2="8.10" stroke="#454545" stroke-width="1.3"/>
<rect x="383.30" y="228.70" width="171.20" height="170.80" fill="none" stroke="#454545" stroke-width="1.3"/>
<line x1="383.30" y1="399.50" x2="383.30" y2="404.00" stroke="#454545" stroke-width="1.3"/>
<line x1="391.63" y1="399.50" x2="391.63" y2="401.70" stroke="#454545" stroke-width="1.3"/>
<line x1="399.96" y1="399.50" x2="399.96" y2="401.70" stroke="#454545" stroke-width="1.3"/>
<line x1="408.29" y1="399.50" x2="408.29" y2="401.70" stroke="#454545" stroke-width="1.3"/>
<line x1="416.62" y1="399.50" x2="416.62" y2="404.00" stroke="#454545" stroke-width="1.3"/>
<line x1="424.95" y1="399.50" x2="424.95" y2="401.70" stroke="#454545" stroke-width="1.3"/>
<line x1="433.28" y1="399.50" x2="433.28" y2="401.70" stroke="#454545" stroke-width="1.3"/>
<line x1="441.61" y1="399.50" x2="441.61" y2="401.70" stroke="#454545" stroke-width="1.3"/>
<line x1="449.94" y1="399.50" x2="449.94" y2="404.00" stroke="#454545" stroke-width="1.3"/>
<line x1="458.27" y1="399.50" x2="458.27" y2="401.70" stroke="#454545" stroke-width="1.3"/>
<line x1="466.60" y1="399.50" x2="466.60" y2="401.70" stroke="#454545" stroke-width="1.3"/>
<line x1="474.93" y1="399.50" x2="474.93" y2="401.70" stroke="#454545" stroke-width="1.3"/>
<line x1="483.26" y1="399.50" x2="483.26" y2="404.00" stroke="#454545" stroke-width="1.3"/>
<line x1="491.59" y1="399.50" x2="491.59" y2="401.70" stroke="#454545" stroke-width="1.3"/>
<line x1="499.92" y1="399.50" x2="499.92" y2="401.70" stroke="#454545" stroke-width="1.3"/>
<line x1="508.25" y1="399.50" x2="508.25" y2="401.70" stroke="#454545" stroke-width="1.3"/>
<line x1="516.58" y1="399.50" x2="516.58" y2="404.00" stroke="#454545" stroke-width="1.3"/>
<line x1="524.91" y1="399.50" x2="524.91" y2="401.70" stroke="#454545" stroke-width="1.3"/>
<line x1="533.24" y1="399.50" x2="533.24" y2="401.70" stroke="#454545" stroke-width="1.3"/>
<line x1="541.57" y1="399.50" x2="541.57" y2="401.70" stroke="#454545" stroke-width="1.3"/>
<line x1="549.90" y1="399.50" x2="549.90" y2="404.00" stroke="#454545" stroke-width="1.3"/>
<line x1="378.80" y1="399.50" x2="383.30" y2="399.50" stroke="#454545" stroke-width="1.3"/>
<line x1="380.70" y1="385.83" x2="383.30" y2="385.83" stroke="#454545" stroke-width="1.3"/>
<line x1="380.70" y1="372.17" x2="383.30" y2="372.17" stroke="#454545" stroke-width="1.3"/>
<line x1="380.70" y1="358.50" x2="383.30" y2="358.50" stroke="#454545" stroke-width="1.3"/>
<line x1="378.80" y1="344.83" x2="383.30" y2="344.83" stroke="#454545" stroke-width="1.3"/>
<line x1="380.70" y1="331.16" x2="383.30" y2="331.16" stroke="#454545" stroke-width="1.3"/>
<line x1="380.70" y1="317.50" x2="383.30" y2="317.50" stroke="#454545" stroke-width="1.3"/>
<line x1="380.70" y1="303.83" x2="383.30" y2="303.83" stroke="#454545" stroke-width="1.3"/>
<line x1="378.80" y1="290.16" x2="383.30" y2="290.16" stroke="#454545" stroke-width="1.3"/>
<line x1="380.70" y1="276.49" x2="383.30" y2="276.49" stroke="#454545" stroke-width="1.3"/>
<line x1="380.70" y1="262.83" x2="383.30" y2="262.83" stroke="#454545" stroke-width="1.3"/>
<line x1="380.70" y1="249.16" x2="383.30" y2="249.16" stroke="#454545" stroke-width="1.3"/>
<line x1="378.80" y1="235.49" x2="383.30" y2="235.49" stroke="#454545" stroke-width="1.3"/>
<line x1="145.80" y1="229.20" x2="317.40" y2="229.20" stroke="#7c7c7c" stroke-width="1.4"/>
<line x1="145.80" y1="229.20" x2="145.80" y2="404.90" stroke="#8a8a8a" stroke-width="1.4"/>
<line x1="317.40" y1="229.20" x2="317.40" y2="400.10" stroke="#606060" stroke-width="1.3"/>
<line x1="141.30" y1="400.10" x2="317.40" y2="400.10" stroke="#2e2e3a" stroke-width="1.4"/>
<line x1="154.18" y1="400.10" x2="154.18" y2="402.30" stroke="#3a3a3a" stroke-width="1.2"/>
<line x1="162.55" y1="400.10" x2="162.55" y2="402.30" stroke="#3a3a3a" stroke-width="1.2"/>
<line x1="170.93" y1="400.10" x2="170.93" y2="402.30" stroke="#3a3a3a" stroke-width="1.2"/>
<line x1="179.30" y1="400.10" x2="179.30" y2="404.60" stroke="#3a3a3a" stroke-width="1.2"/>
<line x1="187.68" y1="400.10" x2="187.68" y2="402.30" stroke="#3a3a3a" stroke-width="1.2"/>
<line x1="196.05" y1="400.10" x2="196.05" y2="402.30" stroke="#3a3a3a" stroke-width="1.2"/>
<line x1="204.43" y1="400.10" x2="204.43" y2="402.30" stroke="#3a3a3a" stroke-width="1.2"/>
<line x1="212.80" y1="400.10" x2="212.80" y2="404.60" stroke="#3a3a3a" stroke-width="1.2"/>
<line x1="221.18" y1="400.10" x2="221.18" y2="402.30" stroke="#3a3a3a" stroke-width="1.2"/>
<line x1="229.55" y1="400.10" x2="229.55" y2="402.30" stroke="#3a3a3a" stroke-width="1.2"/>
<line x1="237.93" y1="400.10" x2="237.93" y2="402.30" stroke="#3a3a3a" stroke-width="1.2"/>
<line x1="246.30" y1="400.10" x2="246.30" y2="404.60" stroke="#3a3a3a" stroke-width="1.2"/>
<line x1="254.68" y1="400.10" x2="254.68" y2="402.30" stroke="#3a3a3a" stroke-width="1.2"/>
<line x1="263.05" y1="400.10" x2="263.05" y2="402.30" stroke="#3a3a3a" stroke-width="1.2"/>
<line x1="271.43" y1="400.10" x2="271.43" y2="402.30" stroke="#3a3a3a" stroke-width="1.2"/>
<line x1="279.80" y1="400.10" x2="279.80" y2="404.60" stroke="#3a3a3a" stroke-width="1.2"/>
<line x1="288.18" y1="400.10" x2="288.18" y2="402.30" stroke="#3a3a3a" stroke-width="1.2"/>
<line x1="296.55" y1="400.10" x2="296.55" y2="402.30" stroke="#3a3a3a" stroke-width="1.2"/>
<line x1="304.93" y1="400.10" x2="304.93" y2="402.30" stroke="#3a3a3a" stroke-width="1.2"/>
<line x1="313.30" y1="400.10" x2="313.30" y2="404.60" stroke="#3a3a3a" stroke-width="1.2"/>
<path d="M383.60,398.70 C385.88,398.70 394.57,399.22 397.30,398.70 C400.03,398.18 399.10,396.85 400.00,395.60 C400.90,394.35 401.83,392.57 402.70,391.20 C403.57,389.83 404.55,389.10 405.20,387.40 C405.85,385.70 406.22,384.78 406.60,381.00 C406.98,377.22 407.25,371.87 407.50,364.70 C407.75,357.53 407.87,348.78 408.10,338.00 C408.33,327.22 408.60,312.03 408.90,300.00 C409.20,287.97 409.63,272.60 409.90,265.80 C410.17,259.00 410.30,259.20 410.50,259.20 C410.70,259.20 410.97,261.50 411.10,265.80 C411.23,270.10 411.22,279.30 411.30,285.00 C411.38,290.70 411.50,294.17 411.60,300.00 C411.70,305.83 411.75,312.20 411.90,320.00 C412.05,327.80 412.22,338.55 412.50,346.80 C412.78,355.05 413.15,363.53 413.60,369.50 C414.05,375.47 414.48,379.10 415.20,382.60 C415.92,386.10 416.85,388.67 417.90,390.50 C418.95,392.33 420.15,392.80 421.50,393.60 C422.85,394.40 424.67,395.10 426.00,395.30 C427.33,395.50 428.32,395.23 429.50,394.80 C430.68,394.37 431.90,393.53 433.10,392.70 C434.30,391.87 435.65,389.87 436.70,389.80 C437.75,389.73 438.50,391.30 439.40,392.30 C440.30,393.30 440.77,394.88 442.10,395.80 C443.43,396.72 445.02,397.47 447.40,397.80 C449.78,398.13 454.20,398.05 456.40,397.80 C458.60,397.55 459.60,397.18 460.60,396.30 C461.60,395.42 461.67,395.45 462.40,392.50 C463.13,389.55 464.23,382.95 465.00,378.60 C465.77,374.25 466.32,370.80 467.00,366.40 C467.68,362.00 468.42,356.60 469.10,352.20 C469.78,347.80 470.45,344.20 471.10,340.00 C471.75,335.80 472.47,329.90 473.00,327.00 C473.53,324.10 473.90,323.47 474.30,322.60 C474.70,321.73 475.02,321.73 475.40,321.80 C475.78,321.87 476.17,321.97 476.60,323.00 C477.03,324.03 477.53,325.50 478.00,328.00 C478.47,330.50 478.88,332.63 479.40,338.00 C479.92,343.37 480.48,353.48 481.10,360.20 C481.72,366.92 482.27,373.12 483.10,378.30 C483.93,383.48 485.10,388.30 486.10,391.30 C487.10,394.30 488.10,395.15 489.10,396.30 C490.10,397.45 491.12,397.80 492.10,398.20 C493.08,398.60 484.68,398.62 495.00,398.70 C505.32,398.78 544.17,398.70 554.00,398.70" fill="none" stroke="#222" stroke-width="1.25" stroke-linejoin="round"/>
<path d="M146.30,399.60 C146.63,399.53 147.73,401.22 148.30,399.20 C148.87,397.18 149.32,391.75 149.70,387.50 C150.08,383.25 150.30,379.62 150.60,373.70 C150.90,367.78 151.27,357.95 151.50,352.00 C151.73,346.05 151.80,341.27 152.00,338.00 C152.20,334.73 152.43,332.73 152.70,332.40 C152.97,332.07 153.22,333.40 153.60,336.00 C153.98,338.60 154.52,344.08 155.00,348.00 C155.48,351.92 156.08,356.88 156.50,359.50 C156.92,362.12 156.97,362.40 157.50,363.70 C158.03,365.00 158.95,365.93 159.70,367.30 C160.45,368.67 161.30,370.22 162.00,371.90 C162.70,373.58 163.28,375.72 163.90,377.40 C164.52,379.08 165.12,380.97 165.70,382.00 C166.28,383.03 166.87,383.75 167.40,383.60 C167.93,383.45 168.53,383.50 168.90,381.10 C169.27,378.70 169.40,373.42 169.60,369.20 C169.80,364.98 169.88,364.00 170.10,355.80 C170.32,347.60 170.70,329.30 170.90,320.00 C171.10,310.70 171.12,308.00 171.30,300.00 C171.48,292.00 171.77,278.67 172.00,272.00 C172.23,265.33 172.45,262.73 172.70,260.00 C172.95,257.27 173.23,255.60 173.50,255.60 C173.77,255.60 174.07,257.27 174.30,260.00 C174.53,262.73 174.73,265.33 174.90,272.00 C175.07,278.67 175.20,292.00 175.30,300.00 C175.40,308.00 175.42,312.20 175.50,320.00 C175.58,327.80 175.60,340.13 175.80,346.80 C176.00,353.47 176.37,355.47 176.70,360.00 C177.03,364.53 177.35,370.50 177.80,374.00 C178.25,377.50 178.82,378.90 179.40,381.00 C179.98,383.10 180.40,385.08 181.30,386.60 C182.20,388.12 183.63,389.10 184.80,390.10 C185.97,391.10 187.13,392.23 188.30,392.60 C189.47,392.97 190.63,392.47 191.80,392.30 C192.97,392.13 194.23,392.15 195.30,391.60 C196.37,391.05 197.40,389.72 198.20,389.00 C199.00,388.28 199.47,387.30 200.10,387.30 C200.73,387.30 201.35,388.15 202.00,389.00 C202.65,389.85 203.08,391.52 204.00,392.40 C204.92,393.28 206.03,393.68 207.50,394.30 C208.97,394.92 211.05,395.72 212.80,396.10 C214.55,396.48 216.40,396.68 218.00,396.60 C219.60,396.52 221.30,396.37 222.40,395.60 C223.50,394.83 223.87,394.37 224.60,392.00 C225.33,389.63 226.13,385.07 226.80,381.40 C227.47,377.73 228.10,373.40 228.60,370.00 C229.10,366.60 229.28,365.23 229.80,361.00 C230.32,356.77 231.08,349.43 231.70,344.60 C232.32,339.77 232.95,335.10 233.50,332.00 C234.05,328.90 234.48,327.58 235.00,326.00 C235.52,324.42 236.05,323.30 236.60,322.50 C237.15,321.70 237.73,321.20 238.30,321.20 C238.87,321.20 239.50,321.62 240.00,322.50 C240.50,323.38 240.93,324.92 241.30,326.50 C241.67,328.08 241.73,328.75 242.20,332.00 C242.67,335.25 243.55,341.33 244.10,346.00 C244.65,350.67 245.08,355.00 245.50,360.00 C245.92,365.00 246.10,371.17 246.60,376.00 C247.10,380.83 247.82,385.97 248.50,389.00 C249.18,392.03 249.93,393.07 250.70,394.20 C251.47,395.33 252.02,395.48 253.10,395.80 C254.18,396.12 256.02,395.85 257.20,396.10 C258.38,396.35 258.85,397.12 260.20,397.30 C261.55,397.48 263.60,397.35 265.30,397.20 C267.00,397.05 268.87,396.40 270.40,396.40 C271.93,396.40 272.78,397.00 274.50,397.20 C276.22,397.40 278.48,397.48 280.70,397.60 C282.92,397.72 286.10,397.72 287.80,397.90 C289.50,398.08 289.87,398.70 290.90,398.70 C291.93,398.70 292.65,398.15 294.00,397.90 C295.35,397.65 297.48,397.42 299.00,397.20 C300.52,396.98 301.73,396.67 303.10,396.60 C304.47,396.53 306.08,396.93 307.20,396.80 C308.32,396.67 309.03,396.10 309.80,395.80 C310.57,395.50 311.12,394.98 311.80,395.00 C312.48,395.02 313.22,395.37 313.90,395.90 C314.58,396.43 315.38,397.62 315.90,398.20 C316.42,398.78 316.82,399.20 317.00,399.40" fill="none" stroke="#e8625e" stroke-width="1.1" stroke-linejoin="round"/>
<path d="M146.40,399.30 C148.62,399.23 157.10,399.35 159.70,398.90 C162.30,398.45 161.23,397.67 162.00,396.60 C162.77,395.53 163.53,393.72 164.30,392.50 C165.07,391.28 165.98,390.28 166.60,389.30 C167.22,388.32 167.62,387.97 168.00,386.60 C168.38,385.23 168.63,384.00 168.90,381.10 C169.17,378.20 169.40,373.42 169.60,369.20 C169.80,364.98 169.88,364.00 170.10,355.80 C170.32,347.60 170.70,329.30 170.90,320.00 C171.10,310.70 171.12,308.00 171.30,300.00 C171.48,292.00 171.77,278.50 172.00,272.00 C172.23,265.50 172.45,263.57 172.70,261.00 C172.95,258.43 173.23,256.60 173.50,256.60 C173.77,256.60 174.07,258.43 174.30,261.00 C174.53,263.57 174.73,265.50 174.90,272.00 C175.07,278.50 175.20,292.00 175.30,300.00 C175.40,308.00 175.42,312.20 175.50,320.00 C175.58,327.80 175.60,340.13 175.80,346.80 C176.00,353.47 176.40,354.75 176.70,360.00 C177.00,365.25 177.22,373.87 177.60,378.30 C177.98,382.73 178.38,384.48 179.00,386.60 C179.62,388.72 180.33,389.83 181.30,391.00 C182.27,392.17 183.63,392.87 184.80,393.60 C185.97,394.33 187.13,395.17 188.30,395.40 C189.47,395.63 190.63,395.37 191.80,395.00 C192.97,394.63 194.22,393.93 195.30,393.20 C196.38,392.47 197.50,391.18 198.30,390.60 C199.10,390.02 199.52,389.63 200.10,389.70 C200.68,389.77 201.15,390.35 201.80,391.00 C202.45,391.65 203.05,392.80 204.00,393.60 C204.95,394.40 206.33,395.20 207.50,395.80 C208.67,396.40 209.68,396.90 211.00,397.20 C212.32,397.50 213.93,397.53 215.40,397.60 C216.87,397.67 218.48,397.82 219.80,397.60 C221.12,397.38 222.43,397.40 223.30,396.30 C224.17,395.20 224.42,393.48 225.00,391.00 C225.58,388.52 226.20,384.90 226.80,381.40 C227.40,377.90 228.10,373.40 228.60,370.00 C229.10,366.60 229.28,365.23 229.80,361.00 C230.32,356.77 231.08,349.43 231.70,344.60 C232.32,339.77 232.95,335.10 233.50,332.00 C234.05,328.90 234.48,327.55 235.00,326.00 C235.52,324.45 236.05,323.43 236.60,322.70 C237.15,321.97 237.73,321.58 238.30,321.60 C238.87,321.62 239.50,321.98 240.00,322.80 C240.50,323.62 240.93,324.97 241.30,326.50 C241.67,328.03 241.73,328.75 242.20,332.00 C242.67,335.25 243.55,341.33 244.10,346.00 C244.65,350.67 245.08,355.00 245.50,360.00 C245.92,365.00 246.10,371.13 246.60,376.00 C247.10,380.87 247.82,386.07 248.50,389.20 C249.18,392.33 249.78,393.47 250.70,394.80 C251.62,396.13 252.78,396.52 254.00,397.20 C255.22,397.88 247.53,398.55 258.00,398.90 C268.47,399.25 307.00,399.23 316.80,399.30 Z" fill="#0a02a6" stroke="none"/>
<text x="20.80" y="23.00" font-family='"Liberation Serif", serif' font-size="9.5" font-weight="bold" text-anchor="start" fill="#111" >10</text>
<text x="31.10" y="17.10" font-family='"Liberation Serif", serif' font-size="7.2" font-weight="bold" text-anchor="start" fill="#111" >4</text>
<text x="20.80" y="54.00" font-family='"Liberation Serif", serif' font-size="9.5" font-weight="bold" text-anchor="start" fill="#111" >10</text>
<text x="31.10" y="48.10" font-family='"Liberation Serif", serif' font-size="7.2" font-weight="bold" text-anchor="start" fill="#111" >3</text>
<text x="20.80" y="96.70" font-family='"Liberation Serif", serif' font-size="9.5" font-weight="bold" text-anchor="start" fill="#111" >10</text>
<text x="31.10" y="90.80" font-family='"Liberation Serif", serif' font-size="7.2" font-weight="bold" text-anchor="start" fill="#111" >2</text>
<text x="20.80" y="139.60" font-family='"Liberation Serif", serif' font-size="9.5" font-weight="bold" text-anchor="start" fill="#111" >10</text>
<text x="31.10" y="133.70" font-family='"Liberation Serif", serif' font-size="7.2" font-weight="bold" text-anchor="start" fill="#111" >1</text>
<text x="20.80" y="179.00" font-family='"Liberation Serif", serif' font-size="9.5" font-weight="bold" text-anchor="start" fill="#111" >10</text>
<text x="31.10" y="173.10" font-family='"Liberation Serif", serif' font-size="7.2" font-weight="bold" text-anchor="start" fill="#111" >0</text>
<text x="45.20" y="197.10" font-family='"Liberation Serif", serif' font-size="9.5" font-weight="bold" text-anchor="start" fill="#111" >10</text>
<text x="55.50" y="191.20" font-family='"Liberation Serif", serif' font-size="7.2" font-weight="bold" text-anchor="start" fill="#111" >0</text>
<text x="80.40" y="197.10" font-family='"Liberation Serif", serif' font-size="9.5" font-weight="bold" text-anchor="start" fill="#111" >10</text>
<text x="90.70" y="191.20" font-family='"Liberation Serif", serif' font-size="7.2" font-weight="bold" text-anchor="start" fill="#111" >1</text>
<text x="123.40" y="197.10" font-family='"Liberation Serif", serif' font-size="9.5" font-weight="bold" text-anchor="start" fill="#111" >10</text>
<text x="133.70" y="191.20" font-family='"Liberation Serif", serif' font-size="7.2" font-weight="bold" text-anchor="start" fill="#111" >2</text>
<text x="165.80" y="197.10" font-family='"Liberation Serif", serif' font-size="9.5" font-weight="bold" text-anchor="start" fill="#111" >10</text>
<text x="176.10" y="191.20" font-family='"Liberation Serif", serif' font-size="7.2" font-weight="bold" text-anchor="start" fill="#111" >3</text>
<text x="207.60" y="197.10" font-family='"Liberation Serif", serif' font-size="9.5" font-weight="bold" text-anchor="start" fill="#111" >10</text>
<text x="217.90" y="191.20" font-family='"Liberation Serif", serif' font-size="7.2" font-weight="bold" text-anchor="start" fill="#111" >4</text>
<text x="484.20" y="22.60" font-family='"Liberation Serif", serif' font-size="9.5" font-weight="bold" text-anchor="start" fill="#111" >10</text>
<text x="494.50" y="16.70" font-family='"Liberation Serif", serif' font-size="7.2" font-weight="bold" text-anchor="start" fill="#111" >4</text>
<text x="484.20" y="54.00" font-family='"Liberation Serif", serif' font-size="9.5" font-weight="bold" text-anchor="start" fill="#111" >10</text>
<text x="494.50" y="48.10" font-family='"Liberation Serif", serif' font-size="7.2" font-weight="bold" text-anchor="start" fill="#111" >3</text>
<text x="484.20" y="96.70" font-family='"Liberation Serif", serif' font-size="9.5" font-weight="bold" text-anchor="start" fill="#111" >10</text>
<text x="494.50" y="90.80" font-family='"Liberation Serif", serif' font-size="7.2" font-weight="bold" text-anchor="start" fill="#111" >2</text>
<text x="484.20" y="139.60" font-family='"Liberation Serif", serif' font-size="9.5" font-weight="bold" text-anchor="start" fill="#111" >10</text>
<text x="494.50" y="133.70" font-family='"Liberation Serif", serif' font-size="7.2" font-weight="bold" text-anchor="start" fill="#111" >1</text>
<text x="484.20" y="179.00" font-family='"Liberation Serif", serif' font-size="9.5" font-weight="bold" text-anchor="start" fill="#111" >10</text>
<text x="494.50" y="173.10" font-family='"Liberation Serif", serif' font-size="7.2" font-weight="bold" text-anchor="start" fill="#111" >0</text>
<text x="264.60" y="17.00" font-family='"Liberation Serif", serif' font-size="9.5" font-weight="bold" text-anchor="end" fill="#111" >1K</text>
<text x="264.60" y="48.60" font-family='"Liberation Serif", serif' font-size="9.5" font-weight="bold" text-anchor="end" fill="#111" >800</text>
<text x="264.60" y="82.00" font-family='"Liberation Serif", serif' font-size="9.5" font-weight="bold" text-anchor="end" fill="#111" >600</text>
<text x="264.60" y="115.50" font-family='"Liberation Serif", serif' font-size="9.5" font-weight="bold" text-anchor="end" fill="#111" >400</text>
<text x="264.60" y="149.00" font-family='"Liberation Serif", serif' font-size="9.5" font-weight="bold" text-anchor="end" fill="#111" >200</text>
<text x="264.60" y="178.60" font-family='"Liberation Serif", serif' font-size="9.5" font-weight="bold" text-anchor="end" fill="#111" >0</text>
<text x="272.10" y="196.30" font-family='"Liberation Serif", serif' font-size="9.5" font-weight="bold" text-anchor="start" fill="#111" >0</text>
<text x="303.20" y="196.30" font-family='"Liberation Serif", serif' font-size="9.5" font-weight="bold" text-anchor="middle" fill="#111" >200</text>
<text x="336.70" y="196.30" font-family='"Liberation Serif", serif' font-size="9.5" font-weight="bold" text-anchor="middle" fill="#111" >400</text>
<text x="370.20" y="196.30" font-family='"Liberation Serif", serif' font-size="9.5" font-weight="bold" text-anchor="middle" fill="#111" >600</text>
<text x="403.70" y="196.30" font-family='"Liberation Serif", serif' font-size="9.5" font-weight="bold" text-anchor="middle" fill="#111" >800</text>
<text x="437.20" y="196.30" font-family='"Liberation Serif", serif' font-size="9.5" font-weight="bold" text-anchor="middle" fill="#111" >1K</text>
<text x="505.30" y="196.30" font-family='"Liberation Serif", serif' font-size="9.5" font-weight="bold" text-anchor="start" fill="#111" >0</text>
<text x="536.30" y="196.30" font-family='"Liberation Serif", serif' font-size="9.5" font-weight="bold" text-anchor="middle" fill="#111" >200</text>
<text x="569.70" y="196.30" font-family='"Liberation Serif", serif' font-size="9.5" font-weight="bold" text-anchor="middle" fill="#111" >400</text>
<text x="603.10" y="196.30" font-family='"Liberation Serif", serif' font-size="9.5" font-weight="bold" text-anchor="middle" fill="#111" >600</text>
<text x="636.50" y="196.30" font-family='"Liberation Serif", serif' font-size="9.5" font-weight="bold" text-anchor="middle" fill="#111" >800</text>
<text x="669.90" y="196.30" font-family='"Liberation Serif", serif' font-size="9.5" font-weight="bold" text-anchor="middle" fill="#111" >1K</text>
<text x="382.70" y="417.00" font-family='"Liberation Serif", serif' font-size="9.5" font-weight="bold" text-anchor="start" fill="#111" >0</text>
<text x="413.62" y="417.00" font-family='"Liberation Serif", serif' font-size="9.5" font-weight="bold" text-anchor="middle" fill="#111" >200</text>
<text x="446.94" y="417.00" font-family='"Liberation Serif", serif' font-size="9.5" font-weight="bold" text-anchor="middle" fill="#111" >400</text>
<text x="480.26" y="417.00" font-family='"Liberation Serif", serif' font-size="9.5" font-weight="bold" text-anchor="middle" fill="#111" >600</text>
<text x="513.58" y="417.00" font-family='"Liberation Serif", serif' font-size="9.5" font-weight="bold" text-anchor="middle" fill="#111" >800</text>
<text x="546.90" y="417.00" font-family='"Liberation Serif", serif' font-size="9.5" font-weight="bold" text-anchor="middle" fill="#111" >1K</text>
<text x="145.20" y="417.00" font-family='"Liberation Serif", serif' font-size="9.5" font-weight="bold" text-anchor="start" fill="#111" >0</text>
<text x="176.30" y="417.00" font-family='"Liberation Serif", serif' font-size="9.5" font-weight="bold" text-anchor="middle" fill="#111" >200</text>
<text x="209.80" y="417.00" font-family='"Liberation Serif", serif' font-size="9.5" font-weight="bold" text-anchor="middle" fill="#111" >400</text>
<text x="243.30" y="417.00" font-family='"Liberation Serif", serif' font-size="9.5" font-weight="bold" text-anchor="middle" fill="#111" >600</text>
<text x="276.80" y="417.00" font-family='"Liberation Serif", serif' font-size="9.5" font-weight="bold" text-anchor="middle" fill="#111" >800</text>
<text x="310.30" y="417.00" font-family='"Liberation Serif", serif' font-size="9.5" font-weight="bold" text-anchor="middle" fill="#111" >1K</text>
<text x="375.20" y="238.60" font-family='"Liberation Serif", serif' font-size="9.5" font-weight="bold" text-anchor="end" fill="#111" >300</text>
<text x="375.20" y="293.60" font-family='"Liberation Serif", serif' font-size="9.5" font-weight="bold" text-anchor="end" fill="#111" >200</text>
<text x="375.20" y="348.30" font-family='"Liberation Serif", serif' font-size="9.5" font-weight="bold" text-anchor="end" fill="#111" >100</text>
<text x="375.20" y="398.80" font-family='"Liberation Serif", serif' font-size="9.5" font-weight="bold" text-anchor="end" fill="#111" >0</text>
<text x="138.20" y="399.30" font-family='"Liberation Serif", serif' font-size="9.5" font-weight="bold" text-anchor="end" fill="#111" >0</text>
<text transform="translate(13.60,88.40) rotate(-90)" x="0" y="0" font-family='"Liberation Sans", sans-serif' font-size="10.5" font-weight="bold" text-anchor="middle" fill="#111">Side Scatter</text>
<text x="128.40" y="210.60" font-family='"Liberation Sans", sans-serif' font-size="10.5" font-weight="bold" text-anchor="middle" fill="#111" >Forward Scatter</text>
<text transform="translate(247.10,98.40) rotate(-90)" x="0" y="0" font-family='"Liberation Sans", sans-serif' font-size="10.5" font-weight="bold" text-anchor="middle" fill="#111">Fluorescence Width</text>
<text x="358.20" y="210.60" font-family='"Liberation Sans", sans-serif' font-size="10.5" font-weight="bold" text-anchor="middle" fill="#111" >Fluorescence Area</text>
<text transform="translate(482.80,97.30) rotate(-90)" x="0" y="0" font-family='"Liberation Sans", sans-serif' font-size="10.2" font-weight="bold" text-anchor="middle" fill="#111">Side scatter</text>
<text x="603.50" y="208.60" font-family='"Liberation Sans", sans-serif' font-size="10.5" font-weight="bold" text-anchor="middle" fill="#111" >PI Fluorescence</text>
<text transform="translate(360.00,317.00) rotate(-90)" x="0" y="0" font-family='"Liberation Sans", sans-serif' font-size="10.1" font-weight="bold" text-anchor="middle" fill="#111">Count</text>
<text x="471.50" y="431.20" font-family='"Liberation Sans", sans-serif' font-size="10.5" font-weight="bold" text-anchor="middle" fill="#111" >PI Fluorescence</text>
<text transform="translate(131.00,309.20) rotate(-90)" x="0" y="0" font-family='"Liberation Sans", sans-serif' font-size="10.6" font-weight="bold" text-anchor="middle" fill="#111">Count</text>
<text x="229.40" y="430.50" font-family='"Liberation Sans", sans-serif' font-size="10.5" font-weight="bold" text-anchor="middle" fill="#111" >PI Fluorescence</text>
<text x="346.10" y="453.30" font-family='"Liberation Sans", sans-serif' font-size="10.5" font-weight="bold" text-anchor="middle" fill="#111" >Supplementary Fig. 1</text>
<text x="51.40" y="28.70" font-family='"Liberation Sans", sans-serif' font-size="14" font-weight="bold" text-anchor="start" fill="#111" >a</text>
<text x="283.50" y="28.60" font-family='"Liberation Sans", sans-serif' font-size="14" font-weight="bold" text-anchor="start" fill="#111" >b</text>
<text x="513.70" y="28.50" font-family='"Liberation Sans", sans-serif' font-size="14" font-weight="bold" text-anchor="start" fill="#111" >c</text>
<text x="389.80" y="248.40" font-family='"Liberation Sans", sans-serif' font-size="14" font-weight="bold" text-anchor="start" fill="#111" >d</text>
<text x="154.30" y="248.90" font-family='"Liberation Sans", sans-serif' font-size="14" font-weight="bold" text-anchor="start" fill="#111" >e</text>
<text x="543.00" y="67.80" font-family='"Liberation Serif", serif' font-size="9.5" font-weight="bold" text-anchor="start" fill="#111" >Intact nuclei</text>
<text x="542.30" y="78.50" font-family='"Liberation Serif", serif' font-size="9.5" font-weight="bold" text-anchor="start" fill="#111" >85.5%</text>
<text x="336.60" y="140.00" font-family='"Liberation Serif", serif' font-size="9.5" font-weight="bold" text-anchor="start" fill="#111" >Singlets</text>
<text x="336.00" y="151.10" font-family='"Liberation Serif", serif' font-size="9.5" font-weight="bold" text-anchor="start" fill="#111" >65.5%</text>
<polygon points="520.5,118 610.3,104.5 621,143.5 527.4,162.3" fill="none" stroke="#8a8a8a" stroke-width="0.9"/>
<polyline points="282,178.6 282,172.0 330,168.9 375,165 443.5,159.3" fill="none" stroke="#999" stroke-width="0.9"/>
<polyline points="282,178.6 443.5,175.3" fill="none" stroke="#aaa" stroke-width="0.9"/>
<line x1="216.00" y1="98.70" x2="230.70" y2="98.70" stroke="#000" stroke-width="2.2"/>
<polygon points="237.70,98.70 230.70,95.10 230.70,102.30" fill="#000"/>
<line x1="446.00" y1="98.70" x2="460.90" y2="98.70" stroke="#000" stroke-width="2.2"/>
<polygon points="467.90,98.70 460.90,95.10 460.90,102.30" fill="#000"/>
<polyline points="602,211.9 602.4,312.6 570,312.6" fill="none" stroke="#000" stroke-width="2.2"/>
<polygon points="563.1,312.8 570.3,309.2 570.3,316.4" fill="#000"/>
<line x1="345.00" y1="313.00" x2="328.40" y2="313.00" stroke="#000" stroke-width="2.2"/>
<polygon points="321.40,313.00 328.40,309.40 328.40,316.60" fill="#000"/>
</svg></body></html>
